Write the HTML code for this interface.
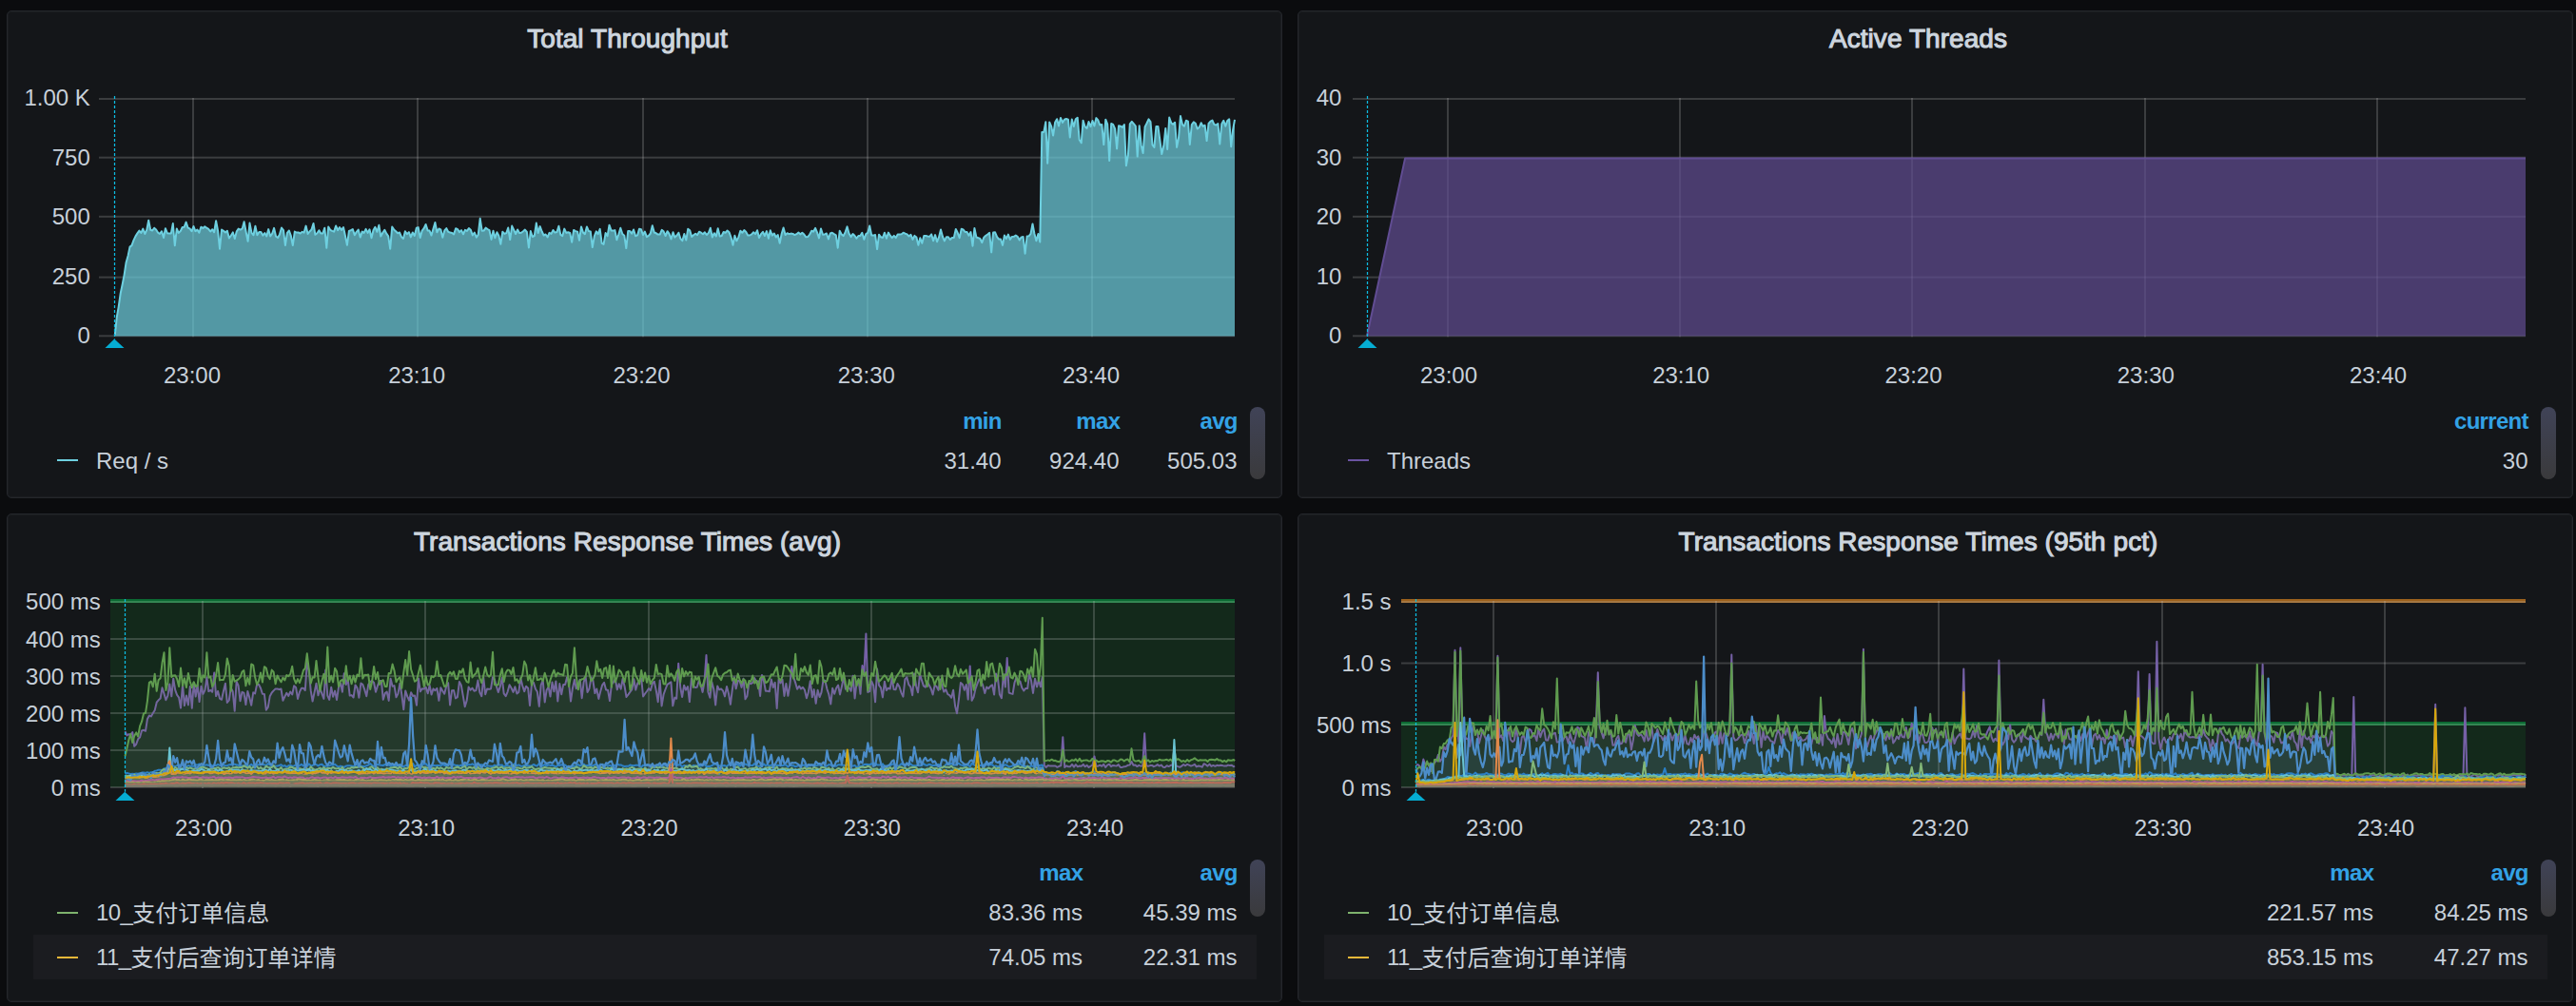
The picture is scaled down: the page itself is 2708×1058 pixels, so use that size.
<!DOCTYPE html>
<html lang="zh-CN"><head><meta charset="utf-8"><title>JMeter Dashboard</title>
<style>
html,body{margin:0;padding:0;background:#0b0c0e;}
body{width:2708px;height:1058px;position:relative;overflow:hidden;font-family:"Liberation Sans", "Noto Sans CJK SC", sans-serif;color:#c7d0d9;font-size:24px;}
.panel{position:absolute;box-sizing:border-box;background:#141619;border:1px solid #24262b;box-shadow:inset 0 0 0 1px rgba(36,38,43,0.45);border-radius:5px;}
.title{position:absolute;left:0;right:36px;text-align:center;font-size:28px;line-height:32px;color:#cdd5de;font-weight:500;-webkit-text-stroke:1.1px #cdd5de;letter-spacing:0.06px;white-space:nowrap;}
svg.charts{position:absolute;left:0;top:0;}
.t{position:absolute;white-space:nowrap;line-height:28px;height:28px;}
.r{text-align:right;}
.h{color:#33a2e5;font-weight:bold;letter-spacing:-0.7px;margin-right:-0.3px;}
.c{position:relative;top:0.7px;letter-spacing:0;}
.n{letter-spacing:-0.6px;}
.dash{position:absolute;height:2px;width:21.5px;}
.alt{position:absolute;background:#1b1c20;}
.thumb{position:absolute;width:16px;border-radius:8px;background:linear-gradient(#404357,#3a3a3c);}
</style></head><body>

<div class="panel" style="left:7px;top:11px;width:1341px;height:513px"><div class="title" style="top:13px">Total Throughput</div></div>
<div class="panel" style="left:1364px;top:11px;width:1341px;height:513px"><div class="title" style="top:13px">Active Threads</div></div>
<div class="panel" style="left:7px;top:540px;width:1341px;height:514px"><div class="title" style="top:13px">Transactions Response Times (avg)</div></div>
<div class="panel" style="left:1364px;top:540px;width:1341px;height:514px"><div class="title" style="top:13px">Transactions Response Times (95th pct)</div></div>
<div class="dash" style="left:60.4px;top:482.6px;background:#6ed0e0"></div>
<div class="t " style="left:101px;top:471px">Req / s</div>
<div class="t r h" style="right:1655.5px;top:429px">min</div>
<div class="t r h" style="right:1531px;top:429px">max</div>
<div class="t r h" style="right:1407.5px;top:429px">avg</div>
<div class="t r " style="right:1655.5px;top:471px">31.40</div>
<div class="t r " style="right:1531.5px;top:471px">924.40</div>
<div class="t r " style="right:1407.5px;top:471px">505.03</div>
<div class="thumb" style="left:1314px;top:428px;height:76px"></div>
<div class="dash" style="left:1417.4px;top:482.6px;background:#6a53a2"></div>
<div class="t " style="left:1458px;top:471px">Threads</div>
<div class="t r h" style="right:50.5px;top:429px">current</div>
<div class="t r " style="right:50.5px;top:471px">30</div>
<div class="thumb" style="left:2671px;top:428px;height:76px"></div>
<div class="alt" style="left:35px;top:983px;width:1286px;height:47px"></div>
<div class="dash" style="left:60.4px;top:958.6px;background:#7eb26d"></div>
<div class="t " style="left:101px;top:946px"><span class="n">10_</span><span class="c">支付订单信息</span></div>
<div class="dash" style="left:60.4px;top:1005.6px;background:#eab839"></div>
<div class="t " style="left:101px;top:993px"><span class="n">11_</span><span class="c">支付后查询订单详情</span></div>
<div class="t r h" style="right:1570px;top:904px">max</div>
<div class="t r h" style="right:1407.5px;top:904px">avg</div>
<div class="t r " style="right:1570px;top:946px">83.36 ms</div>
<div class="t r " style="right:1407.5px;top:946px">45.39 ms</div>
<div class="t r " style="right:1570px;top:993px">74.05 ms</div>
<div class="t r " style="right:1407.5px;top:993px">22.31 ms</div>
<div class="thumb" style="left:1314px;top:904px;height:60px"></div>
<div class="alt" style="left:1392px;top:983px;width:1286px;height:47px"></div>
<div class="dash" style="left:1417.4px;top:958.6px;background:#7eb26d"></div>
<div class="t " style="left:1458px;top:946px"><span class="n">10_</span><span class="c">支付订单信息</span></div>
<div class="dash" style="left:1417.4px;top:1005.6px;background:#eab839"></div>
<div class="t " style="left:1458px;top:993px"><span class="n">11_</span><span class="c">支付后查询订单详情</span></div>
<div class="t r h" style="right:213px;top:904px">max</div>
<div class="t r h" style="right:50.5px;top:904px">avg</div>
<div class="t r " style="right:213px;top:946px">221.57 ms</div>
<div class="t r " style="right:50.5px;top:946px">84.25 ms</div>
<div class="t r " style="right:213px;top:993px">853.15 ms</div>
<div class="t r " style="right:50.5px;top:993px">47.27 ms</div>
<div class="thumb" style="left:2671px;top:904px;height:60px"></div>
<svg class="charts" width="2708" height="1058" viewBox="0 0 2708 1058">
<g>
<rect x="104" y="352.3" width="1194" height="2" fill="rgba(200,200,200,0.22)"/>
<rect x="104" y="290.6" width="1194" height="2" fill="rgba(200,200,200,0.22)"/>
<rect x="104" y="226.8" width="1194" height="2" fill="rgba(200,200,200,0.22)"/>
<rect x="104" y="164.7" width="1194" height="2" fill="rgba(200,200,200,0.22)"/>
<rect x="104" y="103" width="1194" height="2" fill="rgba(200,200,200,0.22)"/>
<rect x="202" y="103" width="2" height="251.3" fill="rgba(200,200,200,0.22)"/>
<rect x="438" y="103" width="2" height="251.3" fill="rgba(200,200,200,0.22)"/>
<rect x="675" y="103" width="2" height="251.3" fill="rgba(200,200,200,0.22)"/>
<rect x="911" y="103" width="2" height="251.3" fill="rgba(200,200,200,0.22)"/>
<rect x="1147" y="103" width="2" height="251.3" fill="rgba(200,200,200,0.22)"/>
<g transform="scale(0.1)" stroke-linejoin="round"><path d="M1208 3523l20-189 19-108 20-141 20-95 19-99 20-132 20-70 19-93 20-15 20-55 19-40 20-32 20-28 19 24 20-44 20 54 20-44 19-99 20 101 20 7 19-28 20 17 20 33 19 13 20-28 20 68 19-98 20 51 20 3 19 0 20-105 20 231 20-177 19 44 20-18 20-41 19-2 20-52 20 60 19 8 20 29 20-53 19 51 20-15 20 31 19-60 20 12 20-17 20 15 19 11 20 27 20-23 19 30 20-120 20 107 19 188 20-202 20 14 19 15 20-17 20 78 19-28 20-33 20 66 20-77 19-27 20 10 20-12 19-71 20 105 20 100 19-192 20 103 20 24 19-95 20 94 20-33 19 1 20 36 20-25 20 34 19-74 20 73 20-29 19-56 20 88 20 12 19-35 20-69 20 25 19 160 20-131 20-24 19 53 20 103 20-145 20 10 19-1 20 10 20-17 19 8 20-70 20 84 19-25 20-21 20-64 19 118 20-16 20-30 19 32 20 1 20-58 20 210 19-222 20 33 20 11 19 7 20-61 20 47 19-31 20 28 20-29 19 87 20 101 20-149 19-7 20-11 20 62 20-35 19-22 20 80 20-60 19 13 20-40 20 40 19-36 20 89 20-82 19-32 20 50 20-70 19 118 20-39 20-29 20 39 19 27 20 133 20-231 19 28 20 18 20 20 19-7 20 47 20 17 19-76 20 28 20-20 19 53 20-49 20 34 20-81 19-7 20 110 20-75 19-24 20-42 20 64 19 2 20 49 20-71 19-64 20 103 20-38 19 8 20 85 20-74 20-23 19 37 20 8 20 4 19 14 20-62 20 9 19 30 20-20 20 42 19-44 20 10 20-28 19 16 20 58 20-30 20 51 19-27 20-171 20 129 19-1 20-30 20 14 19 11 20 98 20-92 19 76 20-61 20 37 19 89 20-130 20 21 20-8 19-56 20 126 20-145 19 41 20 43 20-45 19 34 20-1 20-16 19-16 20 24 20 164 19-173 20 59 20-10 20-134 19 104 20-69 20 54 19 40 20-10 20 30 19-46 20 10 20-39 19 26 20-6 20-63 19 92 20 12 20-75 20 43 19-7 20 8 20 97 19-128 20 12 20 5 19 92 20-144 20 62 19 15 20-77 20 47 19 3 20 167 20-118 20-49 19 27 20-52 20 150 19 10 20-118 20 31 19-115 20 57 20 2 19-5 20 101 20-59 19-65 20 62 20 17 20 134 19-180 20 0 20 26 19-42 20 67 20-8 19-67 20 6 20 57 19-34 20 55 20-13 19-23 20-83 20 73 20 8 19 13 20 0 20-48 19 15 20 47 20-48 19 27 20 55 20-72 19 54 20-18 20-31 19 62 20 23 20-72 20 65 19-117 20 15 20 67 19-18 20-15 20 14 19-34 20 10 20 16 19-20 20 27 20-21 19-51 20 97 20-43 20 32 19-82 20 84 20-6 19-40 20 8 20-23 19 17 20 53 20 82 19-99 20 55 20-39 19-66 20 20 20-28 20 19 19 35 20 1 20-12 19-21 20 19 20-39 19 79 20-39 20-24 19 42 20-49 20 77 19-85 20 53 20-21 20 40 19-25 20 87 20-100 19-62 20 76 20-19 19 9 20-5 20 3 19 12 20-9 20-17 19 19 20-16 20 18 20 27 19-2 20-26 20-38 19 9 20-37 20 47 19 58 20-99 20 63 19-4 20-9 20 59 19-59 20-8 20 14 20 13 19 133 20-179 20 37 19 16 20-39 20-58 19 71 20 36 20-31 19 18 20 29 20-26 19 0 20-33 20 70 20-56 19-13 20-74 20 100 19 1 20-6 20 151 19-154 20 26 20 7 19-53 20 61 20-62 19 31 20 24 20-22 20 22 19-35 20-2 20-2 19-15 20 10 20 7 19 21 20-16 20 50 19-40 20 17 20 82 19-75 20 54 20-76 20-1 19 5 20 3 20-24 19 68 20-61 20 71 19-48 20-79 20 75 19 44 20-42 20 1 19 27 20-20 20 0 20-91 19 39 20 53 20-94 19 7 20 26 20 1 19 37 20-37 20 146 19-187 20 95 20 7 19 8 20 41 20-54 20-19 19-13 20-16 20 204 19-208 20-2 20 49 19 23 20 0 20 64 19-105 20 36 20-44 19 53 20-30 20-1 20-13 19 13 20 36 20-30 19-3 20 176 20-182 19-2 20-24 20-105 19 104 20 75 20-73 19 85 20-1156 20 0 20-106 19 435 20-434 20 44 19 98 20-138 20-36 19 73 20-86 20 50 19-31 20-8 20 7 19 187 20-190 20 76 20-77 19-16 20 233 20 33 19-236 20 65 20 17 19-69 20 51 20-61 19 55 20-84 20 24 19 50 20-6 20 212 20-264 19 49 20 383 20-389 19 8 20 46 20 209 19-240 20 4 20 12 19-29 20 432 20-112 19-326 20-26 20 24 20 24 19 320 20-323 20 206 19 82 20-277 20-39 19-42 20 28 20 242 19 26 20-218 20-1 19 138 20 152 20-84 20-187 19 220 20-333 20 56 19 16 20-21 20 262 19-98 20-230 20 88 19 18 20-60 20 9 19 244 20-209 20-28 20 15 19 57 20-17 20-46 19 37 20-12 20 164 19-181 20-23 20-11 19 43 20 6 20-15 19 214 20-212 20-34 20 59 19-57 20-16 20 288 19-176 19-108 0 2277 -11772 0z" fill="#6ed0e0" fill-opacity="0.7"/><path d="M1208 3523l20-189 19-108 20-141 20-95 19-99 20-132 20-70 19-93 20-15 20-55 19-40 20-32 20-28 19 24 20-44 20 54 20-44 19-99 20 101 20 7 19-28 20 17 20 33 19 13 20-28 20 68 19-98 20 51 20 3 19 0 20-105 20 231 20-177 19 44 20-18 20-41 19-2 20-52 20 60 19 8 20 29 20-53 19 51 20-15 20 31 19-60 20 12 20-17 20 15 19 11 20 27 20-23 19 30 20-120 20 107 19 188 20-202 20 14 19 15 20-17 20 78 19-28 20-33 20 66 20-77 19-27 20 10 20-12 19-71 20 105 20 100 19-192 20 103 20 24 19-95 20 94 20-33 19 1 20 36 20-25 20 34 19-74 20 73 20-29 19-56 20 88 20 12 19-35 20-69 20 25 19 160 20-131 20-24 19 53 20 103 20-145 20 10 19-1 20 10 20-17 19 8 20-70 20 84 19-25 20-21 20-64 19 118 20-16 20-30 19 32 20 1 20-58 20 210 19-222 20 33 20 11 19 7 20-61 20 47 19-31 20 28 20-29 19 87 20 101 20-149 19-7 20-11 20 62 20-35 19-22 20 80 20-60 19 13 20-40 20 40 19-36 20 89 20-82 19-32 20 50 20-70 19 118 20-39 20-29 20 39 19 27 20 133 20-231 19 28 20 18 20 20 19-7 20 47 20 17 19-76 20 28 20-20 19 53 20-49 20 34 20-81 19-7 20 110 20-75 19-24 20-42 20 64 19 2 20 49 20-71 19-64 20 103 20-38 19 8 20 85 20-74 20-23 19 37 20 8 20 4 19 14 20-62 20 9 19 30 20-20 20 42 19-44 20 10 20-28 19 16 20 58 20-30 20 51 19-27 20-171 20 129 19-1 20-30 20 14 19 11 20 98 20-92 19 76 20-61 20 37 19 89 20-130 20 21 20-8 19-56 20 126 20-145 19 41 20 43 20-45 19 34 20-1 20-16 19-16 20 24 20 164 19-173 20 59 20-10 20-134 19 104 20-69 20 54 19 40 20-10 20 30 19-46 20 10 20-39 19 26 20-6 20-63 19 92 20 12 20-75 20 43 19-7 20 8 20 97 19-128 20 12 20 5 19 92 20-144 20 62 19 15 20-77 20 47 19 3 20 167 20-118 20-49 19 27 20-52 20 150 19 10 20-118 20 31 19-115 20 57 20 2 19-5 20 101 20-59 19-65 20 62 20 17 20 134 19-180 20 0 20 26 19-42 20 67 20-8 19-67 20 6 20 57 19-34 20 55 20-13 19-23 20-83 20 73 20 8 19 13 20 0 20-48 19 15 20 47 20-48 19 27 20 55 20-72 19 54 20-18 20-31 19 62 20 23 20-72 20 65 19-117 20 15 20 67 19-18 20-15 20 14 19-34 20 10 20 16 19-20 20 27 20-21 19-51 20 97 20-43 20 32 19-82 20 84 20-6 19-40 20 8 20-23 19 17 20 53 20 82 19-99 20 55 20-39 19-66 20 20 20-28 20 19 19 35 20 1 20-12 19-21 20 19 20-39 19 79 20-39 20-24 19 42 20-49 20 77 19-85 20 53 20-21 20 40 19-25 20 87 20-100 19-62 20 76 20-19 19 9 20-5 20 3 19 12 20-9 20-17 19 19 20-16 20 18 20 27 19-2 20-26 20-38 19 9 20-37 20 47 19 58 20-99 20 63 19-4 20-9 20 59 19-59 20-8 20 14 20 13 19 133 20-179 20 37 19 16 20-39 20-58 19 71 20 36 20-31 19 18 20 29 20-26 19 0 20-33 20 70 20-56 19-13 20-74 20 100 19 1 20-6 20 151 19-154 20 26 20 7 19-53 20 61 20-62 19 31 20 24 20-22 20 22 19-35 20-2 20-2 19-15 20 10 20 7 19 21 20-16 20 50 19-40 20 17 20 82 19-75 20 54 20-76 20-1 19 5 20 3 20-24 19 68 20-61 20 71 19-48 20-79 20 75 19 44 20-42 20 1 19 27 20-20 20 0 20-91 19 39 20 53 20-94 19 7 20 26 20 1 19 37 20-37 20 146 19-187 20 95 20 7 19 8 20 41 20-54 20-19 19-13 20-16 20 204 19-208 20-2 20 49 19 23 20 0 20 64 19-105 20 36 20-44 19 53 20-30 20-1 20-13 19 13 20 36 20-30 19-3 20 176 20-182 19-2 20-24 20-105 19 104 20 75 20-73 19 85 20-1156 20 0 20-106 19 435 20-434 20 44 19 98 20-138 20-36 19 73 20-86 20 50 19-31 20-8 20 7 19 187 20-190 20 76 20-77 19-16 20 233 20 33 19-236 20 65 20 17 19-69 20 51 20-61 19 55 20-84 20 24 19 50 20-6 20 212 20-264 19 49 20 383 20-389 19 8 20 46 20 209 19-240 20 4 20 12 19-29 20 432 20-112 19-326 20-26 20 24 20 24 19 320 20-323 20 206 19 82 20-277 20-39 19-42 20 28 20 242 19 26 20-218 20-1 19 138 20 152 20-84 20-187 19 220 20-333 20 56 19 16 20-21 20 262 19-98 20-230 20 88 19 18 20-60 20 9 19 244 20-209 20-28 20 15 19 57 20-17 20-46 19 37 20-12 20 164 19-181 20-23 20-11 19 43 20 6 20-15 19 214 20-212 20-34 20 59 19-57 20-16 20 288 19-176 19-108" fill="none" stroke="#6ed0e0" stroke-width="20"/></g>
<line x1="120.5" y1="101" x2="120.5" y2="356.6" stroke="#0cbce2" stroke-width="1.25" stroke-dasharray="3.1 1.9"/><path d="M110.5,366L130.5,366L120.2,356.6Z" fill="#05add3"/>
</g>
<g>
<rect x="1422" y="352.3" width="1233" height="2" fill="rgba(200,200,200,0.22)"/>
<rect x="1422" y="290.6" width="1233" height="2" fill="rgba(200,200,200,0.22)"/>
<rect x="1422" y="226.8" width="1233" height="2" fill="rgba(200,200,200,0.22)"/>
<rect x="1422" y="164.7" width="1233" height="2" fill="rgba(200,200,200,0.22)"/>
<rect x="1422" y="103" width="1233" height="2" fill="rgba(200,200,200,0.22)"/>
<rect x="1521" y="103" width="2" height="251.3" fill="rgba(200,200,200,0.22)"/>
<rect x="1765" y="103" width="2" height="251.3" fill="rgba(200,200,200,0.22)"/>
<rect x="2009" y="103" width="2" height="251.3" fill="rgba(200,200,200,0.22)"/>
<rect x="2254" y="103" width="2" height="251.3" fill="rgba(200,200,200,0.22)"/>
<rect x="2498" y="103" width="2" height="251.3" fill="rgba(200,200,200,0.22)"/>
<g transform="scale(0.1)" stroke-linejoin="round"><path d="M14370 3535l401-1871 11779 0 0 1871 -12180 0z" fill="#614d93" fill-opacity="0.7"/><path d="M14370 3535l401-1871 11779 0" fill="none" stroke="#614d93" stroke-width="20"/></g>
<line x1="1437.5" y1="101" x2="1437.5" y2="356.6" stroke="#0cbce2" stroke-width="1.25" stroke-dasharray="3.1 1.9"/><path d="M1427.5,366L1447.5,366L1437.2,356.6Z" fill="#05add3"/>
</g>
<g>
<rect x="116" y="632" width="1182" height="196" fill="rgb(11,237,50)" fill-opacity="0.09"/>
<rect x="116" y="630" width="1182" height="4" fill="rgb(6,163,69)" fill-opacity="0.6"/>
<rect x="116" y="827" width="1182" height="2" fill="rgba(200,200,200,0.22)"/>
<rect x="116" y="788" width="1182" height="2" fill="rgba(200,200,200,0.22)"/>
<rect x="116" y="749" width="1182" height="2" fill="rgba(200,200,200,0.22)"/>
<rect x="116" y="710" width="1182" height="2" fill="rgba(200,200,200,0.22)"/>
<rect x="116" y="671" width="1182" height="2" fill="rgba(200,200,200,0.22)"/>
<rect x="116" y="632" width="1182" height="2" fill="rgba(200,200,200,0.22)"/>
<rect x="212" y="632" width="2" height="197" fill="rgba(200,200,200,0.22)"/>
<rect x="446" y="632" width="2" height="197" fill="rgba(200,200,200,0.22)"/>
<rect x="681" y="632" width="2" height="197" fill="rgba(200,200,200,0.22)"/>
<rect x="915" y="632" width="2" height="197" fill="rgba(200,200,200,0.22)"/>
<rect x="1149" y="632" width="2" height="197" fill="rgba(200,200,200,0.22)"/>
<g transform="scale(0.1)" stroke-linejoin="round"><path d="M1315 7691l19 43 20-12 19 6 20-28 19 148 20-21 19-54 20-21 19-67 20-7 20 10 19-125 20-38 19 9 20-34 19-30 20-83 19-24 20-17 19-113 20 63 19 66 20-46 19-121 20 128 19-186 20 119 19 53 20 27 19 110 20-249 19 224 20-105 20 98 19-195 20 228 19-267 20 146 19-127 20 182 19-163 20 81 19-41 20-133 19 146 20-13 19 19 20-202 19 246 20-52 19 77 20 12 19-89 20-81 19 202 20-25 19-133 20 40 20 205 19-309 20 42 19 162 20-94 19 9 20 123 19-141 20 69 19 79 20-134 19 11 20-95 19-2 20 40 19 60 20 2 19 168 20-30 19-114 20-38 19-21 20-20 20 2 19 4 20-5 19 122 20-42 19-38 20 32 19-44 20 30 19-93 20 18 19 119 20-73 19-38 20-1 19 23 20-292 19 83 20 211 19 113 20-96 19-91 20 125 19-71 20 55 20 52 19-303 20 270 19 43 20-132 19 101 20-62 19 95 20-134 19-42 20 92 19-194 20 116 19-55 20 172 19-5 20 24 19-131 20 32 19 101 20-151 19 13 20 55 20 68 19-121 20-31 19-12 20 22 19 98 20-67 19-51 20 1 19 197 20-67 19-16 20 94 19-231 20 79 19-6 20 122 19-37 20-109 19 116 20 159 19-198 20 60 19 43 20-84 20 36 19-3 20 101 19-283 20 139 19-30 20 3 19-18 20 64 19-85 20 98 19-61 20 18 19-23 20 129 19-136 20 35 19 30 20-81 19-34 20 233 19-153 20-2 20 84 19-12 20-161 19 34 20 113 19 114 20-66 19-140 20 30 19-20 20 31 19-6 20-105 19 125 20 41 19-202 20 182 19-57 20 2 19-3 20-121 19 22 20 73 19 62 20-61 20-90 19 165 20 27 19-45 20-74 19 33 20 44 19-56 20 72 19-16 20-149 19 80 20 61 19-54 20 20 19 182 20-234 19-6 20 65 19 32 20 152 19-225 20-49 20 231 19-127 20-34 19 101 20-151 19 99 20-108 19 209 20-183 19 111 20-103 19 0 20-77 19 59 20 195 19-136 20-92 19 94 20-44 19-51 20 195 19-167 20-62 19 167 20-38 20-116 19 32 20 132 19-45 20 104 19-77 20-69 19-24 20 76 19 2 20 114 19-172 20-26 19-33 20 112 19-59 20 53 19-106 20 80 19 110 20-27 19-27 20-28 20-105 19 113 20-72 19-12 20-37 19 190 20-30 19-25 20-29 19 20 20-74 19-20 20 97 19 118 20-226 19 268 20-120 19-54 20-51 19-13 20-14 19 251 20-87 19 12 20-371 20 250 19 103 20-123 19 49 20-35 19 160 20-245 19 76 20 18 19-3 20-64 19 34 20 82 19-107 20-282 19 386 20 61 19-165 20 76 19 166 20-199 19 39 20-10 20 23 19 57 20-105 19 73 20 116 19-154 20-131 19 120 20-83 19 1 20 68 19-91 20 215 19-33 20-143 19 16 20-14 19-48 20 44 19-12 20 156 19-218 20 64 19 102 20 0 20 5 19-128 20 86 19-51 20 270 19-305 20 40 19-38 20 173 19-129 20 128 19-112 20-198 19 113 20 60 19 66 20-32 19 29 20-15 19 26 20 87 19-62 20-118 20 170 19-81 20 147 19-140 20 73 19-50 20-130 19 9 20 86 19 57 20 102 19-168 20 60 19-59 20-33 19 99 20-88 19-97 20 128 19-15 20 4 19 30 20-158 19 236 20-172 20-21 19 147 20-298 19 72 20-408 19 615 20-8 19-106 20 43 19 175 20-348 19 171 20 28 19 100 20-167 19 93 20-24 19 9 20-115 19 121 20 1 19-62 20 33 20 63 19 41 20-183 19-21 20 76 19 25 20 88 19-228 20 133 19 65 20-191 19 60 20 63 19 12 20-61 19 41 20 36 19 63 20-99 19 13 20 40 19-114 20 69 19 62 20-26 20 52 19 9 20 27 19-81 20 169 19 76 20-152 19-169 20 16 19 60 20-57 19 156 20-352 19 364 20-38 19-86 20-55 19-46 20 22 19 44 20 81 19-65 20 17 20-26 19-13 20 103 19-221 20 53 19 166 20 38 19-251 20 133 19-304 20 365 19 9 20 5 19-119 20-55 19 30 20 11 19 67 20 32 19-26 20 1 19-159 20 82 19 126 20-152 20 87 19-74 20 73 19-104 20 932 19 18 20-19 19 4 20 1 19 1 20-1 19 13 20-10 19-5 20-301 19 317 20-16 19 10 20-1 19-23 20 27 19-25 20 23 20-9 19 2 20-18 19 24 20-14 19 21 20-14 19-9 20-92 19 102 20 0 19-11 20 12 19-21 20 33 19-24 20-9 19 25 20-13 19 4 20 2 19-14 20 29 19-1 20-6 20-4 19-11 20-2 19-36 20 38 19-3 20 16 19-13 20 9 19-4 20-340 19 339 20 6 19-7 20-2 19 13 20-9 19-12 20 15 19-11 20 22 19 2 20-17 20 9 19-11 20-4 19-196 20 203 19 8 20 7 19-12 20-16 19 13 20-15 19 9 20 9 19-7 20-11 19 26 20-9 19 3 20 9 19-35 20 10 19 14 20-20 19 23 20-10 20 9 19-10 20 4 19-4 20 3 19 5 20 0 19-10 20 5 19-4 20 16 11-8 0 220 -11665 0z" fill="#7560a6" fill-opacity="0.1"/><path d="M1315 7691l19 43 20-12 19 6 20-28 19 148 20-21 19-54 20-21 19-67 20-7 20 10 19-125 20-38 19 9 20-34 19-30 20-83 19-24 20-17 19-113 20 63 19 66 20-46 19-121 20 128 19-186 20 119 19 53 20 27 19 110 20-249 19 224 20-105 20 98 19-195 20 228 19-267 20 146 19-127 20 182 19-163 20 81 19-41 20-133 19 146 20-13 19 19 20-202 19 246 20-52 19 77 20 12 19-89 20-81 19 202 20-25 19-133 20 40 20 205 19-309 20 42 19 162 20-94 19 9 20 123 19-141 20 69 19 79 20-134 19 11 20-95 19-2 20 40 19 60 20 2 19 168 20-30 19-114 20-38 19-21 20-20 20 2 19 4 20-5 19 122 20-42 19-38 20 32 19-44 20 30 19-93 20 18 19 119 20-73 19-38 20-1 19 23 20-292 19 83 20 211 19 113 20-96 19-91 20 125 19-71 20 55 20 52 19-303 20 270 19 43 20-132 19 101 20-62 19 95 20-134 19-42 20 92 19-194 20 116 19-55 20 172 19-5 20 24 19-131 20 32 19 101 20-151 19 13 20 55 20 68 19-121 20-31 19-12 20 22 19 98 20-67 19-51 20 1 19 197 20-67 19-16 20 94 19-231 20 79 19-6 20 122 19-37 20-109 19 116 20 159 19-198 20 60 19 43 20-84 20 36 19-3 20 101 19-283 20 139 19-30 20 3 19-18 20 64 19-85 20 98 19-61 20 18 19-23 20 129 19-136 20 35 19 30 20-81 19-34 20 233 19-153 20-2 20 84 19-12 20-161 19 34 20 113 19 114 20-66 19-140 20 30 19-20 20 31 19-6 20-105 19 125 20 41 19-202 20 182 19-57 20 2 19-3 20-121 19 22 20 73 19 62 20-61 20-90 19 165 20 27 19-45 20-74 19 33 20 44 19-56 20 72 19-16 20-149 19 80 20 61 19-54 20 20 19 182 20-234 19-6 20 65 19 32 20 152 19-225 20-49 20 231 19-127 20-34 19 101 20-151 19 99 20-108 19 209 20-183 19 111 20-103 19 0 20-77 19 59 20 195 19-136 20-92 19 94 20-44 19-51 20 195 19-167 20-62 19 167 20-38 20-116 19 32 20 132 19-45 20 104 19-77 20-69 19-24 20 76 19 2 20 114 19-172 20-26 19-33 20 112 19-59 20 53 19-106 20 80 19 110 20-27 19-27 20-28 20-105 19 113 20-72 19-12 20-37 19 190 20-30 19-25 20-29 19 20 20-74 19-20 20 97 19 118 20-226 19 268 20-120 19-54 20-51 19-13 20-14 19 251 20-87 19 12 20-371 20 250 19 103 20-123 19 49 20-35 19 160 20-245 19 76 20 18 19-3 20-64 19 34 20 82 19-107 20-282 19 386 20 61 19-165 20 76 19 166 20-199 19 39 20-10 20 23 19 57 20-105 19 73 20 116 19-154 20-131 19 120 20-83 19 1 20 68 19-91 20 215 19-33 20-143 19 16 20-14 19-48 20 44 19-12 20 156 19-218 20 64 19 102 20 0 20 5 19-128 20 86 19-51 20 270 19-305 20 40 19-38 20 173 19-129 20 128 19-112 20-198 19 113 20 60 19 66 20-32 19 29 20-15 19 26 20 87 19-62 20-118 20 170 19-81 20 147 19-140 20 73 19-50 20-130 19 9 20 86 19 57 20 102 19-168 20 60 19-59 20-33 19 99 20-88 19-97 20 128 19-15 20 4 19 30 20-158 19 236 20-172 20-21 19 147 20-298 19 72 20-408 19 615 20-8 19-106 20 43 19 175 20-348 19 171 20 28 19 100 20-167 19 93 20-24 19 9 20-115 19 121 20 1 19-62 20 33 20 63 19 41 20-183 19-21 20 76 19 25 20 88 19-228 20 133 19 65 20-191 19 60 20 63 19 12 20-61 19 41 20 36 19 63 20-99 19 13 20 40 19-114 20 69 19 62 20-26 20 52 19 9 20 27 19-81 20 169 19 76 20-152 19-169 20 16 19 60 20-57 19 156 20-352 19 364 20-38 19-86 20-55 19-46 20 22 19 44 20 81 19-65 20 17 20-26 19-13 20 103 19-221 20 53 19 166 20 38 19-251 20 133 19-304 20 365 19 9 20 5 19-119 20-55 19 30 20 11 19 67 20 32 19-26 20 1 19-159 20 82 19 126 20-152 20 87 19-74 20 73 19-104 20 932 19 18 20-19 19 4 20 1 19 1 20-1 19 13 20-10 19-5 20-301 19 317 20-16 19 10 20-1 19-23 20 27 19-25 20 23 20-9 19 2 20-18 19 24 20-14 19 21 20-14 19-9 20-92 19 102 20 0 19-11 20 12 19-21 20 33 19-24 20-9 19 25 20-13 19 4 20 2 19-14 20 29 19-1 20-6 20-4 19-11 20-2 19-36 20 38 19-3 20 16 19-13 20 9 19-4 20-340 19 339 20 6 19-7 20-2 19 13 20-9 19-12 20 15 19-11 20 22 19 2 20-17 20 9 19-11 20-4 19-196 20 203 19 8 20 7 19-12 20-16 19 13 20-15 19 9 20 9 19-7 20-11 19 26 20-9 19 3 20 9 19-35 20 10 19 14 20-20 19 23 20-10 20 9 19-10 20 4 19-4 20 3 19 5 20 0 19-10 20 5 19-4 20 16 11-8" fill="none" stroke="#7560a6" stroke-width="20"/></g>
<g transform="scale(0.1)" stroke-linejoin="round"><path d="M1315 7952l19-79 20-93 19-61 20 92 19-72 20-35 19 41 20-109 19-47 20-84 20-7 19-125 20-194 19-13 20 57 19-136 20 181 19-116 20-20 19-159 20-110 19 397 20-82 19-366 20 307 19-15 20-1 19 37 20 81 19-195 20 186 19-79 20 97 20-151 19 89 20 63 19-59 20 48 19-7 20-184 19 141 20-67 19 23 20-263 19 264 20-12 19 106 20-41 19-79 20-131 19 184 20-5 19 1 20-57 19-169 20 82 19 262 20-167 20 66 19-10 20-13 19-20 20-59 19-15 20 163 19-86 20 71 19-213 20 11 19 124 20 80 19-40 20-86 19 102 20-164 19 13 20 84 19 32 20-95 19 21 20 125 20-87 19 37 20 31 19-46 20 27 19-54 20 12 19-23 20-81 19 130 20 47 19-44 20 39 19-56 20-74 19-22 20-155 19 162 20 151 19-63 20 2 19-176 20 178 19 139 20-105 20-73 19 98 20-380 19 365 20-64 19 67 20-146 19 31 20 160 19-57 20-13 19 41 20-187 19 159 20-54 19 84 20-88 19 71 20-80 19 18 20-191 19 214 20-38 20 2 19-5 20 154 19-82 20-158 19 133 20-73 19 130 20-34 19-13 20 67 19 0 20-139 19 3 20-97 19 66 20 120 19-31 20-19 19 116 20-164 19-133 20 159 19-250 20 190 20 62 19 66 20-14 19-77 20-81 19 106 20 117 19-106 20 91 19-13 20-80 19 11 20-18 19-150 20 156 19-9 20 62 19 57 20-7 19-117 20-29 19 29 20-32 20 76 19-1 20-83 19 18 20-41 19 97 20 41 19 6 20-212 19 159 20-26 19-16 20-55 19 102 20 52 19-75 20-90 19 77 20 24 19-21 20-238 19 341 20 8 19-7 20-99 20-68 19 138 20-96 19-31 20 5 19 41 20-70 19 138 20-16 19 40 20-44 19-40 20-142 19 38 20 161 19-54 20 107 19-82 20-104 19 128 20-3 19-15 20 31 20-85 19 60 20 86 19-73 20-60 19-44 20 69 19-40 20 13 19 3 20 11 19-115 20 5 19 227 20-106 19-35 20-267 19 298 20 142 19-96 20-13 19-4 20-28 19-100 20 78 20 72 19-21 20-42 19-145 20 109 19-24 20 92 19-99 20-10 19 109 20-133 19 230 20-222 19 168 20-58 19-70 20 19 19 46 20 64 19-105 20-7 19 194 20-62 20-175 19 85 20 37 19 54 20-146 19 114 20-89 19 103 20-68 19 83 20-41 19-21 20-141 19 101 20-6 19 8 20 101 19 3 20-196 19 117 20-34 19 25 20 51 19-91 20-29 20 138 19-147 20 84 19-53 20 37 19-32 20 6 19 157 20-113 19 32 20-29 19 99 20-2 19-68 20-45 19-119 20 279 19-135 20-54 19-52 20 85 19 14 20 30 20-56 19-17 20-8 19-17 20-7 19 111 20-27 19 49 20-93 19 60 20 41 19-43 20 15 19 77 20-76 19 7 20-62 19 81 20-28 19 84 20-107 19-17 20-2 19 64 20-10 20-34 19-43 20 5 19-43 20-40 19 116 20 27 19-45 20-116 19 2 20 24 19 33 20 26 19 56 20-260 19 267 20 7 19-122 20 33 19-52 20 63 19 26 20-105 20 196 19-81 20-9 19 87 20-240 19 63 20 149 19 15 20-16 19-70 20-15 19 23 20-70 19 124 20-12 19-109 20 128 19-82 20 109 19 86 20-120 19 67 20-96 19-18 20 109 20-73 19 72 20-169 19 65 20-37 19 193 20-77 19-108 20 27 19-149 20 115 19 95 20-18 19-26 20-20 19 19 20 42 19-39 20-47 19 103 20-52 19-30 20-29 20-34 19 80 20-36 19 4 20 0 19 0 20-11 19 134 20-172 19 42 20 23 19-122 20 0 19 166 20 76 19-146 20 36 19 22 20 71 19-53 20-31 19 130 20-143 19 106 20 11 20-193 19 84 20 17 19-23 20-105 19 83 20 28 19-76 20 49 19-19 20-24 19 140 20-26 19-44 20 143 19-81 20-123 19-13 20 173 19-118 20 52 19-188 20 158 20-131 19-11 20 95 19 95 20-42 19-146 20 43 19 129 20-57 19 8 20-85 19 108 20 11 19-58 20 49 19 77 20-144 19 5 20 36 19 66 20-130 19 52 20-73 19 104 20-291 20 54 19 281 20-174 19-491 20 1508 19-4 20-7 19 6 20-13 19 12 20-1 19 10 20 4 19-16 20-111 19 128 20-20 19 15 20-4 19-12 20 7 19-16 20 25 20-29 19 29 20-11 19-1 20-2 19 11 20-3 19-25 20 23 19-4 20 16 19-4 20-6 19 2 20 11 19-16 20 4 19 13 20-21 19 0 20 12 19-2 20-19 19 1 20 17 20-14 19-5 20 28 19-140 20 118 19 14 20-3 19-5 20 23 19-25 20-44 19 57 20-15 19 23 20-17 19 9 20-8 19 3 20-15 19 6 20 2 19-3 20-5 20 10 19-13 20 25 19-125 20 110 19-13 20 11 19 16 20-9 19 12 20-22 19 18 20-16 19-6 20-14 19 17 20 12 19-9 20 2 19 2 20-4 19 18 20-21 19-1 20 2 20 4 19-13 20 15 19-1 20 16 19-13 20 14 19-20 20 5 19 0 20-7 11 12 0 273 -11665 0z" fill="#5f9b4f" fill-opacity="0.1"/><path d="M1315 7952l19-79 20-93 19-61 20 92 19-72 20-35 19 41 20-109 19-47 20-84 20-7 19-125 20-194 19-13 20 57 19-136 20 181 19-116 20-20 19-159 20-110 19 397 20-82 19-366 20 307 19-15 20-1 19 37 20 81 19-195 20 186 19-79 20 97 20-151 19 89 20 63 19-59 20 48 19-7 20-184 19 141 20-67 19 23 20-263 19 264 20-12 19 106 20-41 19-79 20-131 19 184 20-5 19 1 20-57 19-169 20 82 19 262 20-167 20 66 19-10 20-13 19-20 20-59 19-15 20 163 19-86 20 71 19-213 20 11 19 124 20 80 19-40 20-86 19 102 20-164 19 13 20 84 19 32 20-95 19 21 20 125 20-87 19 37 20 31 19-46 20 27 19-54 20 12 19-23 20-81 19 130 20 47 19-44 20 39 19-56 20-74 19-22 20-155 19 162 20 151 19-63 20 2 19-176 20 178 19 139 20-105 20-73 19 98 20-380 19 365 20-64 19 67 20-146 19 31 20 160 19-57 20-13 19 41 20-187 19 159 20-54 19 84 20-88 19 71 20-80 19 18 20-191 19 214 20-38 20 2 19-5 20 154 19-82 20-158 19 133 20-73 19 130 20-34 19-13 20 67 19 0 20-139 19 3 20-97 19 66 20 120 19-31 20-19 19 116 20-164 19-133 20 159 19-250 20 190 20 62 19 66 20-14 19-77 20-81 19 106 20 117 19-106 20 91 19-13 20-80 19 11 20-18 19-150 20 156 19-9 20 62 19 57 20-7 19-117 20-29 19 29 20-32 20 76 19-1 20-83 19 18 20-41 19 97 20 41 19 6 20-212 19 159 20-26 19-16 20-55 19 102 20 52 19-75 20-90 19 77 20 24 19-21 20-238 19 341 20 8 19-7 20-99 20-68 19 138 20-96 19-31 20 5 19 41 20-70 19 138 20-16 19 40 20-44 19-40 20-142 19 38 20 161 19-54 20 107 19-82 20-104 19 128 20-3 19-15 20 31 20-85 19 60 20 86 19-73 20-60 19-44 20 69 19-40 20 13 19 3 20 11 19-115 20 5 19 227 20-106 19-35 20-267 19 298 20 142 19-96 20-13 19-4 20-28 19-100 20 78 20 72 19-21 20-42 19-145 20 109 19-24 20 92 19-99 20-10 19 109 20-133 19 230 20-222 19 168 20-58 19-70 20 19 19 46 20 64 19-105 20-7 19 194 20-62 20-175 19 85 20 37 19 54 20-146 19 114 20-89 19 103 20-68 19 83 20-41 19-21 20-141 19 101 20-6 19 8 20 101 19 3 20-196 19 117 20-34 19 25 20 51 19-91 20-29 20 138 19-147 20 84 19-53 20 37 19-32 20 6 19 157 20-113 19 32 20-29 19 99 20-2 19-68 20-45 19-119 20 279 19-135 20-54 19-52 20 85 19 14 20 30 20-56 19-17 20-8 19-17 20-7 19 111 20-27 19 49 20-93 19 60 20 41 19-43 20 15 19 77 20-76 19 7 20-62 19 81 20-28 19 84 20-107 19-17 20-2 19 64 20-10 20-34 19-43 20 5 19-43 20-40 19 116 20 27 19-45 20-116 19 2 20 24 19 33 20 26 19 56 20-260 19 267 20 7 19-122 20 33 19-52 20 63 19 26 20-105 20 196 19-81 20-9 19 87 20-240 19 63 20 149 19 15 20-16 19-70 20-15 19 23 20-70 19 124 20-12 19-109 20 128 19-82 20 109 19 86 20-120 19 67 20-96 19-18 20 109 20-73 19 72 20-169 19 65 20-37 19 193 20-77 19-108 20 27 19-149 20 115 19 95 20-18 19-26 20-20 19 19 20 42 19-39 20-47 19 103 20-52 19-30 20-29 20-34 19 80 20-36 19 4 20 0 19 0 20-11 19 134 20-172 19 42 20 23 19-122 20 0 19 166 20 76 19-146 20 36 19 22 20 71 19-53 20-31 19 130 20-143 19 106 20 11 20-193 19 84 20 17 19-23 20-105 19 83 20 28 19-76 20 49 19-19 20-24 19 140 20-26 19-44 20 143 19-81 20-123 19-13 20 173 19-118 20 52 19-188 20 158 20-131 19-11 20 95 19 95 20-42 19-146 20 43 19 129 20-57 19 8 20-85 19 108 20 11 19-58 20 49 19 77 20-144 19 5 20 36 19 66 20-130 19 52 20-73 19 104 20-291 20 54 19 281 20-174 19-491 20 1508 19-4 20-7 19 6 20-13 19 12 20-1 19 10 20 4 19-16 20-111 19 128 20-20 19 15 20-4 19-12 20 7 19-16 20 25 20-29 19 29 20-11 19-1 20-2 19 11 20-3 19-25 20 23 19-4 20 16 19-4 20-6 19 2 20 11 19-16 20 4 19 13 20-21 19 0 20 12 19-2 20-19 19 1 20 17 20-14 19-5 20 28 19-140 20 118 19 14 20-3 19-5 20 23 19-25 20-44 19 57 20-15 19 23 20-17 19 9 20-8 19 3 20-15 19 6 20 2 19-3 20-5 20 10 19-13 20 25 19-125 20 110 19-13 20 11 19 16 20-9 19 12 20-22 19 18 20-16 19-6 20-14 19 17 20 12 19-9 20 2 19 2 20-4 19 18 20-21 19-1 20 2 20 4 19-13 20 15 19-1 20 16 19-13 20 14 19-20 20 5 19 0 20-7 11 12" fill="none" stroke="#5f9b4f" stroke-width="20"/></g>
<g transform="scale(0.1)" stroke-linejoin="round"><path d="M1315 8141l19-12 20 6 19 4 20-2 19 2 20-5 19 4 20-7 19-5 20-2 20 6 19-8 20 7 19-6 20 0 19-15 20-3 19-8 20 0 19 4 20-18 19 0 20-13 19-13 20-2 19 0 20 4 19-8 20-3 19-3 20 1 19 9 20 13 20-18 19 7 20-1 19 2 20-15 19 3 20-11 19 31 20-22 19 3 20-4 19 7 20-9 19 16 20-10 19 4 20-12 19 10 20-4 19-4 20 12 19-1 20-9 19-2 20 2 20-7 19 9 20 0 19 23 20-15 19 4 20-12 19 12 20-3 19-15 20 16 19-7 20-2 19-4 20-2 19-1 20 4 19 6 20-19 19 14 20 10 19-2 20 5 20-1 19-6 20-7 19 14 20-6 19 15 20-14 19-6 20 13 19-5 20-9 19 17 20-11 19-13 20 16 19-5 20 11 19-27 20 19 19-2 20-17 19 9 20 12 19-12 20-5 20 21 19-1 20-3 19-1 20-10 19 4 20-9 19 16 20 12 19-10 20 6 19 7 20-14 19-2 20-1 19 2 20 9 19-25 20 7 19 14 20-5 19 6 20 1 20-8 19-7 20-16 19 19 20 10 19-16 20-2 19 4 20 2 19 3 20-10 19 5 20 2 19 10 20-13 19 13 20-10 19 2 20-3 19 10 20 8 19-13 20-14 19 17 20-4 20-20 19 34 20-15 19 2 20-9 19 7 20-19 19 2 20 23 19-1 20-5 19-2 20 6 19-2 20-1 19 5 20-16 19 11 20-1 19 1 20-16 19 15 20-8 20 8 19 0 20 7 19-10 20 20 19-18 20 4 19-12 20 3 19-10 20 15 19-4 20-3 19 2 20 0 19 4 20 14 19-9 20 4 19 2 20 2 19-13 20 11 19-19 20 8 20-2 19 21 20-16 19 1 20 7 19-1 20-15 19-10 20 20 19-8 20 13 19 1 20-8 19 3 20 0 19 3 20-5 19-11 20 10 19 5 20-26 19 35 20-13 20-10 19 15 20-12 19 5 20-2 19 7 20 10 19-17 20 3 19-8 20 4 19-2 20 18 19 3 20-7 19-4 20 3 19-2 20-15 19 14 20-8 19-11 20 18 19-2 20-1 20 5 19-3 20-11 19 1 20 18 19-24 20 5 19 4 20-2 19 14 20-9 19 11 20-15 19 13 20-22 19 10 20-1 19 11 20 5 19-3 20 1 19-13 20 6 20 1 19-5 20 0 19 10 20 10 19-20 20 9 19-5 20 0 19-6 20 7 19 6 20-5 19-7 20 12 19-3 20-14 19 6 20 7 19-5 20-3 19 10 20-28 19 18 20-4 20 4 19 16 20-12 19 6 20-1 19-7 20 15 19-12 20 1 19 2 20-1 19 2 20-9 19-8 20 22 19-3 20 2 19-8 20-13 19-6 20 16 19 5 20 3 20-4 19-1 20 10 19-19 20 0 19 2 20 9 19-15 20 4 19 14 20-13 19 0 20-9 19 12 20-1 19 3 20 2 19-20 20 26 19 1 20-2 19 3 20-24 19 18 20-10 20 14 19-10 20-6 19 4 20 6 19-2 20 1 19 4 20-7 19-1 20 22 19-23 20 9 19-1 20 11 19-7 20-6 19 6 20-9 19-2 20 24 19-17 20 1 20-9 19 1 20 8 19-4 20-5 19 12 20 12 19-5 20-10 19-12 20 4 19 13 20-5 19 4 20-15 19 0 20 6 19 0 20 1 19-7 20 4 19 4 20 6 19-7 20 21 20-11 19-2 20-2 19-14 20-3 19 1 20 5 19-13 20 12 19-17 20 18 19 1 20-3 19-9 20 32 19-11 20 1 19-5 20-11 19-7 20 22 19 2 20-2 20-23 19 12 20-3 19-7 20 13 19-13 20 17 19 3 20 0 19-7 20 7 19-6 20-16 19 15 20 3 19-11 20 7 19 4 20-2 19 4 20-13 19 11 20 23 19-9 20-22 20-17 19 17 20-12 19 12 20 7 19-14 20-6 19 16 20 5 19 9 20-14 19 4 20 15 19-36 20 15 19 10 20 3 19 2 20-10 19 10 20-24 19 8 20 8 20-8 19 2 20 18 19-8 20 11 19-7 20-14 19 10 20-11 19 8 20 15 19-5 20-7 19-12 20-1 19-2 20-1 19 13 20 7 19 4 20-6 19 9 20-11 19 6 20-8 20-4 19 3 20-2 19-3 20 86 19 11 20 9 19-22 20 12 19-1 20 5 19-37 20 10 19 34 20-28 19 21 20-16 19 0 20 17 19-16 20-11 19-10 20 17 20 14 19 15 20-17 19-10 20 8 19 1 20-9 19-12 20-2 19 27 20-10 19 8 20 0 19-8 20 11 19-5 20-1 19 7 20-21 19-3 20 22 19-1 20 5 19 4 20-16 20-1 19 3 20 10 19-10 20-2 19 13 20-4 19-3 20 5 19 4 20 2 19-3 20-21 19 12 20-2 19 10 20-15 19 9 20-9 19-5 20 18 19-12 20 16 20-9 19-11 20 2 19 24 20-8 19-16 20-1 19-3 20-4 19 9 20 6 19-13 20-1 19 11 20-13 19 24 20-25 19 9 20 12 19-2 20-23 19 9 20 12 19 5 20-7 20 1 19 2 20 2 19 7 20 10 19-25 20 3 19 22 20-9 19-5 20-6 11 8 0 130 -11665 0z" fill="#2a7fc6" fill-opacity="0.1"/><path d="M1315 8141l19-12 20 6 19 4 20-2 19 2 20-5 19 4 20-7 19-5 20-2 20 6 19-8 20 7 19-6 20 0 19-15 20-3 19-8 20 0 19 4 20-18 19 0 20-13 19-13 20-2 19 0 20 4 19-8 20-3 19-3 20 1 19 9 20 13 20-18 19 7 20-1 19 2 20-15 19 3 20-11 19 31 20-22 19 3 20-4 19 7 20-9 19 16 20-10 19 4 20-12 19 10 20-4 19-4 20 12 19-1 20-9 19-2 20 2 20-7 19 9 20 0 19 23 20-15 19 4 20-12 19 12 20-3 19-15 20 16 19-7 20-2 19-4 20-2 19-1 20 4 19 6 20-19 19 14 20 10 19-2 20 5 20-1 19-6 20-7 19 14 20-6 19 15 20-14 19-6 20 13 19-5 20-9 19 17 20-11 19-13 20 16 19-5 20 11 19-27 20 19 19-2 20-17 19 9 20 12 19-12 20-5 20 21 19-1 20-3 19-1 20-10 19 4 20-9 19 16 20 12 19-10 20 6 19 7 20-14 19-2 20-1 19 2 20 9 19-25 20 7 19 14 20-5 19 6 20 1 20-8 19-7 20-16 19 19 20 10 19-16 20-2 19 4 20 2 19 3 20-10 19 5 20 2 19 10 20-13 19 13 20-10 19 2 20-3 19 10 20 8 19-13 20-14 19 17 20-4 20-20 19 34 20-15 19 2 20-9 19 7 20-19 19 2 20 23 19-1 20-5 19-2 20 6 19-2 20-1 19 5 20-16 19 11 20-1 19 1 20-16 19 15 20-8 20 8 19 0 20 7 19-10 20 20 19-18 20 4 19-12 20 3 19-10 20 15 19-4 20-3 19 2 20 0 19 4 20 14 19-9 20 4 19 2 20 2 19-13 20 11 19-19 20 8 20-2 19 21 20-16 19 1 20 7 19-1 20-15 19-10 20 20 19-8 20 13 19 1 20-8 19 3 20 0 19 3 20-5 19-11 20 10 19 5 20-26 19 35 20-13 20-10 19 15 20-12 19 5 20-2 19 7 20 10 19-17 20 3 19-8 20 4 19-2 20 18 19 3 20-7 19-4 20 3 19-2 20-15 19 14 20-8 19-11 20 18 19-2 20-1 20 5 19-3 20-11 19 1 20 18 19-24 20 5 19 4 20-2 19 14 20-9 19 11 20-15 19 13 20-22 19 10 20-1 19 11 20 5 19-3 20 1 19-13 20 6 20 1 19-5 20 0 19 10 20 10 19-20 20 9 19-5 20 0 19-6 20 7 19 6 20-5 19-7 20 12 19-3 20-14 19 6 20 7 19-5 20-3 19 10 20-28 19 18 20-4 20 4 19 16 20-12 19 6 20-1 19-7 20 15 19-12 20 1 19 2 20-1 19 2 20-9 19-8 20 22 19-3 20 2 19-8 20-13 19-6 20 16 19 5 20 3 20-4 19-1 20 10 19-19 20 0 19 2 20 9 19-15 20 4 19 14 20-13 19 0 20-9 19 12 20-1 19 3 20 2 19-20 20 26 19 1 20-2 19 3 20-24 19 18 20-10 20 14 19-10 20-6 19 4 20 6 19-2 20 1 19 4 20-7 19-1 20 22 19-23 20 9 19-1 20 11 19-7 20-6 19 6 20-9 19-2 20 24 19-17 20 1 20-9 19 1 20 8 19-4 20-5 19 12 20 12 19-5 20-10 19-12 20 4 19 13 20-5 19 4 20-15 19 0 20 6 19 0 20 1 19-7 20 4 19 4 20 6 19-7 20 21 20-11 19-2 20-2 19-14 20-3 19 1 20 5 19-13 20 12 19-17 20 18 19 1 20-3 19-9 20 32 19-11 20 1 19-5 20-11 19-7 20 22 19 2 20-2 20-23 19 12 20-3 19-7 20 13 19-13 20 17 19 3 20 0 19-7 20 7 19-6 20-16 19 15 20 3 19-11 20 7 19 4 20-2 19 4 20-13 19 11 20 23 19-9 20-22 20-17 19 17 20-12 19 12 20 7 19-14 20-6 19 16 20 5 19 9 20-14 19 4 20 15 19-36 20 15 19 10 20 3 19 2 20-10 19 10 20-24 19 8 20 8 20-8 19 2 20 18 19-8 20 11 19-7 20-14 19 10 20-11 19 8 20 15 19-5 20-7 19-12 20-1 19-2 20-1 19 13 20 7 19 4 20-6 19 9 20-11 19 6 20-8 20-4 19 3 20-2 19-3 20 86 19 11 20 9 19-22 20 12 19-1 20 5 19-37 20 10 19 34 20-28 19 21 20-16 19 0 20 17 19-16 20-11 19-10 20 17 20 14 19 15 20-17 19-10 20 8 19 1 20-9 19-12 20-2 19 27 20-10 19 8 20 0 19-8 20 11 19-5 20-1 19 7 20-21 19-3 20 22 19-1 20 5 19 4 20-16 20-1 19 3 20 10 19-10 20-2 19 13 20-4 19-3 20 5 19 4 20 2 19-3 20-21 19 12 20-2 19 10 20-15 19 9 20-9 19-5 20 18 19-12 20 16 20-9 19-11 20 2 19 24 20-8 19-16 20-1 19-3 20-4 19 9 20 6 19-13 20-1 19 11 20-13 19 24 20-25 19 9 20 12 19-2 20-23 19 9 20 12 19 5 20-7 20 1 19 2 20 2 19 7 20 10 19-25 20 3 19 22 20-9 19-5 20-6 11 8" fill="none" stroke="#2a7fc6" stroke-width="20"/></g>
<g transform="scale(0.1)" stroke-linejoin="round"><path d="M1315 8162l19-3 20 4 19-7 20 6 19-17 20 16 19-6 20-6 19-10 20 4 20 12 19-2 20-11 19 12 20-2 19-21 20 0 19 2 20-8 19-25 20-9 19 5 20-15 19 11 20-3 19 4 20-23 19 16 20-9 19 6 20 3 19 2 20-18 20 13 19-9 20 8 19 7 20-8 19 8 20-9 19-11 20-3 19 9 20 8 19 6 20-1 19-1 20-7 19-3 20-6 19 11 20 5 19-15 20 5 19 3 20-7 19 16 20-16 20 0 19-6 20 7 19-4 20-1 19-16 20 11 19 13 20-17 19 23 20-15 19-11 20 3 19 25 20-14 19 16 20-4 19-26 20 13 19 3 20-4 19-18 20 28 20 12 19 0 20-21 19 31 20-13 19-1 20-6 19-15 20 3 19 12 20-4 19 10 20-6 19 7 20 3 19-17 20 11 19 14 20-36 19 19 20 13 19-3 20-5 19-11 20 14 20-21 19 21 20-12 19 2 20 2 19-13 20 11 19 4 20-5 19 13 20-24 19 31 20-8 19-10 20 3 19-14 20 4 19-4 20 1 19-8 20 1 19 11 20 16 20-9 19 8 20-21 19-6 20 24 19-7 20-7 19 23 20-9 19 10 20-1 19-15 20 5 19-11 20-3 19-1 20 0 19 15 20-26 19 27 20-3 19-4 20 2 19-21 20 17 20 13 19 2 20-14 19-3 20-7 19-6 20 9 19-1 20 6 19-5 20 15 19-10 20 13 19-21 20 14 19-9 20 10 19 14 20-30 19 9 20-3 19 8 20-2 20-7 19-8 20 11 19 5 20-17 19-10 20 41 19-25 20 0 19 8 20-9 19 29 20-32 19 23 20-6 19 7 20 2 19-15 20 7 19-2 20-4 19-5 20-11 19 17 20-7 20-7 19 25 20-16 19 2 20-5 19 21 20-41 19 21 20 2 19 2 20 6 19 2 20-20 19 14 20-4 19-3 20-10 19 21 20 11 19-7 20-4 19 3 20-7 20-8 19 5 20 3 19-1 20 5 19-4 20 7 19-2 20 12 19-19 20 10 19 0 20-14 19-2 20 9 19-1 20 2 19-15 20 9 19 10 20-1 19-32 20 13 19 13 20-5 20-3 19 16 20-22 19 12 20 5 19-9 20 2 19 8 20-2 19-3 20 7 19-8 20 9 19 5 20 0 19-2 20 15 19-21 20 8 19-4 20 5 19-13 20-9 20 10 19 13 20-4 19-2 20-2 19 11 20-18 19 15 20 13 19-11 20-28 19 3 20-1 19 10 20-9 19-1 20 3 19 8 20-3 19 20 20-22 19 9 20-4 19-2 20 15 20-1 19-9 20 10 19-33 20 11 19-24 20 22 19-1 20-5 19-4 20 33 19-9 20 12 19 7 20-21 19 7 20-4 19-1 20 6 19-7 20 8 19-6 20-17 20 23 19 12 20-26 19 36 20-25 19 5 20 0 19-20 20-5 19 24 20-1 19-4 20-5 19 21 20-14 19-3 20-2 19-1 20-15 19 28 20-16 19 23 20-15 19-11 20 1 20-5 19 5 20-12 19 21 20-18 19 32 20-8 19-11 20 6 19-3 20 7 19 8 20-20 19 27 20-14 19 12 20-13 19-9 20 7 19-14 20 19 19-13 20-1 20 16 19-29 20 13 19 7 20 11 19-27 20 2 19 5 20 13 19-13 20 22 19-18 20 23 19-7 20-17 19 6 20 17 19-32 20 29 19-12 20-1 19 0 20 9 19-6 20-10 20 3 19-13 20-3 19 3 20 0 19-11 20 6 19 20 20 4 19 0 20-5 19 22 20-9 19-5 20 5 19-24 20 16 19-18 20 20 19-18 20 2 19 10 20-20 20 3 19 11 20-4 19 17 20-6 19-13 20-3 19-2 20 6 19 19 20-3 19-3 20 8 19 1 20-11 19 1 20-18 19 10 20 5 19-4 20 17 19-19 20-3 19-12 20 7 20-1 19 2 20-13 19 20 20 2 19 8 20 4 19-13 20 2 19-4 20-4 19 13 20 2 19-3 20 6 19-10 20-10 19 7 20 19 19-19 20 9 19 4 20-14 20 11 19 4 20-22 19 18 20-9 19-1 20 7 19 6 20-11 19 6 20 0 19 9 20-7 19-16 20-8 19-5 20 16 19-7 20 7 19 8 20-21 19 14 20 14 19 8 20-28 20 8 19 11 20-6 19-2 20 73 19-2 20-12 19 9 20 0 19 0 20 17 19-21 20 1 19 12 20-19 19 12 20 7 19-21 20 1 19 7 20-13 19 15 20-8 20 13 19-17 20 13 19-5 20 7 19-4 20 0 19 10 20-4 19-8 20 13 19-12 20 10 19-1 20 3 19 4 20-10 19-10 20 13 19-3 20-16 19 12 20 4 19-1 20-7 20 2 19 22 20-18 19-7 20 11 19 2 20-2 19-1 20 3 19 4 20 9 19-16 20-15 19 3 20 16 19-3 20 5 19-10 20 2 19-7 20 10 19 9 20-9 20-10 19-5 20 22 19-17 20 12 19-16 20 4 19 15 20-7 19-7 20 2 19 4 20-8 19 4 20-7 19-2 20 5 19-10 20 15 19-7 20 11 19-5 20 1 19-5 20 15 20 5 19-11 20-11 19 7 20 5 19-8 20-3 19 10 20-1 19 7 20-17 11 9 0 128 -11665 0z" fill="#82b777" fill-opacity="0.1"/><path d="M1315 8162l19-3 20 4 19-7 20 6 19-17 20 16 19-6 20-6 19-10 20 4 20 12 19-2 20-11 19 12 20-2 19-21 20 0 19 2 20-8 19-25 20-9 19 5 20-15 19 11 20-3 19 4 20-23 19 16 20-9 19 6 20 3 19 2 20-18 20 13 19-9 20 8 19 7 20-8 19 8 20-9 19-11 20-3 19 9 20 8 19 6 20-1 19-1 20-7 19-3 20-6 19 11 20 5 19-15 20 5 19 3 20-7 19 16 20-16 20 0 19-6 20 7 19-4 20-1 19-16 20 11 19 13 20-17 19 23 20-15 19-11 20 3 19 25 20-14 19 16 20-4 19-26 20 13 19 3 20-4 19-18 20 28 20 12 19 0 20-21 19 31 20-13 19-1 20-6 19-15 20 3 19 12 20-4 19 10 20-6 19 7 20 3 19-17 20 11 19 14 20-36 19 19 20 13 19-3 20-5 19-11 20 14 20-21 19 21 20-12 19 2 20 2 19-13 20 11 19 4 20-5 19 13 20-24 19 31 20-8 19-10 20 3 19-14 20 4 19-4 20 1 19-8 20 1 19 11 20 16 20-9 19 8 20-21 19-6 20 24 19-7 20-7 19 23 20-9 19 10 20-1 19-15 20 5 19-11 20-3 19-1 20 0 19 15 20-26 19 27 20-3 19-4 20 2 19-21 20 17 20 13 19 2 20-14 19-3 20-7 19-6 20 9 19-1 20 6 19-5 20 15 19-10 20 13 19-21 20 14 19-9 20 10 19 14 20-30 19 9 20-3 19 8 20-2 20-7 19-8 20 11 19 5 20-17 19-10 20 41 19-25 20 0 19 8 20-9 19 29 20-32 19 23 20-6 19 7 20 2 19-15 20 7 19-2 20-4 19-5 20-11 19 17 20-7 20-7 19 25 20-16 19 2 20-5 19 21 20-41 19 21 20 2 19 2 20 6 19 2 20-20 19 14 20-4 19-3 20-10 19 21 20 11 19-7 20-4 19 3 20-7 20-8 19 5 20 3 19-1 20 5 19-4 20 7 19-2 20 12 19-19 20 10 19 0 20-14 19-2 20 9 19-1 20 2 19-15 20 9 19 10 20-1 19-32 20 13 19 13 20-5 20-3 19 16 20-22 19 12 20 5 19-9 20 2 19 8 20-2 19-3 20 7 19-8 20 9 19 5 20 0 19-2 20 15 19-21 20 8 19-4 20 5 19-13 20-9 20 10 19 13 20-4 19-2 20-2 19 11 20-18 19 15 20 13 19-11 20-28 19 3 20-1 19 10 20-9 19-1 20 3 19 8 20-3 19 20 20-22 19 9 20-4 19-2 20 15 20-1 19-9 20 10 19-33 20 11 19-24 20 22 19-1 20-5 19-4 20 33 19-9 20 12 19 7 20-21 19 7 20-4 19-1 20 6 19-7 20 8 19-6 20-17 20 23 19 12 20-26 19 36 20-25 19 5 20 0 19-20 20-5 19 24 20-1 19-4 20-5 19 21 20-14 19-3 20-2 19-1 20-15 19 28 20-16 19 23 20-15 19-11 20 1 20-5 19 5 20-12 19 21 20-18 19 32 20-8 19-11 20 6 19-3 20 7 19 8 20-20 19 27 20-14 19 12 20-13 19-9 20 7 19-14 20 19 19-13 20-1 20 16 19-29 20 13 19 7 20 11 19-27 20 2 19 5 20 13 19-13 20 22 19-18 20 23 19-7 20-17 19 6 20 17 19-32 20 29 19-12 20-1 19 0 20 9 19-6 20-10 20 3 19-13 20-3 19 3 20 0 19-11 20 6 19 20 20 4 19 0 20-5 19 22 20-9 19-5 20 5 19-24 20 16 19-18 20 20 19-18 20 2 19 10 20-20 20 3 19 11 20-4 19 17 20-6 19-13 20-3 19-2 20 6 19 19 20-3 19-3 20 8 19 1 20-11 19 1 20-18 19 10 20 5 19-4 20 17 19-19 20-3 19-12 20 7 20-1 19 2 20-13 19 20 20 2 19 8 20 4 19-13 20 2 19-4 20-4 19 13 20 2 19-3 20 6 19-10 20-10 19 7 20 19 19-19 20 9 19 4 20-14 20 11 19 4 20-22 19 18 20-9 19-1 20 7 19 6 20-11 19 6 20 0 19 9 20-7 19-16 20-8 19-5 20 16 19-7 20 7 19 8 20-21 19 14 20 14 19 8 20-28 20 8 19 11 20-6 19-2 20 73 19-2 20-12 19 9 20 0 19 0 20 17 19-21 20 1 19 12 20-19 19 12 20 7 19-21 20 1 19 7 20-13 19 15 20-8 20 13 19-17 20 13 19-5 20 7 19-4 20 0 19 10 20-4 19-8 20 13 19-12 20 10 19-1 20 3 19 4 20-10 19-10 20 13 19-3 20-16 19 12 20 4 19-1 20-7 20 2 19 22 20-18 19-7 20 11 19 2 20-2 19-1 20 3 19 4 20 9 19-16 20-15 19 3 20 16 19-3 20 5 19-10 20 2 19-7 20 10 19 9 20-9 20-10 19-5 20 22 19-17 20 12 19-16 20 4 19 15 20-7 19-7 20 2 19 4 20-8 19 4 20-7 19-2 20 5 19-10 20 15 19-7 20 11 19-5 20 1 19-5 20 15 20 5 19-11 20-11 19 7 20 5 19-8 20-3 19 10 20-1 19 7 20-17 11 9" fill="none" stroke="#82b777" stroke-width="20"/></g>
<g transform="scale(0.1)" stroke-linejoin="round"><path d="M1315 8173l19-1 20-7 19-7 20-1 19 10 20-9 19 17 20-7 19-11 20 11 20-14 19 19 20-15 19 7 20-16 19 21 20-20 19-10 20-2 19-2 20-9 19 18 20-20 19-259 20 256 19-25 20 2 19-2 20 11 19-16 20-7 19 10 20 0 20 12 19 11 20-10 19-4 20 4 19-5 20 1 19-17 20 7 19 14 20 7 19-23 20 18 19 4 20-6 19-15 20 15 19-12 20 4 19 16 20 2 19-5 20-13 19-1 20-2 20 0 19-1 20 1 19 11 20-16 19 10 20 1 19 6 20-1 19-9 20 5 19 1 20 1 19 1 20 3 19-4 20-11 19 4 20 13 19-27 20 26 19-1 20-3 20-15 19 20 20 7 19-11 20 4 19-8 20-2 19-6 20 7 19 7 20-16 19 11 20-5 19-2 20-3 19 2 20 6 19-16 20 21 19-8 20 15 19-13 20 13 19-12 20-6 20-2 19 5 20-2 19 17 20-12 19 19 20-4 19-9 20-1 19-15 20 9 19-3 20 3 19 13 20-8 19-5 20 10 19 1 20-3 19-10 20 24 19-24 20 2 20-20 19 11 20-4 19 14 20 12 19-28 20 18 19 8 20-6 19-13 20 4 19 14 20-4 19-13 20 3 19 4 20 4 19 2 20-3 19 9 20-18 19 20 20 1 19-11 20-12 20 24 19-5 20 1 19-9 20-2 19 10 20-23 19-2 20 22 19-10 20-4 19 11 20-3 19 6 20 3 19-6 20 12 19-8 20 6 19-11 20 7 19-4 20-5 20-2 19 7 20-1 19 3 20-13 19 0 20 9 19 2 20 3 19-6 20 4 19 11 20-16 19 10 20-10 19 6 20-5 19-8 20 11 19-2 20-9 19 8 20 1 19-15 20 6 20 8 19 8 20-21 19 12 20-7 19 3 20 2 19 1 20-9 19 14 20 0 19 1 20-10 19-2 20 4 19 9 20-13 19 14 20 4 19-1 20-4 19-19 20 12 20 2 19-2 20 2 19 0 20-9 19 12 20 3 19-25 20 18 19-6 20 8 19-3 20-9 19 3 20 15 19 6 20-18 19 12 20-8 19-12 20 11 19-3 20-5 19 3 20 5 20-9 19 10 20-1 19-5 20 1 19-8 20 14 19 6 20-6 19-5 20 8 19-23 20 13 19-7 20 16 19-20 20 1 19 11 20 7 19-5 20 4 19-11 20 11 20-17 19 10 20 9 19-9 20 3 19 9 20-19 19 18 20-16 19 18 20 6 19-22 20 7 19-6 20 20 19-15 20-7 19 11 20 3 19-11 20 3 19 7 20 0 19-4 20 4 20-19 19-4 20 11 19 6 20-3 19-1 20 10 19-8 20 16 19-12 20-2 19 4 20-3 19-2 20-19 19 32 20-12 19 3 20 7 19-11 20 1 19 2 20 3 20 16 19-30 20 12 19 18 20-8 19-18 20-2 19 3 20 17 19-14 20 1 19 5 20 0 19-2 20 10 19-12 20-12 19 13 20-14 19 2 20 17 19-17 20 1 19-8 20 21 20-23 19 21 20-8 19 5 20 12 19-14 20 3 19-8 20 0 19 14 20-8 19 0 20 4 19-7 20 4 19-3 20 2 19 5 20 4 19 0 20-1 19-2 20 0 20 9 19-13 20 0 19-4 20 8 19-4 20 1 19-5 20-3 19 1 20 18 19-9 20 12 19-1 20-8 19-2 20-17 19 17 20-4 19-16 20 0 19 12 20 6 19-7 20 5 20-14 19 13 20 4 19 0 20-6 19 4 20-6 19 10 20-4 19 7 20-7 19 3 20-22 19 22 20-11 19 11 20-7 19 18 20-8 19 0 20-5 19 7 20-2 20-11 19 8 20 6 19-11 20 3 19 3 20-3 19-3 20-3 19 8 20-1 19-18 20 7 19 9 20-3 19-4 20 0 19 15 20-13 19 11 20-2 19-13 20 17 19 10 20-20 20 9 19-1 20-4 19 3 20-8 19 11 20-16 19 15 20-7 19 10 20-21 19 4 20-7 19-2 20 9 19 19 20-17 19 10 20-6 19 4 20-6 19-5 20 19 20 0 19-8 20 5 19-14 20 7 19-4 20 4 19-5 20-8 19 2 20 8 19 11 20 0 19-8 20 0 19-3 20 1 19 5 20-4 19 10 20-4 19 1 20-7 19-1 20 2 20-2 19-2 20 2 19-6 20 68 19-4 20-6 19 12 20-8 19 6 20-18 19 25 20-14 19 12 20-2 19-12 20 7 19 3 20-8 19 6 20 1 19-5 20-1 20-6 19-7 20 28 19-11 20-4 19 0 20 3 19 0 20 3 19-10 20-4 19 3 20 12 19-7 20-14 19 17 20-3 19 2 20-7 19 6 20 3 19-4 20-4 19 5 20-8 20-1 19 16 20-11 19 10 20-5 19-9 20 16 19 3 20-15 19 0 20 6 19-1 20-2 19-21 20 33 19-5 20-2 19 4 20-1 19 4 20-21 19 20 20-5 20 5 19-8 20 1 19-382 20 387 19-1 20-9 19 18 20-11 19 7 20-18 19 6 20-3 19 11 20-7 19 5 20 5 19-8 20-9 19-5 20 10 19-1 20-9 19 9 20 2 20-9 19 14 20-5 19 11 20-5 19-13 20 6 19 12 20-22 19 9 20-11 11 10 0 119 -11665 0z" fill="#69c4d2" fill-opacity="0.1"/><path d="M1315 8173l19-1 20-7 19-7 20-1 19 10 20-9 19 17 20-7 19-11 20 11 20-14 19 19 20-15 19 7 20-16 19 21 20-20 19-10 20-2 19-2 20-9 19 18 20-20 19-259 20 256 19-25 20 2 19-2 20 11 19-16 20-7 19 10 20 0 20 12 19 11 20-10 19-4 20 4 19-5 20 1 19-17 20 7 19 14 20 7 19-23 20 18 19 4 20-6 19-15 20 15 19-12 20 4 19 16 20 2 19-5 20-13 19-1 20-2 20 0 19-1 20 1 19 11 20-16 19 10 20 1 19 6 20-1 19-9 20 5 19 1 20 1 19 1 20 3 19-4 20-11 19 4 20 13 19-27 20 26 19-1 20-3 20-15 19 20 20 7 19-11 20 4 19-8 20-2 19-6 20 7 19 7 20-16 19 11 20-5 19-2 20-3 19 2 20 6 19-16 20 21 19-8 20 15 19-13 20 13 19-12 20-6 20-2 19 5 20-2 19 17 20-12 19 19 20-4 19-9 20-1 19-15 20 9 19-3 20 3 19 13 20-8 19-5 20 10 19 1 20-3 19-10 20 24 19-24 20 2 20-20 19 11 20-4 19 14 20 12 19-28 20 18 19 8 20-6 19-13 20 4 19 14 20-4 19-13 20 3 19 4 20 4 19 2 20-3 19 9 20-18 19 20 20 1 19-11 20-12 20 24 19-5 20 1 19-9 20-2 19 10 20-23 19-2 20 22 19-10 20-4 19 11 20-3 19 6 20 3 19-6 20 12 19-8 20 6 19-11 20 7 19-4 20-5 20-2 19 7 20-1 19 3 20-13 19 0 20 9 19 2 20 3 19-6 20 4 19 11 20-16 19 10 20-10 19 6 20-5 19-8 20 11 19-2 20-9 19 8 20 1 19-15 20 6 20 8 19 8 20-21 19 12 20-7 19 3 20 2 19 1 20-9 19 14 20 0 19 1 20-10 19-2 20 4 19 9 20-13 19 14 20 4 19-1 20-4 19-19 20 12 20 2 19-2 20 2 19 0 20-9 19 12 20 3 19-25 20 18 19-6 20 8 19-3 20-9 19 3 20 15 19 6 20-18 19 12 20-8 19-12 20 11 19-3 20-5 19 3 20 5 20-9 19 10 20-1 19-5 20 1 19-8 20 14 19 6 20-6 19-5 20 8 19-23 20 13 19-7 20 16 19-20 20 1 19 11 20 7 19-5 20 4 19-11 20 11 20-17 19 10 20 9 19-9 20 3 19 9 20-19 19 18 20-16 19 18 20 6 19-22 20 7 19-6 20 20 19-15 20-7 19 11 20 3 19-11 20 3 19 7 20 0 19-4 20 4 20-19 19-4 20 11 19 6 20-3 19-1 20 10 19-8 20 16 19-12 20-2 19 4 20-3 19-2 20-19 19 32 20-12 19 3 20 7 19-11 20 1 19 2 20 3 20 16 19-30 20 12 19 18 20-8 19-18 20-2 19 3 20 17 19-14 20 1 19 5 20 0 19-2 20 10 19-12 20-12 19 13 20-14 19 2 20 17 19-17 20 1 19-8 20 21 20-23 19 21 20-8 19 5 20 12 19-14 20 3 19-8 20 0 19 14 20-8 19 0 20 4 19-7 20 4 19-3 20 2 19 5 20 4 19 0 20-1 19-2 20 0 20 9 19-13 20 0 19-4 20 8 19-4 20 1 19-5 20-3 19 1 20 18 19-9 20 12 19-1 20-8 19-2 20-17 19 17 20-4 19-16 20 0 19 12 20 6 19-7 20 5 20-14 19 13 20 4 19 0 20-6 19 4 20-6 19 10 20-4 19 7 20-7 19 3 20-22 19 22 20-11 19 11 20-7 19 18 20-8 19 0 20-5 19 7 20-2 20-11 19 8 20 6 19-11 20 3 19 3 20-3 19-3 20-3 19 8 20-1 19-18 20 7 19 9 20-3 19-4 20 0 19 15 20-13 19 11 20-2 19-13 20 17 19 10 20-20 20 9 19-1 20-4 19 3 20-8 19 11 20-16 19 15 20-7 19 10 20-21 19 4 20-7 19-2 20 9 19 19 20-17 19 10 20-6 19 4 20-6 19-5 20 19 20 0 19-8 20 5 19-14 20 7 19-4 20 4 19-5 20-8 19 2 20 8 19 11 20 0 19-8 20 0 19-3 20 1 19 5 20-4 19 10 20-4 19 1 20-7 19-1 20 2 20-2 19-2 20 2 19-6 20 68 19-4 20-6 19 12 20-8 19 6 20-18 19 25 20-14 19 12 20-2 19-12 20 7 19 3 20-8 19 6 20 1 19-5 20-1 20-6 19-7 20 28 19-11 20-4 19 0 20 3 19 0 20 3 19-10 20-4 19 3 20 12 19-7 20-14 19 17 20-3 19 2 20-7 19 6 20 3 19-4 20-4 19 5 20-8 20-1 19 16 20-11 19 10 20-5 19-9 20 16 19 3 20-15 19 0 20 6 19-1 20-2 19-21 20 33 19-5 20-2 19 4 20-1 19 4 20-21 19 20 20-5 20 5 19-8 20 1 19-382 20 387 19-1 20-9 19 18 20-11 19 7 20-18 19 6 20-3 19 11 20-7 19 5 20 5 19-8 20-9 19-5 20 10 19-1 20-9 19 9 20 2 20-9 19 14 20-5 19 11 20-5 19-13 20 6 19 12 20-22 19 9 20-11 11 10" fill="none" stroke="#69c4d2" stroke-width="20"/></g>
<g transform="scale(0.1)" stroke-linejoin="round"><path d="M1315 8191l19-11 20 6 19-6 20 8 19-8 20-1 19 1 20 2 19 0 20 0 20-4 19 2 20 2 19-2 20-10 19 6 20 0 19-6 20-5 19-8 20-2 19 4 20-118 19-39 20 137 19-1 20 6 19-18 20 2 19 13 20 4 19 1 20-12 20-6 19 10 20-15 19-1 20-1 19 9 20 2 19-6 20 8 19-11 20-2 19 2 20 13 19-5 20-7 19 2 20 11 19-6 20-2 19 15 20-9 19 1 20 0 19 7 20-25 20 10 19-1 20-7 19 11 20-9 19-2 20 14 19-1 20-6 19 14 20-21 19-2 20-1 19 6 20 3 19 0 20 27 19-27 20-2 19 8 20-7 19 15 20 1 20-26 19 9 20 2 19-1 20-11 19 14 20 2 19 6 20-6 19 2 20 0 19 5 20 4 19-5 20 16 19-12 20 1 19-15 20 15 19-4 20 1 19-10 20-4 19-11 20 14 20-2 19 12 20 5 19-24 20 15 19-9 20-1 19-2 20 9 19-8 20 2 19 5 20-12 19 16 20-8 19-3 20-2 19 0 20 2 19 22 20-9 19-3 20 3 20 9 19-12 20-5 19-5 20 15 19-18 20 13 19-3 20 2 19 3 20 1 19 0 20-3 19 8 20-25 19 22 20-3 19 6 20-8 19 2 20-4 19 12 20 5 19-21 20 21 20-11 19-1 20-5 19-16 20 21 19-17 20 10 19 1 20 1 19-6 20 0 19-13 20 20 19-11 20 2 19 2 20-7 19 22 20-10 19 12 20 0 19-8 20-10 20 3 19-3 20 13 19-2 20-8 19 5 20-1 19-16 20 26 19 1 20-8 19-5 20-1 19 10 20-24 19 13 20 1 19-12 20 13 19 11 20-14 19 6 20-7 19 5 20 5 20-11 19 18 20-3 19-18 20 35 19-18 20-7 19-1 20 13 19-18 20-7 19 3 20 14 19-15 20 11 19 12 20-9 19 0 20 5 19-9 20 22 19-18 20-9 20 18 19-17 20 15 19-2 20-11 19 8 20-5 19 20 20-17 19-9 20 12 19-5 20 7 19-6 20 6 19 0 20 2 19-11 20-4 19 5 20-5 19 10 20-4 19-5 20-4 20 3 19-7 20 5 19 2 20 2 19 11 20-11 19 4 20-3 19-8 20 17 19-13 20 7 19-3 20-3 19 9 20-16 19 11 20 0 19-3 20-10 19 9 20 7 20-1 19 2 20-3 19 5 20 5 19 6 20-8 19-7 20-7 19 8 20-8 19 4 20-11 19 2 20 11 19 1 20-11 19 18 20-12 19-6 20-356 19 378 20-13 19-5 20 2 20 12 19-14 20 8 19-7 20-1 19-2 20 9 19-8 20 1 19-8 20 21 19-14 20 0 19 23 20-25 19 7 20 1 19-2 20-1 19 2 20 14 19-18 20-7 20 4 19 12 20 6 19-6 20-13 19 12 20-3 19 2 20 0 19 2 20 2 19 10 20-12 19-7 20 12 19-4 20 1 19-3 20-11 19 8 20 1 19 10 20-8 19-3 20 8 20-2 19-4 20 8 19-10 20 16 19-18 20 5 19 6 20-10 19 12 20-5 19-15 20 19 19-19 20-6 19 14 20 2 19-8 20 25 19-22 20 8 19-1 20-1 20 3 19 1 20 3 19-12 20 0 19-9 20 9 19 5 20-10 19-1 20 4 19 0 20 16 19-1 20-9 19-2 20 10 19 1 20-15 19 7 20-10 19 2 20-2 19-2 20 14 20-11 19 12 20-5 19 16 20-1 19-14 20 12 19-6 20-17 19 22 20-12 19 7 20-3 19-1 20-9 19 14 20-15 19 16 20-13 19-2 20 1 19 13 20-2 20-3 19 4 20 9 19-12 20-8 19 5 20 5 19-5 20 6 19-3 20 5 19-9 20-11 19 7 20 0 19-6 20 8 19 0 20 0 19 5 20 4 19 5 20 1 19 8 20-13 20 13 19-14 20-13 19 7 20 3 19-4 20-8 19 3 20-3 19 10 20-9 19 4 20 9 19 3 20-10 19 0 20 4 19-2 20 3 19-5 20 12 19-6 20-6 20 16 19-10 20 0 19-10 20 13 19-13 20 11 19-8 20 17 19-31 20 11 19 8 20 8 19-11 20 7 19-19 20-4 19 1 20 11 19 7 20-5 19-3 20 1 19-14 20 18 20 12 19-9 20 13 19-12 20 19 19-7 20 3 19-1 20 9 19-7 20-1 19 11 20-30 19 19 20 3 19-9 20 7 19 0 20 5 19-9 20-16 19 19 20 4 20-6 19-6 20 3 19-3 20 12 19-1 20 14 19-12 20-19 19 8 20 11 19-17 20 9 19 4 20-11 19 10 20-2 19-2 20 5 19 13 20-7 19-9 20-3 19 2 20 7 20-3 19 6 20-14 19 0 20 19 19-14 20-10 19 8 20 0 19 4 20 4 19 2 20-4 19 8 20-9 19-3 20-10 19 14 20-10 19 14 20-3 19 2 20-1 20-13 19 7 20-16 19 12 20 1 19-10 20 25 19-6 20 0 19-2 20 5 19-13 20-10 19 10 20 10 19-20 20 9 19 17 20-9 19 6 20 13 19-12 20-6 19-8 20 8 20-3 19-7 20 15 19-11 20 6 19 5 20-10 19 1 20 4 19-7 20 10 11-5 0 127 -11665 0z" fill="#e0894a" fill-opacity="0.1"/><path d="M1315 8191l19-11 20 6 19-6 20 8 19-8 20-1 19 1 20 2 19 0 20 0 20-4 19 2 20 2 19-2 20-10 19 6 20 0 19-6 20-5 19-8 20-2 19 4 20-118 19-39 20 137 19-1 20 6 19-18 20 2 19 13 20 4 19 1 20-12 20-6 19 10 20-15 19-1 20-1 19 9 20 2 19-6 20 8 19-11 20-2 19 2 20 13 19-5 20-7 19 2 20 11 19-6 20-2 19 15 20-9 19 1 20 0 19 7 20-25 20 10 19-1 20-7 19 11 20-9 19-2 20 14 19-1 20-6 19 14 20-21 19-2 20-1 19 6 20 3 19 0 20 27 19-27 20-2 19 8 20-7 19 15 20 1 20-26 19 9 20 2 19-1 20-11 19 14 20 2 19 6 20-6 19 2 20 0 19 5 20 4 19-5 20 16 19-12 20 1 19-15 20 15 19-4 20 1 19-10 20-4 19-11 20 14 20-2 19 12 20 5 19-24 20 15 19-9 20-1 19-2 20 9 19-8 20 2 19 5 20-12 19 16 20-8 19-3 20-2 19 0 20 2 19 22 20-9 19-3 20 3 20 9 19-12 20-5 19-5 20 15 19-18 20 13 19-3 20 2 19 3 20 1 19 0 20-3 19 8 20-25 19 22 20-3 19 6 20-8 19 2 20-4 19 12 20 5 19-21 20 21 20-11 19-1 20-5 19-16 20 21 19-17 20 10 19 1 20 1 19-6 20 0 19-13 20 20 19-11 20 2 19 2 20-7 19 22 20-10 19 12 20 0 19-8 20-10 20 3 19-3 20 13 19-2 20-8 19 5 20-1 19-16 20 26 19 1 20-8 19-5 20-1 19 10 20-24 19 13 20 1 19-12 20 13 19 11 20-14 19 6 20-7 19 5 20 5 20-11 19 18 20-3 19-18 20 35 19-18 20-7 19-1 20 13 19-18 20-7 19 3 20 14 19-15 20 11 19 12 20-9 19 0 20 5 19-9 20 22 19-18 20-9 20 18 19-17 20 15 19-2 20-11 19 8 20-5 19 20 20-17 19-9 20 12 19-5 20 7 19-6 20 6 19 0 20 2 19-11 20-4 19 5 20-5 19 10 20-4 19-5 20-4 20 3 19-7 20 5 19 2 20 2 19 11 20-11 19 4 20-3 19-8 20 17 19-13 20 7 19-3 20-3 19 9 20-16 19 11 20 0 19-3 20-10 19 9 20 7 20-1 19 2 20-3 19 5 20 5 19 6 20-8 19-7 20-7 19 8 20-8 19 4 20-11 19 2 20 11 19 1 20-11 19 18 20-12 19-6 20-356 19 378 20-13 19-5 20 2 20 12 19-14 20 8 19-7 20-1 19-2 20 9 19-8 20 1 19-8 20 21 19-14 20 0 19 23 20-25 19 7 20 1 19-2 20-1 19 2 20 14 19-18 20-7 20 4 19 12 20 6 19-6 20-13 19 12 20-3 19 2 20 0 19 2 20 2 19 10 20-12 19-7 20 12 19-4 20 1 19-3 20-11 19 8 20 1 19 10 20-8 19-3 20 8 20-2 19-4 20 8 19-10 20 16 19-18 20 5 19 6 20-10 19 12 20-5 19-15 20 19 19-19 20-6 19 14 20 2 19-8 20 25 19-22 20 8 19-1 20-1 20 3 19 1 20 3 19-12 20 0 19-9 20 9 19 5 20-10 19-1 20 4 19 0 20 16 19-1 20-9 19-2 20 10 19 1 20-15 19 7 20-10 19 2 20-2 19-2 20 14 20-11 19 12 20-5 19 16 20-1 19-14 20 12 19-6 20-17 19 22 20-12 19 7 20-3 19-1 20-9 19 14 20-15 19 16 20-13 19-2 20 1 19 13 20-2 20-3 19 4 20 9 19-12 20-8 19 5 20 5 19-5 20 6 19-3 20 5 19-9 20-11 19 7 20 0 19-6 20 8 19 0 20 0 19 5 20 4 19 5 20 1 19 8 20-13 20 13 19-14 20-13 19 7 20 3 19-4 20-8 19 3 20-3 19 10 20-9 19 4 20 9 19 3 20-10 19 0 20 4 19-2 20 3 19-5 20 12 19-6 20-6 20 16 19-10 20 0 19-10 20 13 19-13 20 11 19-8 20 17 19-31 20 11 19 8 20 8 19-11 20 7 19-19 20-4 19 1 20 11 19 7 20-5 19-3 20 1 19-14 20 18 20 12 19-9 20 13 19-12 20 19 19-7 20 3 19-1 20 9 19-7 20-1 19 11 20-30 19 19 20 3 19-9 20 7 19 0 20 5 19-9 20-16 19 19 20 4 20-6 19-6 20 3 19-3 20 12 19-1 20 14 19-12 20-19 19 8 20 11 19-17 20 9 19 4 20-11 19 10 20-2 19-2 20 5 19 13 20-7 19-9 20-3 19 2 20 7 20-3 19 6 20-14 19 0 20 19 19-14 20-10 19 8 20 0 19 4 20 4 19 2 20-4 19 8 20-9 19-3 20-10 19 14 20-10 19 14 20-3 19 2 20-1 20-13 19 7 20-16 19 12 20 1 19-10 20 25 19-6 20 0 19-2 20 5 19-13 20-10 19 10 20 10 19-20 20 9 19 17 20-9 19 6 20 13 19-12 20-6 19-8 20 8 20-3 19-7 20 15 19-11 20 6 19 5 20-10 19 1 20 4 19-7 20 10 11-5" fill="none" stroke="#e0894a" stroke-width="20"/></g>
<g transform="scale(0.1)" stroke-linejoin="round"><path d="M1315 8197l19 2 20-1 19 2 20-6 19-2 20 3 19 1 20 6 19-10 20 1 20 9 19-2 20-9 19 0 20 2 19-4 20-1 19-2 20-4 19-8 20 1 19-9 20 0 19-7 20 7 19-6 20-2 19 3 20-11 19-2 20 5 19 4 20-5 20-1 19 5 20-1 19-3 20 8 19 4 20-7 19-4 20 5 19 3 20-5 19 8 20-10 19-1 20 2 19-2 20 7 19-2 20-9 19 10 20 6 19-16 20 8 19-5 20 3 20 5 19-4 20 5 19-2 20-9 19-5 20 8 19 2 20 2 19 3 20-5 19 4 20-3 19 1 20 1 19-1 20-2 19 0 20-8 19 14 20-4 19-2 20-5 20 0 19-5 20 4 19 5 20 4 19-6 20 1 19-1 20 4 19-6 20-1 19 4 20 2 19-4 20 3 19 3 20-1 19-6 20 1 19 10 20-10 19 7 20-6 19 4 20-2 20-4 19-3 20 15 19-5 20-7 19-2 20 9 19 4 20-3 19-2 20 4 19-10 20 9 19-3 20 4 19-3 20 3 19-3 20 3 19-2 20 0 19-1 20-5 20 0 19 2 20-3 19 10 20-5 19-7 20 1 19 3 20-1 19 7 20-2 19-9 20 5 19 0 20 5 19-10 20 3 19-2 20 6 19-3 20-3 19 7 20-3 19-5 20 10 20-4 19-7 20 5 19 3 20 0 19-1 20-5 19 0 20 7 19-1 20-4 19-4 20 8 19 2 20 5 19-11 20 5 19 1 20-9 19 8 20-2 19 3 20-8 20 5 19 6 20-10 19 1 20 5 19-1 20-3 19 0 20 2 19-3 20-1 19 7 20-5 19 2 20-1 19-3 20 2 19 2 20 6 19 1 20-10 19 2 20-5 19 5 20-4 20 13 19-13 20 0 19 3 20 1 19 4 20 0 19-2 20 1 19-3 20-2 19 8 20-11 19 6 20-5 19-3 20 3 19 4 20 5 19-2 20 0 19-4 20 9 20-16 19 4 20 3 19-9 20 9 19 3 20 0 19-2 20 0 19 0 20 3 19-1 20-4 19 1 20-4 19 0 20 10 19-1 20-1 19-2 20 0 19 1 20 6 19-6 20-4 20 3 19-7 20 7 19-6 20 7 19-3 20 1 19 3 20-2 19 5 20-1 19-4 20 8 19-7 20-5 19 0 20-5 19 14 20-5 19 0 20-2 19 3 20-4 20 9 19-7 20 1 19 3 20 0 19-6 20 9 19-5 20 1 19-4 20 7 19 0 20-8 19 9 20-6 19 2 20 0 19-2 20 5 19 1 20-4 19-2 20 1 19 1 20-4 20 1 19 5 20 0 19 3 20-9 19 8 20-5 19 1 20 1 19-4 20 1 19 5 20 1 19 1 20-8 19-4 20 0 19 1 20-2 19 7 20 0 19-1 20 1 20-10 19 15 20 3 19-7 20-7 19 5 20-3 19 2 20 0 19-5 20 2 19 1 20 1 19 6 20-6 19-1 20 4 19-3 20 1 19 0 20 5 19-2 20-6 19 4 20-11 20 6 19 5 20 0 19-5 20-2 19 6 20 0 19 3 20-2 19 7 20-6 19-5 20-3 19 5 20-1 19-2 20 6 19 1 20-2 19-2 20 3 19 2 20-3 20 1 19-5 20 8 19-2 20-5 19 6 20 6 19-8 20 0 19-2 20-3 19 4 20-2 19-3 20 3 19 8 20-7 19 4 20-1 19-5 20 7 19-4 20-3 19-5 20 13 20-4 19-2 20 1 19 4 20-7 19 6 20 4 19-6 20-5 19 2 20 2 19-1 20-7 19 12 20 1 19-3 20 0 19-6 20 3 19 5 20-2 19 1 20 6 20-9 19 0 20-4 19 3 20 3 19-1 20-6 19 4 20 2 19 0 20 0 19 5 20-9 19 8 20-10 19 3 20 4 19 0 20-1 19 3 20 4 19-13 20 1 19-12 20 12 20 5 19 3 20-3 19-10 20 3 19 4 20 7 19-1 20-4 19 6 20-6 19 8 20-5 19-1 20-5 19-4 20 3 19 11 20 2 19-8 20-1 19 3 20-2 20-1 19 5 20-7 19 1 20-1 19-2 20-1 19 5 20 3 19 2 20-4 19 1 20 0 19-7 20 3 19 5 20-5 19 3 20 8 19-3 20-4 19-6 20 7 19-1 20 2 20-6 19-7 20 3 19 4 20 22 19-7 20-3 19 2 20-5 19 2 20-7 19 8 20 3 19-2 20 4 19-1 20-2 19-2 20 3 19-5 20-3 19 2 20 10 20-9 19 4 20-4 19-2 20 3 19 4 20-3 19 1 20-2 19 7 20-10 19 6 20-9 19 12 20-3 19 5 20-2 19 2 20-1 19-6 20 0 19 4 20-11 19 18 20-14 20 4 19 0 20 10 19-14 20 2 19 3 20-1 19 2 20 0 19-4 20 8 19-13 20 9 19 7 20-9 19 4 20 2 19-7 20 1 19 2 20 6 19-7 20-6 20 7 19 0 20-7 19 5 20 1 19-2 20 2 19 5 20-6 19-3 20-2 19 7 20-2 19-3 20 4 19 2 20 0 19-5 20 1 19 1 20 2 19 4 20-2 19-4 20 3 20-3 19-2 20-2 19 1 20 2 19 3 20-6 19 7 20 9 19-14 20 3 11-5 0 114 -11665 0z" fill="#4f6e58" fill-opacity="0.1"/><path d="M1315 8197l19 2 20-1 19 2 20-6 19-2 20 3 19 1 20 6 19-10 20 1 20 9 19-2 20-9 19 0 20 2 19-4 20-1 19-2 20-4 19-8 20 1 19-9 20 0 19-7 20 7 19-6 20-2 19 3 20-11 19-2 20 5 19 4 20-5 20-1 19 5 20-1 19-3 20 8 19 4 20-7 19-4 20 5 19 3 20-5 19 8 20-10 19-1 20 2 19-2 20 7 19-2 20-9 19 10 20 6 19-16 20 8 19-5 20 3 20 5 19-4 20 5 19-2 20-9 19-5 20 8 19 2 20 2 19 3 20-5 19 4 20-3 19 1 20 1 19-1 20-2 19 0 20-8 19 14 20-4 19-2 20-5 20 0 19-5 20 4 19 5 20 4 19-6 20 1 19-1 20 4 19-6 20-1 19 4 20 2 19-4 20 3 19 3 20-1 19-6 20 1 19 10 20-10 19 7 20-6 19 4 20-2 20-4 19-3 20 15 19-5 20-7 19-2 20 9 19 4 20-3 19-2 20 4 19-10 20 9 19-3 20 4 19-3 20 3 19-3 20 3 19-2 20 0 19-1 20-5 20 0 19 2 20-3 19 10 20-5 19-7 20 1 19 3 20-1 19 7 20-2 19-9 20 5 19 0 20 5 19-10 20 3 19-2 20 6 19-3 20-3 19 7 20-3 19-5 20 10 20-4 19-7 20 5 19 3 20 0 19-1 20-5 19 0 20 7 19-1 20-4 19-4 20 8 19 2 20 5 19-11 20 5 19 1 20-9 19 8 20-2 19 3 20-8 20 5 19 6 20-10 19 1 20 5 19-1 20-3 19 0 20 2 19-3 20-1 19 7 20-5 19 2 20-1 19-3 20 2 19 2 20 6 19 1 20-10 19 2 20-5 19 5 20-4 20 13 19-13 20 0 19 3 20 1 19 4 20 0 19-2 20 1 19-3 20-2 19 8 20-11 19 6 20-5 19-3 20 3 19 4 20 5 19-2 20 0 19-4 20 9 20-16 19 4 20 3 19-9 20 9 19 3 20 0 19-2 20 0 19 0 20 3 19-1 20-4 19 1 20-4 19 0 20 10 19-1 20-1 19-2 20 0 19 1 20 6 19-6 20-4 20 3 19-7 20 7 19-6 20 7 19-3 20 1 19 3 20-2 19 5 20-1 19-4 20 8 19-7 20-5 19 0 20-5 19 14 20-5 19 0 20-2 19 3 20-4 20 9 19-7 20 1 19 3 20 0 19-6 20 9 19-5 20 1 19-4 20 7 19 0 20-8 19 9 20-6 19 2 20 0 19-2 20 5 19 1 20-4 19-2 20 1 19 1 20-4 20 1 19 5 20 0 19 3 20-9 19 8 20-5 19 1 20 1 19-4 20 1 19 5 20 1 19 1 20-8 19-4 20 0 19 1 20-2 19 7 20 0 19-1 20 1 20-10 19 15 20 3 19-7 20-7 19 5 20-3 19 2 20 0 19-5 20 2 19 1 20 1 19 6 20-6 19-1 20 4 19-3 20 1 19 0 20 5 19-2 20-6 19 4 20-11 20 6 19 5 20 0 19-5 20-2 19 6 20 0 19 3 20-2 19 7 20-6 19-5 20-3 19 5 20-1 19-2 20 6 19 1 20-2 19-2 20 3 19 2 20-3 20 1 19-5 20 8 19-2 20-5 19 6 20 6 19-8 20 0 19-2 20-3 19 4 20-2 19-3 20 3 19 8 20-7 19 4 20-1 19-5 20 7 19-4 20-3 19-5 20 13 20-4 19-2 20 1 19 4 20-7 19 6 20 4 19-6 20-5 19 2 20 2 19-1 20-7 19 12 20 1 19-3 20 0 19-6 20 3 19 5 20-2 19 1 20 6 20-9 19 0 20-4 19 3 20 3 19-1 20-6 19 4 20 2 19 0 20 0 19 5 20-9 19 8 20-10 19 3 20 4 19 0 20-1 19 3 20 4 19-13 20 1 19-12 20 12 20 5 19 3 20-3 19-10 20 3 19 4 20 7 19-1 20-4 19 6 20-6 19 8 20-5 19-1 20-5 19-4 20 3 19 11 20 2 19-8 20-1 19 3 20-2 20-1 19 5 20-7 19 1 20-1 19-2 20-1 19 5 20 3 19 2 20-4 19 1 20 0 19-7 20 3 19 5 20-5 19 3 20 8 19-3 20-4 19-6 20 7 19-1 20 2 20-6 19-7 20 3 19 4 20 22 19-7 20-3 19 2 20-5 19 2 20-7 19 8 20 3 19-2 20 4 19-1 20-2 19-2 20 3 19-5 20-3 19 2 20 10 20-9 19 4 20-4 19-2 20 3 19 4 20-3 19 1 20-2 19 7 20-10 19 6 20-9 19 12 20-3 19 5 20-2 19 2 20-1 19-6 20 0 19 4 20-11 19 18 20-14 20 4 19 0 20 10 19-14 20 2 19 3 20-1 19 2 20 0 19-4 20 8 19-13 20 9 19 7 20-9 19 4 20 2 19-7 20 1 19 2 20 6 19-7 20-6 20 7 19 0 20-7 19 5 20 1 19-2 20 2 19 5 20-6 19-3 20-2 19 7 20-2 19-3 20 4 19 2 20 0 19-5 20 1 19 1 20 2 19 4 20-2 19-4 20 3 20-3 19-2 20-2 19 1 20 2 19 3 20-6 19 7 20 9 19-14 20 3 11-5" fill="none" stroke="#4f6e58" stroke-width="20"/></g>
<g transform="scale(0.1)" stroke-linejoin="round"><path d="M1315 8211l19 2 20-1 19 4 20-3 19 0 20 3 19-1 20-3 19-5 20 8 20-4 19-3 20-6 19 2 20-3 19 5 20-6 19-3 20-1 19 0 20 0 19-3 20-2 19-2 20-5 19-8 20 4 19-5 20 1 19-1 20-4 19 5 20-1 20 5 19 1 20-7 19 1 20-2 19 0 20 8 19-3 20-5 19 5 20-2 19 3 20-4 19-2 20-6 19 17 20-8 19 1 20-3 19 10 20-6 19-1 20-2 19 3 20 4 20-8 19-2 20 3 19 1 20-5 19 5 20 7 19-3 20-2 19-4 20-5 19 3 20 4 19-1 20 5 19 0 20-2 19-3 20 7 19-1 20-6 19-7 20 15 20-11 19 0 20 4 19-1 20-10 19 11 20 4 19-6 20 6 19-7 20 2 19 5 20-4 19-2 20 4 19 12 20-7 19 3 20-10 19-3 20 9 19-5 20-1 19 9 20-5 20-6 19 0 20 11 19-6 20-5 19 11 20-15 19 9 20 1 19-2 20-5 19 2 20 2 19 1 20-5 19 1 20 5 19-9 20 11 19 9 20-12 19 1 20-2 20 7 19-7 20-6 19 8 20 2 19 0 20-4 19-3 20 1 19-5 20 7 19-2 20-2 19 3 20-6 19 0 20 9 19-7 20 5 19-2 20 5 19-9 20 9 19-6 20 3 20 9 19-18 20 4 19 4 20-1 19 8 20-8 19 8 20-5 19-3 20 6 19-2 20 2 19-12 20 13 19-5 20-3 19 5 20 4 19-5 20 1 19 1 20-11 20 10 19-7 20 2 19-6 20 10 19 4 20-3 19 0 20 1 19 4 20-7 19 5 20-2 19-5 20 2 19 7 20 0 19 0 20-10 19-3 20 12 19 0 20 1 19-11 20 12 20-3 19-7 20-3 19 1 20 9 19-3 20-2 19-4 20 0 19-1 20 3 19-2 20 4 19-1 20-2 19-2 20 1 19-2 20 11 19-2 20-6 19 2 20-1 20 4 19-9 20 6 19 10 20-4 19-8 20 2 19 4 20 4 19-11 20 2 19 5 20 0 19 5 20-7 19 1 20-3 19-1 20 7 19-3 20-1 19-4 20 8 19-7 20 4 20 4 19-11 20-1 19 6 20 1 19 4 20-2 19 0 20 6 19-10 20 2 19 1 20-3 19-2 20 6 19-1 20-3 19-2 20 1 19 4 20-4 19 5 20 6 20-3 19-3 20-8 19 9 20 1 19-9 20 2 19 9 20-9 19 0 20 2 19 4 20-5 19 2 20-2 19 6 20-2 19-1 20 0 19-3 20-88 19 89 20-6 19 9 20-3 20 1 19 3 20 6 19-7 20 5 19-6 20-3 19-1 20-1 19 5 20-7 19 1 20 1 19 1 20-5 19 8 20-1 19-6 20 12 19-9 20 1 19 1 20 0 20-6 19 2 20 7 19-6 20 10 19-7 20 2 19 8 20-9 19 6 20-4 19 0 20-6 19 4 20-3 19 5 20-7 19-5 20 8 19-2 20-1 19 11 20-10 19 10 20-6 20-1 19 0 20-2 19 9 20-8 19 3 20-2 19 3 20 1 19 1 20-5 19 9 20-5 19-6 20-2 19-2 20 9 19 4 20-15 19 12 20 5 19-11 20 7 20 8 19-11 20 12 19-21 20 4 19 5 20 2 19 1 20-6 19-1 20 7 19 3 20-4 19-2 20 9 19-9 20-2 19-4 20 2 19 4 20 1 19-1 20-6 19 8 20 2 20-10 19 3 20 5 19-1 20-1 19-3 20-6 19 13 20-5 19 0 20 0 19 1 20 3 19-15 20 6 19 7 20-12 19 15 20-6 19-7 20 1 19 14 20-11 20 7 19-6 20-2 19 6 20 9 19-15 20 1 19 8 20-4 19 2 20 2 19 2 20 3 19-1 20-9 19-10 20 8 19 3 20 0 19 0 20 5 19-4 20 0 19 3 20 4 20-5 19 8 20-10 19-6 20 8 19-2 20 1 19-2 20 7 19-1 20-5 19-5 20 8 19 0 20 4 19-5 20-3 19 5 20-7 19 1 20-1 19 11 20-13 20 4 19 2 20 1 19-3 20 1 19 4 20 2 19-9 20 0 19 2 20-2 19 6 20-11 19-1 20 5 19 5 20-5 19 6 20 6 19-10 20 7 19 0 20-8 19 2 20 4 20-4 19-4 20 1 19 3 20 8 19 3 20 8 19-7 20-4 19 3 20-6 19 7 20-1 19-5 20-25 19 26 20 4 19 0 20-5 19 1 20 5 19-2 20 2 20-3 19-3 20 7 19-5 20 2 19-7 20 5 19-4 20-3 19 9 20-3 19 2 20-12 19 6 20 5 19 1 20 0 19 2 20 1 19-4 20 6 19 0 20-8 19 0 20 11 20-7 19-3 20-1 19-1 20-3 19-6 20 11 19-1 20 1 19-4 20 2 19-3 20 7 19 1 20 3 19 1 20-12 19 10 20-4 19-2 20 0 19 0 20 1 20-1 19 2 20 2 19-4 20 4 19-6 20 8 19-5 20 2 19 0 20-5 19 6 20 1 19 7 20-15 19 5 20-2 19-3 20 3 19 3 20 1 19 5 20-6 19-4 20 2 20 0 19-1 20-2 19 7 20-1 19-6 20 0 19 11 20-6 19-2 20 6 11 3 0 82 -11665 0z" fill="#b254a8" fill-opacity="0.1"/><path d="M1315 8211l19 2 20-1 19 4 20-3 19 0 20 3 19-1 20-3 19-5 20 8 20-4 19-3 20-6 19 2 20-3 19 5 20-6 19-3 20-1 19 0 20 0 19-3 20-2 19-2 20-5 19-8 20 4 19-5 20 1 19-1 20-4 19 5 20-1 20 5 19 1 20-7 19 1 20-2 19 0 20 8 19-3 20-5 19 5 20-2 19 3 20-4 19-2 20-6 19 17 20-8 19 1 20-3 19 10 20-6 19-1 20-2 19 3 20 4 20-8 19-2 20 3 19 1 20-5 19 5 20 7 19-3 20-2 19-4 20-5 19 3 20 4 19-1 20 5 19 0 20-2 19-3 20 7 19-1 20-6 19-7 20 15 20-11 19 0 20 4 19-1 20-10 19 11 20 4 19-6 20 6 19-7 20 2 19 5 20-4 19-2 20 4 19 12 20-7 19 3 20-10 19-3 20 9 19-5 20-1 19 9 20-5 20-6 19 0 20 11 19-6 20-5 19 11 20-15 19 9 20 1 19-2 20-5 19 2 20 2 19 1 20-5 19 1 20 5 19-9 20 11 19 9 20-12 19 1 20-2 20 7 19-7 20-6 19 8 20 2 19 0 20-4 19-3 20 1 19-5 20 7 19-2 20-2 19 3 20-6 19 0 20 9 19-7 20 5 19-2 20 5 19-9 20 9 19-6 20 3 20 9 19-18 20 4 19 4 20-1 19 8 20-8 19 8 20-5 19-3 20 6 19-2 20 2 19-12 20 13 19-5 20-3 19 5 20 4 19-5 20 1 19 1 20-11 20 10 19-7 20 2 19-6 20 10 19 4 20-3 19 0 20 1 19 4 20-7 19 5 20-2 19-5 20 2 19 7 20 0 19 0 20-10 19-3 20 12 19 0 20 1 19-11 20 12 20-3 19-7 20-3 19 1 20 9 19-3 20-2 19-4 20 0 19-1 20 3 19-2 20 4 19-1 20-2 19-2 20 1 19-2 20 11 19-2 20-6 19 2 20-1 20 4 19-9 20 6 19 10 20-4 19-8 20 2 19 4 20 4 19-11 20 2 19 5 20 0 19 5 20-7 19 1 20-3 19-1 20 7 19-3 20-1 19-4 20 8 19-7 20 4 20 4 19-11 20-1 19 6 20 1 19 4 20-2 19 0 20 6 19-10 20 2 19 1 20-3 19-2 20 6 19-1 20-3 19-2 20 1 19 4 20-4 19 5 20 6 20-3 19-3 20-8 19 9 20 1 19-9 20 2 19 9 20-9 19 0 20 2 19 4 20-5 19 2 20-2 19 6 20-2 19-1 20 0 19-3 20-88 19 89 20-6 19 9 20-3 20 1 19 3 20 6 19-7 20 5 19-6 20-3 19-1 20-1 19 5 20-7 19 1 20 1 19 1 20-5 19 8 20-1 19-6 20 12 19-9 20 1 19 1 20 0 20-6 19 2 20 7 19-6 20 10 19-7 20 2 19 8 20-9 19 6 20-4 19 0 20-6 19 4 20-3 19 5 20-7 19-5 20 8 19-2 20-1 19 11 20-10 19 10 20-6 20-1 19 0 20-2 19 9 20-8 19 3 20-2 19 3 20 1 19 1 20-5 19 9 20-5 19-6 20-2 19-2 20 9 19 4 20-15 19 12 20 5 19-11 20 7 20 8 19-11 20 12 19-21 20 4 19 5 20 2 19 1 20-6 19-1 20 7 19 3 20-4 19-2 20 9 19-9 20-2 19-4 20 2 19 4 20 1 19-1 20-6 19 8 20 2 20-10 19 3 20 5 19-1 20-1 19-3 20-6 19 13 20-5 19 0 20 0 19 1 20 3 19-15 20 6 19 7 20-12 19 15 20-6 19-7 20 1 19 14 20-11 20 7 19-6 20-2 19 6 20 9 19-15 20 1 19 8 20-4 19 2 20 2 19 2 20 3 19-1 20-9 19-10 20 8 19 3 20 0 19 0 20 5 19-4 20 0 19 3 20 4 20-5 19 8 20-10 19-6 20 8 19-2 20 1 19-2 20 7 19-1 20-5 19-5 20 8 19 0 20 4 19-5 20-3 19 5 20-7 19 1 20-1 19 11 20-13 20 4 19 2 20 1 19-3 20 1 19 4 20 2 19-9 20 0 19 2 20-2 19 6 20-11 19-1 20 5 19 5 20-5 19 6 20 6 19-10 20 7 19 0 20-8 19 2 20 4 20-4 19-4 20 1 19 3 20 8 19 3 20 8 19-7 20-4 19 3 20-6 19 7 20-1 19-5 20-25 19 26 20 4 19 0 20-5 19 1 20 5 19-2 20 2 20-3 19-3 20 7 19-5 20 2 19-7 20 5 19-4 20-3 19 9 20-3 19 2 20-12 19 6 20 5 19 1 20 0 19 2 20 1 19-4 20 6 19 0 20-8 19 0 20 11 20-7 19-3 20-1 19-1 20-3 19-6 20 11 19-1 20 1 19-4 20 2 19-3 20 7 19 1 20 3 19 1 20-12 19 10 20-4 19-2 20 0 19 0 20 1 20-1 19 2 20 2 19-4 20 4 19-6 20 8 19-5 20 2 19 0 20-5 19 6 20 1 19 7 20-15 19 5 20-2 19-3 20 3 19 3 20 1 19 5 20-6 19-4 20 2 20 0 19-1 20-2 19 7 20-1 19-6 20 0 19 11 20-6 19-2 20 6 11 3" fill="none" stroke="#b254a8" stroke-width="20"/></g>
<g transform="scale(0.1)" stroke-linejoin="round"><path d="M1315 8231l19-5 20 3 19 1 20-4 19 4 20 2 19-5 20 2 19 1 20-4 20-2 19 2 20 0 19 4 20-3 19-3 20-2 19-6 20 3 19-6 20 3 19-4 20 0 19-3 20-4 19-5 20-4 19 6 20-1 19 11 20-17 19 9 20 2 20-8 19-1 20 5 19 1 20 1 19 3 20-9 19-2 20 11 19-1 20-4 19 1 20 0 19-3 20 6 19-4 20 3 19-7 20 0 19 4 20 1 19-2 20 0 19 3 20-1 20 0 19 3 20-4 19-2 20 6 19-7 20 5 19 4 20-5 19-5 20-2 19 6 20 2 19-4 20 13 19-7 20 6 19-14 20 3 19 3 20-4 19 6 20 1 20 0 19-8 20 0 19-3 20 10 19-5 20 6 19 0 20-3 19-2 20 3 19-10 20-1 19 3 20 2 19 2 20 6 19-1 20 3 19-6 20-2 19 1 20 6 19 0 20 3 20-7 19 0 20-5 19 6 20-1 19 3 20-3 19-1 20 0 19-2 20 2 19-2 20 3 19 4 20-5 19 1 20 6 19-9 20-2 19 3 20 2 19-3 20 7 20 6 19-7 20 3 19-11 20 7 19-1 20 2 19-4 20-1 19 4 20 0 19 3 20-6 19 6 20-8 19 0 20-5 19 7 20-5 19 4 20 5 19-8 20 6 19 0 20-5 20 0 19 11 20-5 19-9 20 8 19 0 20 0 19-3 20 4 19 0 20-1 19-5 20 3 19-1 20-5 19 10 20-14 19 14 20 0 19-5 20-3 19 10 20-2 20-9 19 10 20-1 19-7 20 1 19-1 20 7 19-8 20 9 19-2 20-10 19 4 20 9 19-1 20-9 19-2 20 8 19 0 20 4 19-4 20-1 19 3 20-1 19-3 20 3 20-11 19 1 20 5 19 6 20 1 19-10 20 4 19-7 20 11 19-1 20-5 19 5 20 3 19-5 20 3 19-5 20-2 19 6 20-1 19-2 20 5 19 1 20-6 20 12 19-4 20-4 19 5 20-2 19-3 20-3 19-3 20-2 19-2 20 0 19 6 20 4 19-3 20-1 19 0 20 1 19 12 20-15 19-2 20 3 19 0 20 7 19-5 20-2 20 2 19-5 20 2 19 6 20 3 19-5 20-1 19 2 20-7 19 6 20-2 19 2 20-5 19 8 20 0 19-5 20-1 19-3 20 0 19 3 20 8 19-6 20 6 20 0 19-6 20-3 19-1 20 12 19-5 20-3 19-3 20 6 19-1 20-1 19-4 20 2 19-1 20-7 19-1 20 4 19 0 20 8 19-3 20-4 19 0 20 8 19 0 20 0 20 3 19-9 20-7 19 12 20 0 19 3 20-9 19 5 20-3 19-3 20-1 19 5 20 0 19 5 20-4 19 3 20-5 19 4 20 0 19-5 20 0 19 5 20 1 20-5 19 1 20 5 19 0 20 0 19-2 20-2 19 1 20-3 19 1 20 0 19-3 20 4 19 2 20 0 19 3 20-9 19 2 20 9 19-6 20-6 19-2 20 6 19 8 20-9 20-2 19 1 20-5 19 0 20 5 19-3 20-5 19 8 20 8 19-6 20 1 19-3 20-3 19 13 20-11 19 5 20-1 19 2 20 0 19 6 20-10 19 1 20 4 20-1 19-4 20 2 19-1 20 0 19-8 20 4 19 5 20 0 19 6 20-3 19 1 20 3 19-6 20 5 19-11 20 4 19 3 20-5 19 3 20 0 19 4 20-4 19-1 20 3 20-5 19-2 20 5 19-4 20-4 19 11 20-1 19-7 20-4 19 6 20-1 19 7 20 0 19 0 20-4 19 2 20-3 19-3 20 2 19 3 20 3 19-10 20 2 20 6 19-2 20-3 19 7 20 0 19-6 20 1 19 6 20 1 19-9 20 0 19 5 20-4 19 2 20 4 19-7 20 11 19-2 20-1 19-4 20 5 19-2 20-6 19-1 20 10 20-5 19-1 20-1 19-3 20 3 19 4 20-6 19 8 20-2 19 6 20-2 19-7 20 0 19 4 20 8 19-12 20 3 19 2 20-6 19 6 20 1 19-7 20 0 20-3 19 1 20 0 19-5 20 3 19 3 20 0 19-3 20 6 19-8 20 3 19 6 20 5 19-8 20 2 19-2 20-4 19 12 20-1 19-14 20 8 19 2 20-6 19 4 20-7 20 9 19-8 20 0 19-2 20 11 19-4 20 2 19 3 20-1 19 3 20-9 19 5 20 2 19 0 20 3 19-5 20 1 19-3 20 4 19-1 20-5 19-1 20 8 20 3 19-4 20-2 19 2 20-5 19 4 20-3 19-1 20-3 19 4 20 3 19-5 20 5 19-8 20 6 19-1 20-4 19 4 20 7 19-7 20-2 19 5 20 6 19-9 20 3 20 0 19 3 20-1 19-4 20-1 19-4 20 2 19 6 20 3 19-1 20-6 19-1 20 1 19-2 20 2 19 4 20-7 19 3 20 4 19 1 20-7 19 0 20 0 20 7 19-1 20-7 19 12 20-7 19 0 20 5 19-2 20-9 19 11 20-2 19 0 20 3 19-1 20 0 19-4 20 4 19-7 20-1 19 4 20 0 19-1 20 1 19-2 20-1 20 2 19-1 20-4 19 3 20 2 19 2 20 1 19-4 20 6 19-5 20 2 11-3 0 71 -11665 0z" fill="#b3a35f" fill-opacity="0.1"/><path d="M1315 8231l19-5 20 3 19 1 20-4 19 4 20 2 19-5 20 2 19 1 20-4 20-2 19 2 20 0 19 4 20-3 19-3 20-2 19-6 20 3 19-6 20 3 19-4 20 0 19-3 20-4 19-5 20-4 19 6 20-1 19 11 20-17 19 9 20 2 20-8 19-1 20 5 19 1 20 1 19 3 20-9 19-2 20 11 19-1 20-4 19 1 20 0 19-3 20 6 19-4 20 3 19-7 20 0 19 4 20 1 19-2 20 0 19 3 20-1 20 0 19 3 20-4 19-2 20 6 19-7 20 5 19 4 20-5 19-5 20-2 19 6 20 2 19-4 20 13 19-7 20 6 19-14 20 3 19 3 20-4 19 6 20 1 20 0 19-8 20 0 19-3 20 10 19-5 20 6 19 0 20-3 19-2 20 3 19-10 20-1 19 3 20 2 19 2 20 6 19-1 20 3 19-6 20-2 19 1 20 6 19 0 20 3 20-7 19 0 20-5 19 6 20-1 19 3 20-3 19-1 20 0 19-2 20 2 19-2 20 3 19 4 20-5 19 1 20 6 19-9 20-2 19 3 20 2 19-3 20 7 20 6 19-7 20 3 19-11 20 7 19-1 20 2 19-4 20-1 19 4 20 0 19 3 20-6 19 6 20-8 19 0 20-5 19 7 20-5 19 4 20 5 19-8 20 6 19 0 20-5 20 0 19 11 20-5 19-9 20 8 19 0 20 0 19-3 20 4 19 0 20-1 19-5 20 3 19-1 20-5 19 10 20-14 19 14 20 0 19-5 20-3 19 10 20-2 20-9 19 10 20-1 19-7 20 1 19-1 20 7 19-8 20 9 19-2 20-10 19 4 20 9 19-1 20-9 19-2 20 8 19 0 20 4 19-4 20-1 19 3 20-1 19-3 20 3 20-11 19 1 20 5 19 6 20 1 19-10 20 4 19-7 20 11 19-1 20-5 19 5 20 3 19-5 20 3 19-5 20-2 19 6 20-1 19-2 20 5 19 1 20-6 20 12 19-4 20-4 19 5 20-2 19-3 20-3 19-3 20-2 19-2 20 0 19 6 20 4 19-3 20-1 19 0 20 1 19 12 20-15 19-2 20 3 19 0 20 7 19-5 20-2 20 2 19-5 20 2 19 6 20 3 19-5 20-1 19 2 20-7 19 6 20-2 19 2 20-5 19 8 20 0 19-5 20-1 19-3 20 0 19 3 20 8 19-6 20 6 20 0 19-6 20-3 19-1 20 12 19-5 20-3 19-3 20 6 19-1 20-1 19-4 20 2 19-1 20-7 19-1 20 4 19 0 20 8 19-3 20-4 19 0 20 8 19 0 20 0 20 3 19-9 20-7 19 12 20 0 19 3 20-9 19 5 20-3 19-3 20-1 19 5 20 0 19 5 20-4 19 3 20-5 19 4 20 0 19-5 20 0 19 5 20 1 20-5 19 1 20 5 19 0 20 0 19-2 20-2 19 1 20-3 19 1 20 0 19-3 20 4 19 2 20 0 19 3 20-9 19 2 20 9 19-6 20-6 19-2 20 6 19 8 20-9 20-2 19 1 20-5 19 0 20 5 19-3 20-5 19 8 20 8 19-6 20 1 19-3 20-3 19 13 20-11 19 5 20-1 19 2 20 0 19 6 20-10 19 1 20 4 20-1 19-4 20 2 19-1 20 0 19-8 20 4 19 5 20 0 19 6 20-3 19 1 20 3 19-6 20 5 19-11 20 4 19 3 20-5 19 3 20 0 19 4 20-4 19-1 20 3 20-5 19-2 20 5 19-4 20-4 19 11 20-1 19-7 20-4 19 6 20-1 19 7 20 0 19 0 20-4 19 2 20-3 19-3 20 2 19 3 20 3 19-10 20 2 20 6 19-2 20-3 19 7 20 0 19-6 20 1 19 6 20 1 19-9 20 0 19 5 20-4 19 2 20 4 19-7 20 11 19-2 20-1 19-4 20 5 19-2 20-6 19-1 20 10 20-5 19-1 20-1 19-3 20 3 19 4 20-6 19 8 20-2 19 6 20-2 19-7 20 0 19 4 20 8 19-12 20 3 19 2 20-6 19 6 20 1 19-7 20 0 20-3 19 1 20 0 19-5 20 3 19 3 20 0 19-3 20 6 19-8 20 3 19 6 20 5 19-8 20 2 19-2 20-4 19 12 20-1 19-14 20 8 19 2 20-6 19 4 20-7 20 9 19-8 20 0 19-2 20 11 19-4 20 2 19 3 20-1 19 3 20-9 19 5 20 2 19 0 20 3 19-5 20 1 19-3 20 4 19-1 20-5 19-1 20 8 20 3 19-4 20-2 19 2 20-5 19 4 20-3 19-1 20-3 19 4 20 3 19-5 20 5 19-8 20 6 19-1 20-4 19 4 20 7 19-7 20-2 19 5 20 6 19-9 20 3 20 0 19 3 20-1 19-4 20-1 19-4 20 2 19 6 20 3 19-1 20-6 19-1 20 1 19-2 20 2 19 4 20-7 19 3 20 4 19 1 20-7 19 0 20 0 20 7 19-1 20-7 19 12 20-7 19 0 20 5 19-2 20-9 19 11 20-2 19 0 20 3 19-1 20 0 19-4 20 4 19-7 20-1 19 4 20 0 19-1 20 1 19-2 20-1 20 2 19-1 20-4 19 3 20 2 19 2 20 1 19-4 20 6 19-5 20 2 11-3" fill="none" stroke="#b3a35f" stroke-width="20"/></g>
<g transform="scale(0.1)" stroke-linejoin="round"><path d="M1315 8242l19-4 20 3 19-1 20-1 19 2 20-1 19 2 20-2 19-4 20 5 20-3 19 2 20 1 19-4 20-1 19 2 20-5 19 3 20-2 19-4 20 3 19-6 20-2 19 1 20-4 19 0 20-3 19 2 20 1 19-4 20 2 19-1 20 1 20 3 19-1 20 0 19-2 20 2 19 1 20 0 19-2 20-4 19 3 20 1 19-2 20 2 19 0 20 0 19 2 20-4 19 1 20-2 19 2 20-5 19 4 20 0 19 3 20 0 20-1 19 4 20-6 19 2 20-1 19-4 20 6 19-4 20 1 19 0 20-1 19-3 20 5 19 5 20-8 19 8 20 0 19-9 20 1 19 2 20-2 19 3 20 1 20-3 19 1 20-1 19 1 20-4 19 6 20 1 19-4 20 2 19-1 20-3 19 7 20-1 19-1 20-2 19 4 20 0 19-3 20 1 19 0 20-5 19 7 20-4 19 2 20-7 20 4 19-2 20 2 19 1 20-5 19 0 20 2 19 3 20 3 19-1 20 3 19-3 20-1 19 3 20-1 19-4 20 3 19 3 20-7 19-1 20 3 19 1 20 1 20 2 19-2 20 0 19 1 20 1 19-1 20 2 19 1 20-4 19 1 20 0 19 3 20-3 19 0 20-8 19 4 20 2 19 0 20 1 19 1 20 0 19-4 20 5 19-4 20-1 20 1 19 2 20 1 19-1 20 6 19-5 20 4 19-5 20 2 19-1 20 2 19-2 20-2 19-2 20 1 19-1 20 1 19 1 20 8 19 0 20 1 19-8 20 3 20 2 19-1 20 1 19-7 20 0 19-3 20-1 19 5 20 1 19-2 20 4 19-4 20 3 19-3 20 2 19 2 20-2 19-3 20 2 19-1 20-2 19 4 20-4 19 6 20-1 20-4 19 5 20-2 19 3 20-4 19 4 20-5 19 1 20-2 19 1 20-5 19 8 20 1 19 0 20-5 19 3 20 0 19 1 20-5 19 4 20-1 19 0 20 4 20-5 19 0 20 0 19-1 20 5 19-3 20 5 19-2 20-1 19-4 20 2 19 7 20-5 19-1 20-5 19 9 20-2 19 1 20-3 19 2 20-3 19 2 20-6 19 7 20-6 20 9 19-1 20-4 19 3 20-2 19-8 20 4 19 2 20 0 19 1 20 0 19-1 20-2 19 5 20-1 19 0 20-3 19 3 20-2 19 2 20 3 19-3 20 4 20 0 19-4 20 4 19-4 20 3 19-6 20 0 19 4 20-4 19 6 20-7 19 0 20-3 19 4 20-2 19 2 20 4 19-6 20-3 19 6 20-2 19 3 20-3 19 3 20-3 20-1 19 3 20 2 19 3 20-1 19-6 20 2 19 6 20-3 19 0 20 1 19-6 20 0 19 6 20-6 19 6 20-10 19 4 20-2 19 0 20 5 19 3 20-3 20-4 19 2 20 4 19-4 20-1 19 3 20 3 19-3 20 1 19-1 20 0 19 2 20 3 19-4 20 2 19 0 20-1 19-1 20-3 19 1 20-2 19-1 20 3 19 1 20-2 20 4 19 1 20 0 19 2 20-3 19 1 20 1 19-5 20-2 19-2 20 6 19 5 20-2 19-4 20 1 19 0 20-6 19 5 20 4 19-2 20-4 19 6 20-6 20 2 19-2 20 0 19 6 20-2 19-7 20 1 19 1 20 3 19-5 20 5 19-3 20 5 19-4 20 3 19-1 20 1 19-4 20 4 19-1 20-2 19 1 20-2 19 4 20-5 20 0 19 4 20-1 19-2 20 6 19-3 20 0 19-1 20 2 19-1 20 2 19-5 20 5 19-1 20 0 19 1 20 0 19-5 20 1 19-1 20 3 19 1 20-2 20 1 19 1 20-2 19 1 20 0 19 0 20-2 19 1 20 4 19-7 20 6 19-2 20-4 19 5 20-2 19 3 20-1 19 0 20-2 19-5 20 4 19 2 20 2 19-6 20 3 20 5 19-4 20-3 19 5 20-6 19 5 20-3 19 0 20 5 19-7 20 4 19 1 20-7 19 6 20 1 19-2 20 0 19 0 20 0 19 2 20 0 19-4 20 5 20-4 19-1 20 2 19 1 20-2 19 3 20 0 19-4 20 1 19 1 20 0 19-2 20 7 19-7 20-3 19 8 20-6 19 2 20-3 19 1 20 3 19 3 20-6 19 7 20-5 20 0 19 1 20 2 19-6 20 5 19-1 20-4 19 4 20 2 19 5 20-2 19-7 20 1 19 8 20-3 19-4 20-2 19 1 20 0 19-3 20 0 19 4 20 4 20-4 19 2 20-3 19 1 20-5 19 6 20 2 19-9 20 11 19-8 20 4 19 2 20-10 19 6 20-1 19 4 20-1 19 1 20-4 19-4 20 10 19-2 20-2 19 3 20-2 20 3 19-1 20-1 19 0 20 2 19 3 20-8 19 0 20 1 19 0 20 2 19 0 20 0 19-1 20 3 19-2 20 1 19 1 20-1 19-4 20-1 19 4 20-2 20-1 19-3 20 2 19 1 20 2 19 1 20-9 19 5 20 5 19 0 20-3 19 3 20-1 19 3 20-2 19 3 20-3 19-2 20-4 19 8 20-4 19-3 20 3 19 0 20 3 20 0 19-6 20 2 19-4 20 1 19 3 20-1 19 2 20-4 19 4 20-3 11 4 0 53 -11665 0z" fill="#6d7a5e" fill-opacity="0.1"/><path d="M1315 8242l19-4 20 3 19-1 20-1 19 2 20-1 19 2 20-2 19-4 20 5 20-3 19 2 20 1 19-4 20-1 19 2 20-5 19 3 20-2 19-4 20 3 19-6 20-2 19 1 20-4 19 0 20-3 19 2 20 1 19-4 20 2 19-1 20 1 20 3 19-1 20 0 19-2 20 2 19 1 20 0 19-2 20-4 19 3 20 1 19-2 20 2 19 0 20 0 19 2 20-4 19 1 20-2 19 2 20-5 19 4 20 0 19 3 20 0 20-1 19 4 20-6 19 2 20-1 19-4 20 6 19-4 20 1 19 0 20-1 19-3 20 5 19 5 20-8 19 8 20 0 19-9 20 1 19 2 20-2 19 3 20 1 20-3 19 1 20-1 19 1 20-4 19 6 20 1 19-4 20 2 19-1 20-3 19 7 20-1 19-1 20-2 19 4 20 0 19-3 20 1 19 0 20-5 19 7 20-4 19 2 20-7 20 4 19-2 20 2 19 1 20-5 19 0 20 2 19 3 20 3 19-1 20 3 19-3 20-1 19 3 20-1 19-4 20 3 19 3 20-7 19-1 20 3 19 1 20 1 20 2 19-2 20 0 19 1 20 1 19-1 20 2 19 1 20-4 19 1 20 0 19 3 20-3 19 0 20-8 19 4 20 2 19 0 20 1 19 1 20 0 19-4 20 5 19-4 20-1 20 1 19 2 20 1 19-1 20 6 19-5 20 4 19-5 20 2 19-1 20 2 19-2 20-2 19-2 20 1 19-1 20 1 19 1 20 8 19 0 20 1 19-8 20 3 20 2 19-1 20 1 19-7 20 0 19-3 20-1 19 5 20 1 19-2 20 4 19-4 20 3 19-3 20 2 19 2 20-2 19-3 20 2 19-1 20-2 19 4 20-4 19 6 20-1 20-4 19 5 20-2 19 3 20-4 19 4 20-5 19 1 20-2 19 1 20-5 19 8 20 1 19 0 20-5 19 3 20 0 19 1 20-5 19 4 20-1 19 0 20 4 20-5 19 0 20 0 19-1 20 5 19-3 20 5 19-2 20-1 19-4 20 2 19 7 20-5 19-1 20-5 19 9 20-2 19 1 20-3 19 2 20-3 19 2 20-6 19 7 20-6 20 9 19-1 20-4 19 3 20-2 19-8 20 4 19 2 20 0 19 1 20 0 19-1 20-2 19 5 20-1 19 0 20-3 19 3 20-2 19 2 20 3 19-3 20 4 20 0 19-4 20 4 19-4 20 3 19-6 20 0 19 4 20-4 19 6 20-7 19 0 20-3 19 4 20-2 19 2 20 4 19-6 20-3 19 6 20-2 19 3 20-3 19 3 20-3 20-1 19 3 20 2 19 3 20-1 19-6 20 2 19 6 20-3 19 0 20 1 19-6 20 0 19 6 20-6 19 6 20-10 19 4 20-2 19 0 20 5 19 3 20-3 20-4 19 2 20 4 19-4 20-1 19 3 20 3 19-3 20 1 19-1 20 0 19 2 20 3 19-4 20 2 19 0 20-1 19-1 20-3 19 1 20-2 19-1 20 3 19 1 20-2 20 4 19 1 20 0 19 2 20-3 19 1 20 1 19-5 20-2 19-2 20 6 19 5 20-2 19-4 20 1 19 0 20-6 19 5 20 4 19-2 20-4 19 6 20-6 20 2 19-2 20 0 19 6 20-2 19-7 20 1 19 1 20 3 19-5 20 5 19-3 20 5 19-4 20 3 19-1 20 1 19-4 20 4 19-1 20-2 19 1 20-2 19 4 20-5 20 0 19 4 20-1 19-2 20 6 19-3 20 0 19-1 20 2 19-1 20 2 19-5 20 5 19-1 20 0 19 1 20 0 19-5 20 1 19-1 20 3 19 1 20-2 20 1 19 1 20-2 19 1 20 0 19 0 20-2 19 1 20 4 19-7 20 6 19-2 20-4 19 5 20-2 19 3 20-1 19 0 20-2 19-5 20 4 19 2 20 2 19-6 20 3 20 5 19-4 20-3 19 5 20-6 19 5 20-3 19 0 20 5 19-7 20 4 19 1 20-7 19 6 20 1 19-2 20 0 19 0 20 0 19 2 20 0 19-4 20 5 20-4 19-1 20 2 19 1 20-2 19 3 20 0 19-4 20 1 19 1 20 0 19-2 20 7 19-7 20-3 19 8 20-6 19 2 20-3 19 1 20 3 19 3 20-6 19 7 20-5 20 0 19 1 20 2 19-6 20 5 19-1 20-4 19 4 20 2 19 5 20-2 19-7 20 1 19 8 20-3 19-4 20-2 19 1 20 0 19-3 20 0 19 4 20 4 20-4 19 2 20-3 19 1 20-5 19 6 20 2 19-9 20 11 19-8 20 4 19 2 20-10 19 6 20-1 19 4 20-1 19 1 20-4 19-4 20 10 19-2 20-2 19 3 20-2 20 3 19-1 20-1 19 0 20 2 19 3 20-8 19 0 20 1 19 0 20 2 19 0 20 0 19-1 20 3 19-2 20 1 19 1 20-1 19-4 20-1 19 4 20-2 20-1 19-3 20 2 19 1 20 2 19 1 20-9 19 5 20 5 19 0 20-3 19 3 20-1 19 3 20-2 19 3 20-3 19-2 20-4 19 8 20-4 19-3 20 3 19 0 20 3 20 0 19-6 20 2 19-4 20 1 19 3 20-1 19 2 20-4 19 4 20-3 11 4" fill="none" stroke="#6d7a5e" stroke-width="20"/></g>
<g transform="scale(0.1)" stroke-linejoin="round"><path d="M1315 8252l19 0 20 1 19 2 20-1 19-6 20 6 19-2 20 0 19 0 20-6 20 4 19 3 20-1 19-6 20 5 19-3 20 2 19 0 20-4 19-4 20 2 19-7 20 7 19 0 20-5 19 0 20-1 19-5 20 6 19 3 20-5 19 2 20 0 20-5 19 2 20 3 19 0 20 4 19-2 20 4 19-4 20 6 19-8 20 6 19-8 20 6 19-3 20-4 19 5 20-5 19 3 20-7 19 5 20-5 19 1 20 1 19-1 20 2 20 6 19 1 20-6 19 7 20-4 19-6 20 9 19-3 20-4 19 2 20-3 19 6 20-4 19 2 20-7 19 5 20 3 19 1 20 1 19-1 20 1 19 0 20-2 20 4 19-7 20 0 19 1 20 0 19-1 20-1 19 9 20 4 19-4 20-3 19 2 20-6 19-1 20 0 19 6 20-3 19 0 20-4 19 5 20 1 19-4 20 1 19-6 20 7 20 4 19-7 20-1 19 6 20-1 19-4 20-2 19 2 20 1 19 3 20 0 19 1 20-2 19 3 20-5 19-2 20-1 19 7 20 2 19-4 20-3 19 1 20-1 20 1 19 1 20-1 19 3 20-6 19 2 20 1 19 3 20-2 19 0 20 3 19-2 20 3 19-6 20 0 19 1 20-1 19 4 20-5 19 10 20-7 19 3 20 2 19 4 20-6 20-11 19 6 20 0 19 0 20-7 19 3 20 2 19 0 20 1 19 4 20 3 19-2 20-7 19 3 20 0 19 3 20 1 19-1 20 6 19-2 20 0 19-5 20 7 20-2 19-1 20-2 19-2 20 3 19-2 20-4 19 5 20-1 19 2 20-13 19 9 20 2 19 0 20 3 19 0 20-6 19 3 20-5 19 2 20 2 19-6 20 1 19 2 20 3 20-3 19 6 20-1 19-4 20 6 19-4 20-4 19 3 20-4 19 7 20-3 19 2 20 0 19-3 20-3 19 6 20 1 19 0 20-1 19 0 20-1 19-1 20 9 20-9 19 2 20-4 19 3 20-1 19-1 20 7 19-11 20 10 19-5 20 5 19-6 20 6 19-8 20-3 19 5 20-5 19 10 20-1 19-4 20 7 19-5 20 7 19-7 20 6 20-5 19 0 20 1 19 0 20-7 19 3 20 1 19-1 20 2 19-4 20 4 19-2 20 3 19 3 20-9 19 4 20 2 19-3 20 0 19 3 20-5 19-2 20 5 20 0 19 1 20 0 19-3 20 2 19 2 20-2 19-2 20-2 19 9 20-3 19-4 20 3 19 1 20 2 19-3 20-3 19 3 20 7 19-8 20-118 19 123 20 2 19-3 20-1 20 0 19-1 20-5 19 5 20-3 19 3 20-1 19-3 20 1 19 0 20 1 19-1 20 2 19-3 20-1 19 4 20 2 19-5 20 4 19-1 20 1 19-1 20 1 20 2 19-5 20 0 19 4 20 2 19-8 20 4 19 2 20-6 19 4 20 1 19-1 20 2 19 0 20 0 19 0 20-1 19-9 20 8 19-4 20 4 19-1 20 4 19-2 20 2 20-1 19-5 20 4 19-1 20-3 19 2 20-2 19 7 20-2 19-9 20 6 19-2 20 0 19 1 20 3 19-1 20-1 19-1 20-5 19 3 20 3 19 1 20 1 20 3 19-3 20-2 19-1 20 4 19-5 20 5 19-6 20 5 19 2 20-2 19-3 20 5 19 1 20 5 19-8 20-1 19-4 20 3 19-79 20 77 19 1 20 2 19 3 20-2 20 3 19-4 20-2 19 4 20-1 19-2 20-5 19 3 20-1 19-6 20 12 19 0 20-6 19 7 20-4 19 4 20-4 19 1 20 7 19-5 20-4 19-2 20 10 20-8 19-1 20 5 19-3 20-2 19 5 20 2 19-1 20 1 19 0 20-8 19 4 20 1 19-1 20-4 19-5 20 4 19 3 20 2 19 1 20-1 19-2 20 2 19 6 20-6 20 1 19 2 20-6 19 4 20 1 19-7 20 5 19-1 20 5 19-1 20-2 19-2 20 2 19 2 20-7 19 1 20-2 19 3 20 1 19 4 20-3 19 2 20 3 20-1 19-7 20 3 19 0 20 3 19-4 20 4 19-6 20 6 19 0 20-3 19-2 20 1 19-1 20 3 19-2 20 0 19-4 20 4 19 0 20-2 19 3 20 2 19-3 20 3 20-8 19 12 20-5 19 0 20-9 19 5 20-3 19-1 20-5 19 4 20-3 19 1 20-1 19 6 20-4 19 1 20-4 19 11 20-2 19 2 20-6 19 3 20 2 20-3 19 6 20-4 19-1 20-9 19 3 20 2 19 0 20 5 19-2 20 2 19-3 20 1 19 2 20 7 19-7 20-3 19 2 20-3 19 4 20-4 19 1 20-2 19 1 20 3 20-6 19 6 20-5 19-2 20 9 19 0 20-4 19 3 20-1 19-4 20 0 19 2 20 3 19 1 20-6 19 9 20-6 19-3 20 1 19 2 20 1 19 0 20-3 20-3 19 4 20-2 19-1 20-1 19 4 20 3 19-1 20-3 19 6 20-1 19-4 20-1 19 3 20 0 19 0 20 1 19-1 20-5 19 4 20-2 19 1 20-4 19 7 20-4 20 5 19 0 20-4 19 3 20-1 19-5 20 3 19-3 20 5 19-11 20 0 11 5 0 47 -11665 0z" fill="#c4605a" fill-opacity="0.1"/><path d="M1315 8252l19 0 20 1 19 2 20-1 19-6 20 6 19-2 20 0 19 0 20-6 20 4 19 3 20-1 19-6 20 5 19-3 20 2 19 0 20-4 19-4 20 2 19-7 20 7 19 0 20-5 19 0 20-1 19-5 20 6 19 3 20-5 19 2 20 0 20-5 19 2 20 3 19 0 20 4 19-2 20 4 19-4 20 6 19-8 20 6 19-8 20 6 19-3 20-4 19 5 20-5 19 3 20-7 19 5 20-5 19 1 20 1 19-1 20 2 20 6 19 1 20-6 19 7 20-4 19-6 20 9 19-3 20-4 19 2 20-3 19 6 20-4 19 2 20-7 19 5 20 3 19 1 20 1 19-1 20 1 19 0 20-2 20 4 19-7 20 0 19 1 20 0 19-1 20-1 19 9 20 4 19-4 20-3 19 2 20-6 19-1 20 0 19 6 20-3 19 0 20-4 19 5 20 1 19-4 20 1 19-6 20 7 20 4 19-7 20-1 19 6 20-1 19-4 20-2 19 2 20 1 19 3 20 0 19 1 20-2 19 3 20-5 19-2 20-1 19 7 20 2 19-4 20-3 19 1 20-1 20 1 19 1 20-1 19 3 20-6 19 2 20 1 19 3 20-2 19 0 20 3 19-2 20 3 19-6 20 0 19 1 20-1 19 4 20-5 19 10 20-7 19 3 20 2 19 4 20-6 20-11 19 6 20 0 19 0 20-7 19 3 20 2 19 0 20 1 19 4 20 3 19-2 20-7 19 3 20 0 19 3 20 1 19-1 20 6 19-2 20 0 19-5 20 7 20-2 19-1 20-2 19-2 20 3 19-2 20-4 19 5 20-1 19 2 20-13 19 9 20 2 19 0 20 3 19 0 20-6 19 3 20-5 19 2 20 2 19-6 20 1 19 2 20 3 20-3 19 6 20-1 19-4 20 6 19-4 20-4 19 3 20-4 19 7 20-3 19 2 20 0 19-3 20-3 19 6 20 1 19 0 20-1 19 0 20-1 19-1 20 9 20-9 19 2 20-4 19 3 20-1 19-1 20 7 19-11 20 10 19-5 20 5 19-6 20 6 19-8 20-3 19 5 20-5 19 10 20-1 19-4 20 7 19-5 20 7 19-7 20 6 20-5 19 0 20 1 19 0 20-7 19 3 20 1 19-1 20 2 19-4 20 4 19-2 20 3 19 3 20-9 19 4 20 2 19-3 20 0 19 3 20-5 19-2 20 5 20 0 19 1 20 0 19-3 20 2 19 2 20-2 19-2 20-2 19 9 20-3 19-4 20 3 19 1 20 2 19-3 20-3 19 3 20 7 19-8 20-118 19 123 20 2 19-3 20-1 20 0 19-1 20-5 19 5 20-3 19 3 20-1 19-3 20 1 19 0 20 1 19-1 20 2 19-3 20-1 19 4 20 2 19-5 20 4 19-1 20 1 19-1 20 1 20 2 19-5 20 0 19 4 20 2 19-8 20 4 19 2 20-6 19 4 20 1 19-1 20 2 19 0 20 0 19 0 20-1 19-9 20 8 19-4 20 4 19-1 20 4 19-2 20 2 20-1 19-5 20 4 19-1 20-3 19 2 20-2 19 7 20-2 19-9 20 6 19-2 20 0 19 1 20 3 19-1 20-1 19-1 20-5 19 3 20 3 19 1 20 1 20 3 19-3 20-2 19-1 20 4 19-5 20 5 19-6 20 5 19 2 20-2 19-3 20 5 19 1 20 5 19-8 20-1 19-4 20 3 19-79 20 77 19 1 20 2 19 3 20-2 20 3 19-4 20-2 19 4 20-1 19-2 20-5 19 3 20-1 19-6 20 12 19 0 20-6 19 7 20-4 19 4 20-4 19 1 20 7 19-5 20-4 19-2 20 10 20-8 19-1 20 5 19-3 20-2 19 5 20 2 19-1 20 1 19 0 20-8 19 4 20 1 19-1 20-4 19-5 20 4 19 3 20 2 19 1 20-1 19-2 20 2 19 6 20-6 20 1 19 2 20-6 19 4 20 1 19-7 20 5 19-1 20 5 19-1 20-2 19-2 20 2 19 2 20-7 19 1 20-2 19 3 20 1 19 4 20-3 19 2 20 3 20-1 19-7 20 3 19 0 20 3 19-4 20 4 19-6 20 6 19 0 20-3 19-2 20 1 19-1 20 3 19-2 20 0 19-4 20 4 19 0 20-2 19 3 20 2 19-3 20 3 20-8 19 12 20-5 19 0 20-9 19 5 20-3 19-1 20-5 19 4 20-3 19 1 20-1 19 6 20-4 19 1 20-4 19 11 20-2 19 2 20-6 19 3 20 2 20-3 19 6 20-4 19-1 20-9 19 3 20 2 19 0 20 5 19-2 20 2 19-3 20 1 19 2 20 7 19-7 20-3 19 2 20-3 19 4 20-4 19 1 20-2 19 1 20 3 20-6 19 6 20-5 19-2 20 9 19 0 20-4 19 3 20-1 19-4 20 0 19 2 20 3 19 1 20-6 19 9 20-6 19-3 20 1 19 2 20 1 19 0 20-3 20-3 19 4 20-2 19-1 20-1 19 4 20 3 19-1 20-3 19 6 20-1 19-4 20-1 19 3 20 0 19 0 20 1 19-1 20-5 19 4 20-2 19 1 20-4 19 7 20-4 20 5 19 0 20-4 19 3 20-1 19-5 20 3 19-3 20 5 19-11 20 0 11 5" fill="none" stroke="#c4605a" stroke-width="20"/></g>
<g transform="scale(0.1)" stroke-linejoin="round"><path d="M1315 8260l19 2 20 0 19 0 20 2 19-4 20 1 19 2 20 0 19-1 20 0 20-1 19 3 20-4 19 1 20 0 19-1 20-1 19-1 20 1 19-1 20 0 19-3 20 1 19-1 20 1 19 2 20-4 19 1 20 1 19-2 20-1 19 1 20 0 20-2 19 6 20-5 19-1 20-1 19 1 20 3 19-1 20-4 19 2 20 2 19-2 20 0 19 2 20-3 19 3 20-2 19 2 20 2 19-1 20 2 19 0 20-6 19 4 20-5 20 3 19-2 20 2 19 0 20 1 19 1 20 1 19-5 20 3 19-2 20 1 19 1 20-1 19 0 20 0 19 1 20-5 19 4 20 2 19-2 20 2 19 0 20 1 20 1 19-3 20-1 19 1 20-4 19 1 20 3 19-5 20 2 19 3 20 0 19 2 20-4 19 5 20-2 19 0 20-2 19-1 20-1 19 0 20 4 19-5 20 3 19-1 20-1 20-1 19 3 20-2 19 1 20 2 19-2 20 1 19-1 20 0 19 0 20 1 19 0 20 0 19 0 20 2 19-3 20 3 19-2 20-2 19 2 20-1 19-1 20 1 20 2 19 1 20-1 19 0 20-6 19 6 20-3 19-1 20 2 19 3 20 0 19-2 20-2 19 3 20-2 19 3 20-2 19-1 20 2 19 1 20-4 19 3 20 0 19-1 20 0 20 1 19-2 20 1 19 0 20-1 19 0 20 0 19 4 20-5 19 6 20-2 19 1 20 1 19-4 20 0 19 1 20 2 19-3 20 3 19-1 20-3 19 2 20-1 20 2 19 0 20 1 19-2 20-3 19 4 20-2 19-2 20 2 19 1 20-1 19 0 20 1 19-1 20 0 19 1 20-1 19 1 20 0 19 0 20 1 19 0 20 0 19 0 20-1 20-1 19-1 20 0 19-1 20 4 19-2 20 1 19-4 20 4 19 2 20-1 19-5 20 4 19 2 20-3 19 0 20-1 19 3 20-5 19 3 20-1 19 2 20 0 20 1 19-4 20 3 19-1 20 4 19-4 20 3 19-1 20 0 19 1 20-3 19 0 20-2 19 2 20 0 19 0 20 4 19-3 20-2 19 5 20-1 19-2 20 1 19 1 20-5 20 5 19 1 20-3 19 1 20-1 19-2 20 2 19 2 20-2 19 1 20-5 19 2 20 3 19-2 20 0 19 0 20 2 19-3 20 2 19 4 20-6 19 1 20 3 20-2 19-3 20 1 19 1 20-1 19-1 20 1 19 1 20 1 19 2 20-4 19 3 20 2 19-3 20 2 19 1 20-6 19 0 20 3 19-1 20 2 19-4 20-1 19 5 20 1 20-1 19-3 20 0 19 2 20 1 19-2 20 3 19-5 20 4 19-2 20 0 19 3 20 1 19-2 20-4 19 2 20-1 19 5 20-3 19 1 20-2 19-2 20 2 20 3 19-2 20-1 19 3 20-3 19 1 20-2 19 2 20 0 19 1 20-2 19 2 20 1 19-3 20-1 19 3 20-3 19 0 20 1 19-2 20 3 19-1 20-1 19-2 20 4 20 2 19-5 20 0 19 2 20 2 19-2 20-1 19 1 20-2 19 0 20-1 19 1 20 1 19 2 20-4 19 4 20 1 19-2 20-1 19 3 20 1 19-3 20 1 20 1 19-1 20 3 19 0 20-2 19-1 20 3 19-3 20-2 19 2 20-2 19 4 20-2 19 1 20 0 19-2 20 3 19 0 20 0 19-4 20 2 19 4 20-5 19 1 20 1 20 0 19 2 20-6 19 1 20 1 19-1 20-1 19 3 20-2 19 2 20-1 19 1 20 0 19-3 20 4 19-1 20-1 19 2 20 0 19 1 20 0 19-1 20-2 20 1 19-1 20 0 19 1 20-4 19 4 20 0 19 4 20-2 19 1 20-3 19 4 20-5 19 0 20 1 19-6 20 4 19 0 20 2 19-2 20-1 19 3 20 3 19 0 20-3 20 0 19 0 20 1 19 2 20-3 19-3 20 6 19-4 20 0 19 2 20 1 19 0 20-3 19 4 20 0 19-4 20 0 19 4 20-2 19-3 20 0 19 1 20 1 20-1 19 2 20-5 19 4 20 2 19 0 20-2 19 1 20 0 19-1 20 4 19-2 20 0 19-2 20 1 19-3 20 3 19-3 20 3 19-1 20-3 19 4 20-6 19 2 20 0 20-1 19 2 20-4 19 4 20-1 19-1 20 2 19-1 20 4 19-4 20 4 19-2 20 2 19-2 20 1 19 1 20 0 19-4 20 4 19-2 20 3 19-1 20-1 20 2 19-3 20 1 19 1 20-4 19 3 20 0 19-2 20 1 19 0 20-2 19-1 20 3 19 0 20 2 19-2 20 2 19-1 20 2 19-3 20 2 19-2 20 2 19-6 20 1 20 0 19 4 20 0 19 2 20-3 19 2 20-3 19 3 20-5 19 1 20 6 19-5 20 1 19 0 20 1 19-4 20 0 19 0 20 4 19-1 20 1 19-1 20 0 20-1 19 1 20 2 19-2 20 0 19 2 20-1 19 4 20-6 19 3 20-2 19-1 20 4 19 0 20-5 19 4 20-4 19 2 20 4 19-3 20-1 19-3 20 1 19 0 20 2 20-1 19 1 20 1 19 0 20-1 19 2 20 2 19-5 20 4 19-1 20-2 11 2 0 20 -11665 0z" fill="#7a756b" fill-opacity="0.1"/><path d="M1315 8260l19 2 20 0 19 0 20 2 19-4 20 1 19 2 20 0 19-1 20 0 20-1 19 3 20-4 19 1 20 0 19-1 20-1 19-1 20 1 19-1 20 0 19-3 20 1 19-1 20 1 19 2 20-4 19 1 20 1 19-2 20-1 19 1 20 0 20-2 19 6 20-5 19-1 20-1 19 1 20 3 19-1 20-4 19 2 20 2 19-2 20 0 19 2 20-3 19 3 20-2 19 2 20 2 19-1 20 2 19 0 20-6 19 4 20-5 20 3 19-2 20 2 19 0 20 1 19 1 20 1 19-5 20 3 19-2 20 1 19 1 20-1 19 0 20 0 19 1 20-5 19 4 20 2 19-2 20 2 19 0 20 1 20 1 19-3 20-1 19 1 20-4 19 1 20 3 19-5 20 2 19 3 20 0 19 2 20-4 19 5 20-2 19 0 20-2 19-1 20-1 19 0 20 4 19-5 20 3 19-1 20-1 20-1 19 3 20-2 19 1 20 2 19-2 20 1 19-1 20 0 19 0 20 1 19 0 20 0 19 0 20 2 19-3 20 3 19-2 20-2 19 2 20-1 19-1 20 1 20 2 19 1 20-1 19 0 20-6 19 6 20-3 19-1 20 2 19 3 20 0 19-2 20-2 19 3 20-2 19 3 20-2 19-1 20 2 19 1 20-4 19 3 20 0 19-1 20 0 20 1 19-2 20 1 19 0 20-1 19 0 20 0 19 4 20-5 19 6 20-2 19 1 20 1 19-4 20 0 19 1 20 2 19-3 20 3 19-1 20-3 19 2 20-1 20 2 19 0 20 1 19-2 20-3 19 4 20-2 19-2 20 2 19 1 20-1 19 0 20 1 19-1 20 0 19 1 20-1 19 1 20 0 19 0 20 1 19 0 20 0 19 0 20-1 20-1 19-1 20 0 19-1 20 4 19-2 20 1 19-4 20 4 19 2 20-1 19-5 20 4 19 2 20-3 19 0 20-1 19 3 20-5 19 3 20-1 19 2 20 0 20 1 19-4 20 3 19-1 20 4 19-4 20 3 19-1 20 0 19 1 20-3 19 0 20-2 19 2 20 0 19 0 20 4 19-3 20-2 19 5 20-1 19-2 20 1 19 1 20-5 20 5 19 1 20-3 19 1 20-1 19-2 20 2 19 2 20-2 19 1 20-5 19 2 20 3 19-2 20 0 19 0 20 2 19-3 20 2 19 4 20-6 19 1 20 3 20-2 19-3 20 1 19 1 20-1 19-1 20 1 19 1 20 1 19 2 20-4 19 3 20 2 19-3 20 2 19 1 20-6 19 0 20 3 19-1 20 2 19-4 20-1 19 5 20 1 20-1 19-3 20 0 19 2 20 1 19-2 20 3 19-5 20 4 19-2 20 0 19 3 20 1 19-2 20-4 19 2 20-1 19 5 20-3 19 1 20-2 19-2 20 2 20 3 19-2 20-1 19 3 20-3 19 1 20-2 19 2 20 0 19 1 20-2 19 2 20 1 19-3 20-1 19 3 20-3 19 0 20 1 19-2 20 3 19-1 20-1 19-2 20 4 20 2 19-5 20 0 19 2 20 2 19-2 20-1 19 1 20-2 19 0 20-1 19 1 20 1 19 2 20-4 19 4 20 1 19-2 20-1 19 3 20 1 19-3 20 1 20 1 19-1 20 3 19 0 20-2 19-1 20 3 19-3 20-2 19 2 20-2 19 4 20-2 19 1 20 0 19-2 20 3 19 0 20 0 19-4 20 2 19 4 20-5 19 1 20 1 20 0 19 2 20-6 19 1 20 1 19-1 20-1 19 3 20-2 19 2 20-1 19 1 20 0 19-3 20 4 19-1 20-1 19 2 20 0 19 1 20 0 19-1 20-2 20 1 19-1 20 0 19 1 20-4 19 4 20 0 19 4 20-2 19 1 20-3 19 4 20-5 19 0 20 1 19-6 20 4 19 0 20 2 19-2 20-1 19 3 20 3 19 0 20-3 20 0 19 0 20 1 19 2 20-3 19-3 20 6 19-4 20 0 19 2 20 1 19 0 20-3 19 4 20 0 19-4 20 0 19 4 20-2 19-3 20 0 19 1 20 1 20-1 19 2 20-5 19 4 20 2 19 0 20-2 19 1 20 0 19-1 20 4 19-2 20 0 19-2 20 1 19-3 20 3 19-3 20 3 19-1 20-3 19 4 20-6 19 2 20 0 20-1 19 2 20-4 19 4 20-1 19-1 20 2 19-1 20 4 19-4 20 4 19-2 20 2 19-2 20 1 19 1 20 0 19-4 20 4 19-2 20 3 19-1 20-1 20 2 19-3 20 1 19 1 20-4 19 3 20 0 19-2 20 1 19 0 20-2 19-1 20 3 19 0 20 2 19-2 20 2 19-1 20 2 19-3 20 2 19-2 20 2 19-6 20 1 20 0 19 4 20 0 19 2 20-3 19 2 20-3 19 3 20-5 19 1 20 6 19-5 20 1 19 0 20 1 19-4 20 0 19 0 20 4 19-1 20 1 19-1 20 0 20-1 19 1 20 2 19-2 20 0 19 2 20-1 19 4 20-6 19 3 20-2 19-1 20 4 19 0 20-5 19 4 20-4 19 2 20 4 19-3 20-1 19-3 20 1 19 0 20 2 20-1 19 1 20 1 19 0 20-1 19 2 20 2 19-5 20 4 19-1 20-2 11 2" fill="none" stroke="#7a756b" stroke-width="20"/></g>
<g transform="scale(0.1)" stroke-linejoin="round"><path d="M1315 8269l19-1 20 1 19 1 20-1 19 0 20 1 19-3 20 4 19-2 20-1 20 0 19 0 20 2 19-1 20 0 19 0 20 0 19-3 20 2 19-2 20-1 19 1 20-1 19-1 20 2 19-1 20 2 19 0 20-2 19 1 20 1 19-2 20 1 20-1 19 0 20-2 19 0 20 0 19 1 20-2 19 1 20 1 19 1 20 0 19-1 20 3 19 1 20-3 19 0 20-1 19 2 20-1 19 1 20-2 19 0 20 0 19 2 20-1 20 1 19-2 20 3 19-3 20 2 19 0 20 0 19-3 20 3 19-2 20-1 19 1 20-1 19 0 20 1 19 2 20 1 19-2 20 1 19 0 20 0 19-1 20 2 20-1 19-3 20 3 19 1 20 0 19-1 20-1 19 4 20-3 19 0 20-1 19 1 20 0 19-2 20 0 19 2 20-1 19 2 20-2 19 2 20-3 19 4 20 2 19-6 20 1 20-2 19 3 20 2 19-3 20 0 19 1 20-1 19-2 20 1 19 3 20-2 19 1 20 1 19-2 20-1 19 0 20 0 19 1 20-1 19 0 20 3 19-1 20-1 20-1 19-1 20 5 19-2 20-4 19 4 20-2 19 0 20 1 19 0 20-2 19 1 20 1 19-2 20 2 19 0 20 1 19 1 20-3 19 1 20-1 19 2 20 2 19-1 20-1 20 1 19-2 20 1 19-1 20 2 19-2 20 2 19-4 20 2 19-1 20 1 19-1 20 2 19 1 20-2 19 2 20-2 19 1 20 0 19-2 20 2 19 0 20-1 20 0 19 0 20 0 19 3 20-5 19 1 20-1 19 5 20 0 19-1 20 1 19-2 20 1 19-4 20 2 19-2 20 1 19 2 20-2 19 2 20-1 19 1 20-2 19 1 20-1 20 2 19-1 20-2 19 1 20 1 19 0 20-1 19-1 20 2 19-2 20 4 19-2 20 1 19-5 20 5 19-1 20 1 19-2 20 3 19-1 20-3 19 3 20-2 20 0 19 2 20-1 19-1 20 1 19-1 20 3 19-1 20-1 19-2 20 4 19-3 20-1 19 2 20-1 19 1 20 1 19 1 20 0 19 0 20-1 19-1 20-1 19 0 20 2 20 0 19-1 20 0 19-1 20 0 19 2 20 0 19 0 20-3 19 5 20-3 19 1 20 1 19-2 20 2 19-2 20-2 19 3 20 0 19 0 20-1 19 1 20 1 20-3 19 4 20-2 19 0 20-1 19-1 20 1 19-1 20 1 19-1 20 2 19-3 20 1 19 2 20-2 19 1 20-3 19 2 20-1 19 1 20 2 19 0 20 0 19-2 20 0 20 1 19 1 20 1 19-2 20 0 19 2 20 1 19-4 20-1 19 3 20-4 19 1 20 2 19 0 20-2 19 3 20-2 19 0 20 2 19 2 20-4 19 2 20-1 20 0 19 0 20 3 19-3 20 0 19-1 20 1 19 4 20-6 19 1 20 0 19 1 20 2 19-3 20 1 19-1 20 1 19 1 20 0 19-2 20 2 19 0 20 0 19 0 20-2 20 3 19-1 20-1 19 1 20 1 19-1 20-2 19 3 20 0 19-1 20 0 19 2 20-2 19 3 20-2 19 0 20-3 19-1 20 2 19-2 20 0 19 0 20 2 20-3 19 3 20 1 19-2 20 1 19 0 20 1 19 1 20-3 19 0 20 1 19 0 20 0 19 1 20 2 19-1 20 2 19-3 20-1 19-1 20-1 19 1 20-1 19 1 20 0 20-1 19 3 20 3 19-4 20 0 19 1 20-1 19-2 20 0 19 1 20 2 19 1 20-2 19 0 20 1 19 1 20-1 19 1 20 0 19-2 20 0 19 1 20 1 20-4 19 4 20-3 19 2 20 0 19-1 20 0 19 0 20 0 19-1 20 1 19 0 20 2 19-3 20-2 19 4 20-1 19 0 20 1 19-2 20 2 19-4 20 2 19 1 20 2 20-1 19 1 20-1 19-2 20 2 19 0 20 1 19-1 20-1 19-1 20 1 19 1 20-1 19-2 20 2 19 2 20-1 19-2 20 3 19 0 20-2 19 3 20-3 20 2 19 0 20-3 19 1 20 0 19 1 20 0 19-1 20-1 19 2 20 0 19-2 20 2 19-1 20-1 19 1 20 2 19-1 20 0 19-1 20 1 19-2 20 2 19-3 20 0 20 3 19 1 20-1 19 1 20-1 19-1 20 1 19-2 20 1 19 0 20 1 19 1 20-1 19-2 20 1 19 1 20-1 19 1 20-1 19-1 20 0 19 1 20-1 20 1 19 1 20-2 19 3 20-3 19 0 20 1 19 0 20-1 19 1 20-1 19 0 20 2 19-3 20 3 19 2 20-3 19 1 20-1 19 1 20 0 19-1 20 0 19 0 20 0 20-1 19 2 20 2 19-4 20 1 19-1 20 2 19 1 20-3 19 1 20-2 19 1 20 3 19 0 20-3 19 1 20 1 19 2 20 0 19-2 20 0 19-2 20 3 20-3 19 3 20-3 19 2 20 0 19-3 20 0 19 2 20 1 19 0 20-2 19-2 20 2 19 4 20-5 19 2 20 1 19-1 20 0 19 0 20 1 19-1 20 3 19-1 20 0 20 1 19-1 20 1 19 0 20-3 19 1 20 2 19-1 20 1 19-2 20 2 11-3 0 10 -11665 0z" fill="#77736b" fill-opacity="0.1"/><path d="M1315 8269l19-1 20 1 19 1 20-1 19 0 20 1 19-3 20 4 19-2 20-1 20 0 19 0 20 2 19-1 20 0 19 0 20 0 19-3 20 2 19-2 20-1 19 1 20-1 19-1 20 2 19-1 20 2 19 0 20-2 19 1 20 1 19-2 20 1 20-1 19 0 20-2 19 0 20 0 19 1 20-2 19 1 20 1 19 1 20 0 19-1 20 3 19 1 20-3 19 0 20-1 19 2 20-1 19 1 20-2 19 0 20 0 19 2 20-1 20 1 19-2 20 3 19-3 20 2 19 0 20 0 19-3 20 3 19-2 20-1 19 1 20-1 19 0 20 1 19 2 20 1 19-2 20 1 19 0 20 0 19-1 20 2 20-1 19-3 20 3 19 1 20 0 19-1 20-1 19 4 20-3 19 0 20-1 19 1 20 0 19-2 20 0 19 2 20-1 19 2 20-2 19 2 20-3 19 4 20 2 19-6 20 1 20-2 19 3 20 2 19-3 20 0 19 1 20-1 19-2 20 1 19 3 20-2 19 1 20 1 19-2 20-1 19 0 20 0 19 1 20-1 19 0 20 3 19-1 20-1 20-1 19-1 20 5 19-2 20-4 19 4 20-2 19 0 20 1 19 0 20-2 19 1 20 1 19-2 20 2 19 0 20 1 19 1 20-3 19 1 20-1 19 2 20 2 19-1 20-1 20 1 19-2 20 1 19-1 20 2 19-2 20 2 19-4 20 2 19-1 20 1 19-1 20 2 19 1 20-2 19 2 20-2 19 1 20 0 19-2 20 2 19 0 20-1 20 0 19 0 20 0 19 3 20-5 19 1 20-1 19 5 20 0 19-1 20 1 19-2 20 1 19-4 20 2 19-2 20 1 19 2 20-2 19 2 20-1 19 1 20-2 19 1 20-1 20 2 19-1 20-2 19 1 20 1 19 0 20-1 19-1 20 2 19-2 20 4 19-2 20 1 19-5 20 5 19-1 20 1 19-2 20 3 19-1 20-3 19 3 20-2 20 0 19 2 20-1 19-1 20 1 19-1 20 3 19-1 20-1 19-2 20 4 19-3 20-1 19 2 20-1 19 1 20 1 19 1 20 0 19 0 20-1 19-1 20-1 19 0 20 2 20 0 19-1 20 0 19-1 20 0 19 2 20 0 19 0 20-3 19 5 20-3 19 1 20 1 19-2 20 2 19-2 20-2 19 3 20 0 19 0 20-1 19 1 20 1 20-3 19 4 20-2 19 0 20-1 19-1 20 1 19-1 20 1 19-1 20 2 19-3 20 1 19 2 20-2 19 1 20-3 19 2 20-1 19 1 20 2 19 0 20 0 19-2 20 0 20 1 19 1 20 1 19-2 20 0 19 2 20 1 19-4 20-1 19 3 20-4 19 1 20 2 19 0 20-2 19 3 20-2 19 0 20 2 19 2 20-4 19 2 20-1 20 0 19 0 20 3 19-3 20 0 19-1 20 1 19 4 20-6 19 1 20 0 19 1 20 2 19-3 20 1 19-1 20 1 19 1 20 0 19-2 20 2 19 0 20 0 19 0 20-2 20 3 19-1 20-1 19 1 20 1 19-1 20-2 19 3 20 0 19-1 20 0 19 2 20-2 19 3 20-2 19 0 20-3 19-1 20 2 19-2 20 0 19 0 20 2 20-3 19 3 20 1 19-2 20 1 19 0 20 1 19 1 20-3 19 0 20 1 19 0 20 0 19 1 20 2 19-1 20 2 19-3 20-1 19-1 20-1 19 1 20-1 19 1 20 0 20-1 19 3 20 3 19-4 20 0 19 1 20-1 19-2 20 0 19 1 20 2 19 1 20-2 19 0 20 1 19 1 20-1 19 1 20 0 19-2 20 0 19 1 20 1 20-4 19 4 20-3 19 2 20 0 19-1 20 0 19 0 20 0 19-1 20 1 19 0 20 2 19-3 20-2 19 4 20-1 19 0 20 1 19-2 20 2 19-4 20 2 19 1 20 2 20-1 19 1 20-1 19-2 20 2 19 0 20 1 19-1 20-1 19-1 20 1 19 1 20-1 19-2 20 2 19 2 20-1 19-2 20 3 19 0 20-2 19 3 20-3 20 2 19 0 20-3 19 1 20 0 19 1 20 0 19-1 20-1 19 2 20 0 19-2 20 2 19-1 20-1 19 1 20 2 19-1 20 0 19-1 20 1 19-2 20 2 19-3 20 0 20 3 19 1 20-1 19 1 20-1 19-1 20 1 19-2 20 1 19 0 20 1 19 1 20-1 19-2 20 1 19 1 20-1 19 1 20-1 19-1 20 0 19 1 20-1 20 1 19 1 20-2 19 3 20-3 19 0 20 1 19 0 20-1 19 1 20-1 19 0 20 2 19-3 20 3 19 2 20-3 19 1 20-1 19 1 20 0 19-1 20 0 19 0 20 0 20-1 19 2 20 2 19-4 20 1 19-1 20 2 19 1 20-3 19 1 20-2 19 1 20 3 19 0 20-3 19 1 20 1 19 2 20 0 19-2 20 0 19-2 20 3 20-3 19 3 20-3 19 2 20 0 19-3 20 0 19 2 20 1 19 0 20-2 19-2 20 2 19 4 20-5 19 2 20 1 19-1 20 0 19 0 20 1 19-1 20 3 19-1 20 0 20 1 19-1 20 1 19 0 20-3 19 1 20 2 19-1 20 1 19-2 20 2 11-3" fill="none" stroke="#77736b" stroke-width="20"/></g>
<g transform="scale(0.1)" stroke-linejoin="round"><path d="M1315 8175l19 6 20 14 19 10 20-54 19 17 20-7 19-18 20-1 19-12 20 15 20 1 19 10 20-5 19 31 20-61 19 8 20 23 19-17 20 27 19-16 20-37 19 3 20-69 19 20 20 37 19-149 20 67 19-47 20 105 19-14 20-70 19 99 20-88 20 16 19-17 20 32 19-37 20 78 19-2 20-24 19-17 20 9 19-29 20-174 19 123 20 105 19 6 20-24 19-68 20-192 19 195 20 78 19-38 20-5 19-125 20 107 19-28 20 74 20-223 19 76 20 84 19 61 20-56 19 16 20 29 19 6 20-137 19 62 20 20 19 91 20-64 19-24 20 56 19-8 20-68 19 46 20-30 19 46 20 17 19-43 20 22 20-210 19 154 20-77 19-32 20 67 19 77 20-21 19 37 20-184 19 57 20 131 19 62 20-255 19 90 20 2 19 155 20-50 19-217 20 40 19 105 20 86 19-79 20-22 19 23 20-116 20 103 19 69 20 30 19-36 20 13 19 6 20-246 19 59 20 67 19 54 20-14 19-112 20 87 19 76 20-167 19 87 20 69 19 53 20-55 19 72 20-56 19-13 20 32 20-11 19 8 20-45 19 18 20 3 19 69 20-270 19 229 20-168 19 112 20-2 19 81 20-31 19 18 20-7 19 18 20-30 19 35 20-12 19 15 20-131 19-22 20 154 19-236 20-486 20 403 19 253 20 25 19 40 20 28 19-83 20 23 19-186 20 105 19 143 20-26 19-48 20-171 19 126 20 36 19 24 20-1 19-1 20 12 19 12 20-68 19 98 20-152 20-44 19 7 20 2 19 45 20 114 19-33 20 16 19-34 20-114 19 92 20-7 19 101 20-47 19 26 20 22 19-26 20-23 19 10 20-40 19 9 20 6 19-183 20 97 19 123 20-227 20 131 19 21 20 60 19 0 20-22 19 13 20 80 19-37 20-150 19-3 20-64 19 174 20-34 19 55 20-19 19-49 20-250 19 231 20-83 19 39 20 87 19 66 20-76 20 25 19 17 20-9 19-6 20 12 19-24 20-23 19 52 20-9 19-44 20 57 19 76 20-45 19-10 20 14 19-32 20-23 19 16 20-41 19 3 20 43 19-156 20 28 19-49 20 179 20 0 19-58 20-8 19 59 20 57 19-43 20-9 19 37 20-52 19 7 20-19 19-6 20 62 19 45 20-91 19-120 20 6 19-3 20-335 19 320 20-31 19 44 20 49 20-148 19 70 20 41 19 143 20-93 19-79 20 164 19-7 20 1 19 22 20-34 19 34 20-21 19 0 20-19 19 35 20-28 19-3 20 30 19-47 20 7 19-30 20 11 19 58 20-161 20 131 19-8 20-12 19-19 20-1 19 21 20-27 19-10 20-49 19 80 20 41 19-9 20 15 19-46 20 30 19-54 20-49 19 79 20 16 19 6 20-12 19 117 20-68 20-111 19-256 20 241 19 65 20 43 19-73 20 104 19-69 20 7 19 12 20-14 19 45 20-178 19 102 20 71 19-95 20-238 19 213 20 107 19-46 20 23 19 40 20-208 19 57 20 121 20-34 19-61 20 137 19-33 20-38 19-39 20 87 19-101 20 79 19-7 20-46 19 74 20-28 19 2 20-4 19 11 20 16 19 22 20-90 19 26 20 52 19-15 20 2 20 0 19 12 20-46 19 19 20 1 19 10 20-24 19 34 20-156 19 95 20 16 19 53 20-4 19-48 20 1 19-79 20 109 19-142 20 66 19-69 20 95 19 92 20-198 19 91 20-20 20 89 19-33 20 17 19-115 20 50 19-147 20 91 19-45 20 199 19-8 20-110 19-1 20 87 19 65 20-36 19 10 20-13 19-14 20-33 19-10 20 115 19-128 20-230 20 221 19 55 20 31 19-34 20 25 19-90 20 46 19-149 20 103 19 90 20-76 19 73 20-56 19-23 20 35 19-6 20-15 19 36 20-15 19 34 20 25 19-7 20-70 19 9 20 2 20 43 19-9 20-109 19 123 20-89 19 89 20-210 19 168 20 18 19 19 20 0 19-5 20-31 19-9 20 29 19-103 20-246 19 249 20 83 19 60 20-10 19-48 20 33 20-21 19 0 20-50 19 42 20 9 19-15 20 120 19-110 20-33 19 34 20-36 19 28 20 16 19 26 20-11 19-41 20 28 19-60 20 91 19-90 20 14 19 35 20 21 19-59 20 93 20-95 19 112 20-16 19 14 20 72 19-20 20-4 19 14 20 14 19-3 20-3 19-15 20 12 19-2 20-12 19 18 20 4 19-13 20-3 19 0 20 18 19-22 20-19 20 27 19 3 20-13 19-7 20 3 19 23 20-18 19 13 20-3 19-4 20 10 19-11 20 16 19-13 20 0 19 10 20-3 19-16 20 9 19-2 20-14 19 7 20 16 19 6 20 14 20-14 19-4 20-10 19 3 20 8 19-24 20 8 19 17 20-2 19-10 20-19 19 23 20 18 19-28 20 40 19-34 20 2 19 0 20 0 19 7 20-9 19-1 20-9 20 13 19-24 20 6 19 25 20 13 19-22 20-15 19 36 20-37 19 28 20-2 19-19 20-7 19 14 20 24 19-15 20-8 19 6 20 12 19-20 20 1 19 0 20 17 19-19 20 3 20 1 19-4 20-3 19-11 20-6 19 36 20-13 19 10 20 14 19-34 20 16 11 21 0 100 -11665 0z" fill="#4c8dc9" fill-opacity="0.1"/><path d="M1315 8175l19 6 20 14 19 10 20-54 19 17 20-7 19-18 20-1 19-12 20 15 20 1 19 10 20-5 19 31 20-61 19 8 20 23 19-17 20 27 19-16 20-37 19 3 20-69 19 20 20 37 19-149 20 67 19-47 20 105 19-14 20-70 19 99 20-88 20 16 19-17 20 32 19-37 20 78 19-2 20-24 19-17 20 9 19-29 20-174 19 123 20 105 19 6 20-24 19-68 20-192 19 195 20 78 19-38 20-5 19-125 20 107 19-28 20 74 20-223 19 76 20 84 19 61 20-56 19 16 20 29 19 6 20-137 19 62 20 20 19 91 20-64 19-24 20 56 19-8 20-68 19 46 20-30 19 46 20 17 19-43 20 22 20-210 19 154 20-77 19-32 20 67 19 77 20-21 19 37 20-184 19 57 20 131 19 62 20-255 19 90 20 2 19 155 20-50 19-217 20 40 19 105 20 86 19-79 20-22 19 23 20-116 20 103 19 69 20 30 19-36 20 13 19 6 20-246 19 59 20 67 19 54 20-14 19-112 20 87 19 76 20-167 19 87 20 69 19 53 20-55 19 72 20-56 19-13 20 32 20-11 19 8 20-45 19 18 20 3 19 69 20-270 19 229 20-168 19 112 20-2 19 81 20-31 19 18 20-7 19 18 20-30 19 35 20-12 19 15 20-131 19-22 20 154 19-236 20-486 20 403 19 253 20 25 19 40 20 28 19-83 20 23 19-186 20 105 19 143 20-26 19-48 20-171 19 126 20 36 19 24 20-1 19-1 20 12 19 12 20-68 19 98 20-152 20-44 19 7 20 2 19 45 20 114 19-33 20 16 19-34 20-114 19 92 20-7 19 101 20-47 19 26 20 22 19-26 20-23 19 10 20-40 19 9 20 6 19-183 20 97 19 123 20-227 20 131 19 21 20 60 19 0 20-22 19 13 20 80 19-37 20-150 19-3 20-64 19 174 20-34 19 55 20-19 19-49 20-250 19 231 20-83 19 39 20 87 19 66 20-76 20 25 19 17 20-9 19-6 20 12 19-24 20-23 19 52 20-9 19-44 20 57 19 76 20-45 19-10 20 14 19-32 20-23 19 16 20-41 19 3 20 43 19-156 20 28 19-49 20 179 20 0 19-58 20-8 19 59 20 57 19-43 20-9 19 37 20-52 19 7 20-19 19-6 20 62 19 45 20-91 19-120 20 6 19-3 20-335 19 320 20-31 19 44 20 49 20-148 19 70 20 41 19 143 20-93 19-79 20 164 19-7 20 1 19 22 20-34 19 34 20-21 19 0 20-19 19 35 20-28 19-3 20 30 19-47 20 7 19-30 20 11 19 58 20-161 20 131 19-8 20-12 19-19 20-1 19 21 20-27 19-10 20-49 19 80 20 41 19-9 20 15 19-46 20 30 19-54 20-49 19 79 20 16 19 6 20-12 19 117 20-68 20-111 19-256 20 241 19 65 20 43 19-73 20 104 19-69 20 7 19 12 20-14 19 45 20-178 19 102 20 71 19-95 20-238 19 213 20 107 19-46 20 23 19 40 20-208 19 57 20 121 20-34 19-61 20 137 19-33 20-38 19-39 20 87 19-101 20 79 19-7 20-46 19 74 20-28 19 2 20-4 19 11 20 16 19 22 20-90 19 26 20 52 19-15 20 2 20 0 19 12 20-46 19 19 20 1 19 10 20-24 19 34 20-156 19 95 20 16 19 53 20-4 19-48 20 1 19-79 20 109 19-142 20 66 19-69 20 95 19 92 20-198 19 91 20-20 20 89 19-33 20 17 19-115 20 50 19-147 20 91 19-45 20 199 19-8 20-110 19-1 20 87 19 65 20-36 19 10 20-13 19-14 20-33 19-10 20 115 19-128 20-230 20 221 19 55 20 31 19-34 20 25 19-90 20 46 19-149 20 103 19 90 20-76 19 73 20-56 19-23 20 35 19-6 20-15 19 36 20-15 19 34 20 25 19-7 20-70 19 9 20 2 20 43 19-9 20-109 19 123 20-89 19 89 20-210 19 168 20 18 19 19 20 0 19-5 20-31 19-9 20 29 19-103 20-246 19 249 20 83 19 60 20-10 19-48 20 33 20-21 19 0 20-50 19 42 20 9 19-15 20 120 19-110 20-33 19 34 20-36 19 28 20 16 19 26 20-11 19-41 20 28 19-60 20 91 19-90 20 14 19 35 20 21 19-59 20 93 20-95 19 112 20-16 19 14 20 72 19-20 20-4 19 14 20 14 19-3 20-3 19-15 20 12 19-2 20-12 19 18 20 4 19-13 20-3 19 0 20 18 19-22 20-19 20 27 19 3 20-13 19-7 20 3 19 23 20-18 19 13 20-3 19-4 20 10 19-11 20 16 19-13 20 0 19 10 20-3 19-16 20 9 19-2 20-14 19 7 20 16 19 6 20 14 20-14 19-4 20-10 19 3 20 8 19-24 20 8 19 17 20-2 19-10 20-19 19 23 20 18 19-28 20 40 19-34 20 2 19 0 20 0 19 7 20-9 19-1 20-9 20 13 19-24 20 6 19 25 20 13 19-22 20-15 19 36 20-37 19 28 20-2 19-19 20-7 19 14 20 24 19-15 20-8 19 6 20 12 19-20 20 1 19 0 20 17 19-19 20 3 20 1 19-4 20-3 19-11 20-6 19 36 20-13 19 10 20 14 19-34 20 16 11 21" fill="none" stroke="#4c8dc9" stroke-width="22.0"/></g>
<g transform="scale(0.1)" stroke-linejoin="round"><path d="M1315 8169l19 10 20-7 19 6 20 0 19-4 20 1 19 1 20-9 19 7 20-6 20 8 19-10 20 0 19-5 20-8 19 6 20-4 19-2 20-7 19 2 20-15 19 2 20 1 19-9 20-70 19 62 20 7 19-18 20 3 19 18 20-7 19 1 20-9 20 5 19-8 20 5 19 9 20 1 19-4 20 5 19 5 20-10 19-5 20 1 19 0 20-1 19 1 20-3 19 8 20 4 19 4 20-11 19-3 20 1 19-7 20 7 19-14 20 18 20-13 19 7 20-2 19 12 20-16 19-7 20 11 19-11 20 11 19 7 20-9 19 1 20 10 19 10 20-11 19 13 20-15 19-9 20 10 19 1 20-5 19 2 20 3 20 8 19-12 20 6 19 1 20-17 19 10 20-3 19 11 20-8 19-7 20 9 19 13 20-10 19-1 20-7 19 3 20 15 19-5 20-4 19-3 20-2 19-7 20 1 19-3 20-4 20-1 19 16 20-6 19 8 20-12 19 5 20 7 19 3 20 5 19-11 20-11 19 19 20-12 19 10 20-6 19-1 20-7 19 9 20 6 19-7 20 0 19-7 20 14 20-14 19 2 20 4 19 0 20 0 19-7 20 15 19-20 20 5 19 4 20-2 19-13 20 11 19-1 20 7 19-4 20 14 19-6 20-15 19 15 20 4 19-12 20 1 19 0 20-133 20 140 19 2 20 0 19-11 20 7 19-9 20-5 19 13 20-13 19 14 20-7 19 2 20 4 19 7 20-20 19 4 20 2 19 10 20-12 19 14 20 11 19-16 20 5 20 0 19-9 20-2 19 3 20 1 19 11 20-14 19-5 20 7 19-6 20 7 19 1 20-10 19 8 20-9 19 9 20-15 19 13 20 11 19-23 20 24 19-5 20-5 19 0 20 2 20-2 19 6 20-5 19-1 20-6 19 3 20 8 19-7 20 13 19-3 20-2 19 1 20-14 19 13 20-6 19-7 20 8 19-11 20 8 19 10 20 3 19 6 20-6 20-1 19-13 20 8 19-5 20 1 19 1 20-1 19-2 20 2 19 8 20-15 19 8 20 0 19-2 20 16 19-11 20-3 19 4 20 5 19-6 20 7 19 4 20-4 19-2 20-9 20 6 19-5 20 3 19-3 20 1 19-11 20 7 19-6 20 2 19-1 20 3 19 3 20 7 19-7 20-1 19 0 20-6 19 9 20-16 19 11 20-1 19 0 20 14 20-9 19-12 20 11 19 9 20-6 19-23 20 26 19 5 20-2 19-4 20-8 19-2 20 6 19 6 20-8 19 6 20-2 19-4 20 3 19 4 20 7 19-10 20 0 19 11 20-16 20 1 19 16 20-18 19 7 20 6 19-12 20 16 19-13 20 10 19-10 20-5 19 12 20-7 19 8 20-5 19-9 20 9 19-4 20-6 19 8 20 9 19-4 20-8 20 13 19 2 20-6 19-8 20-2 19 4 20-4 19 6 20-2 19 10 20-8 19-5 20-4 19 23 20-17 19-1 20 5 19-6 20 17 19-15 20 4 19 0 20 1 19 8 20-11 20-3 19 23 20-19 19-3 20 12 19-16 20 0 19-4 20 7 19 12 20 3 19-14 20 3 19-5 20 6 19-11 20 16 19-4 20-11 19 6 20-5 19-3 20 6 20-5 19-1 20 9 19-2 20-11 19 17 20-5 19-10 20 12 19-3 20 9 19-9 20 10 19-22 20 16 19-1 20-5 19 5 20-2 19-232 20 233 19 8 20-5 19 11 20-13 20-6 19 8 20 2 19-5 20-7 19 4 20 4 19 1 20-17 19 12 20-7 19 16 20-11 19-3 20 14 19-5 20-6 19 2 20-7 19 7 20 0 19-6 20 9 20-18 19 0 20 24 19 6 20-6 19-3 20-1 19 0 20-20 19 25 20-12 19 5 20-2 19 5 20-4 19-13 20 24 19-14 20 2 19-3 20 6 19-2 20 9 19-26 20 12 20 8 19-4 20 4 19-3 20-23 19 9 20 8 19 1 20 6 19 1 20 6 19-11 20 5 19-13 20 3 19 6 20-211 19 206 20 9 19 10 20 1 19-9 20 12 20-18 19-7 20 4 19 4 20-5 19 15 20-10 19-5 20 8 19-4 20 18 19-9 20 1 19-17 20 7 19 8 20 1 19-13 20 3 19 1 20 7 19-7 20 3 19-15 20 18 20-15 19 10 20 5 19-20 20 19 19-1 20 9 19 1 20-6 19 3 20 5 19-17 20 0 19 16 20-3 19 2 20-9 19-3 20 14 19-4 20-4 19 6 20-11 20 13 19-7 20-3 19 15 20-5 19 4 20-8 19-1 20-120 19 105 20 12 19-6 20 0 19 5 20 9 19-13 20-2 19 9 20-2 19-1 20 7 19 4 20 11 19-12 20-3 20 0 19-6 20 5 19-6 20-3 19 4 20 0 19 10 20-14 19 8 20-133 19 126 20 5 19 5 20-1 19-2 20-16 19 12 20-4 19 9 20 11 19-14 20 3 20 8 19-2 20-2 19-19 20 21 19-18 20 12 19 16 20-16 19-2 20-11 19 19 20-16 19 10 20-3 19-1 20 1 19 2 20 12 19-15 20-3 19 1 20 3 19-7 20 9 20 20 19-21 20-8 19 2 20 14 19-12 20 2 19 6 20-10 19 10 20-10 11 6 0 149 -11665 0z" fill="#d6a70b" fill-opacity="0.1"/><path d="M1315 8169l19 10 20-7 19 6 20 0 19-4 20 1 19 1 20-9 19 7 20-6 20 8 19-10 20 0 19-5 20-8 19 6 20-4 19-2 20-7 19 2 20-15 19 2 20 1 19-9 20-70 19 62 20 7 19-18 20 3 19 18 20-7 19 1 20-9 20 5 19-8 20 5 19 9 20 1 19-4 20 5 19 5 20-10 19-5 20 1 19 0 20-1 19 1 20-3 19 8 20 4 19 4 20-11 19-3 20 1 19-7 20 7 19-14 20 18 20-13 19 7 20-2 19 12 20-16 19-7 20 11 19-11 20 11 19 7 20-9 19 1 20 10 19 10 20-11 19 13 20-15 19-9 20 10 19 1 20-5 19 2 20 3 20 8 19-12 20 6 19 1 20-17 19 10 20-3 19 11 20-8 19-7 20 9 19 13 20-10 19-1 20-7 19 3 20 15 19-5 20-4 19-3 20-2 19-7 20 1 19-3 20-4 20-1 19 16 20-6 19 8 20-12 19 5 20 7 19 3 20 5 19-11 20-11 19 19 20-12 19 10 20-6 19-1 20-7 19 9 20 6 19-7 20 0 19-7 20 14 20-14 19 2 20 4 19 0 20 0 19-7 20 15 19-20 20 5 19 4 20-2 19-13 20 11 19-1 20 7 19-4 20 14 19-6 20-15 19 15 20 4 19-12 20 1 19 0 20-133 20 140 19 2 20 0 19-11 20 7 19-9 20-5 19 13 20-13 19 14 20-7 19 2 20 4 19 7 20-20 19 4 20 2 19 10 20-12 19 14 20 11 19-16 20 5 20 0 19-9 20-2 19 3 20 1 19 11 20-14 19-5 20 7 19-6 20 7 19 1 20-10 19 8 20-9 19 9 20-15 19 13 20 11 19-23 20 24 19-5 20-5 19 0 20 2 20-2 19 6 20-5 19-1 20-6 19 3 20 8 19-7 20 13 19-3 20-2 19 1 20-14 19 13 20-6 19-7 20 8 19-11 20 8 19 10 20 3 19 6 20-6 20-1 19-13 20 8 19-5 20 1 19 1 20-1 19-2 20 2 19 8 20-15 19 8 20 0 19-2 20 16 19-11 20-3 19 4 20 5 19-6 20 7 19 4 20-4 19-2 20-9 20 6 19-5 20 3 19-3 20 1 19-11 20 7 19-6 20 2 19-1 20 3 19 3 20 7 19-7 20-1 19 0 20-6 19 9 20-16 19 11 20-1 19 0 20 14 20-9 19-12 20 11 19 9 20-6 19-23 20 26 19 5 20-2 19-4 20-8 19-2 20 6 19 6 20-8 19 6 20-2 19-4 20 3 19 4 20 7 19-10 20 0 19 11 20-16 20 1 19 16 20-18 19 7 20 6 19-12 20 16 19-13 20 10 19-10 20-5 19 12 20-7 19 8 20-5 19-9 20 9 19-4 20-6 19 8 20 9 19-4 20-8 20 13 19 2 20-6 19-8 20-2 19 4 20-4 19 6 20-2 19 10 20-8 19-5 20-4 19 23 20-17 19-1 20 5 19-6 20 17 19-15 20 4 19 0 20 1 19 8 20-11 20-3 19 23 20-19 19-3 20 12 19-16 20 0 19-4 20 7 19 12 20 3 19-14 20 3 19-5 20 6 19-11 20 16 19-4 20-11 19 6 20-5 19-3 20 6 20-5 19-1 20 9 19-2 20-11 19 17 20-5 19-10 20 12 19-3 20 9 19-9 20 10 19-22 20 16 19-1 20-5 19 5 20-2 19-232 20 233 19 8 20-5 19 11 20-13 20-6 19 8 20 2 19-5 20-7 19 4 20 4 19 1 20-17 19 12 20-7 19 16 20-11 19-3 20 14 19-5 20-6 19 2 20-7 19 7 20 0 19-6 20 9 20-18 19 0 20 24 19 6 20-6 19-3 20-1 19 0 20-20 19 25 20-12 19 5 20-2 19 5 20-4 19-13 20 24 19-14 20 2 19-3 20 6 19-2 20 9 19-26 20 12 20 8 19-4 20 4 19-3 20-23 19 9 20 8 19 1 20 6 19 1 20 6 19-11 20 5 19-13 20 3 19 6 20-211 19 206 20 9 19 10 20 1 19-9 20 12 20-18 19-7 20 4 19 4 20-5 19 15 20-10 19-5 20 8 19-4 20 18 19-9 20 1 19-17 20 7 19 8 20 1 19-13 20 3 19 1 20 7 19-7 20 3 19-15 20 18 20-15 19 10 20 5 19-20 20 19 19-1 20 9 19 1 20-6 19 3 20 5 19-17 20 0 19 16 20-3 19 2 20-9 19-3 20 14 19-4 20-4 19 6 20-11 20 13 19-7 20-3 19 15 20-5 19 4 20-8 19-1 20-120 19 105 20 12 19-6 20 0 19 5 20 9 19-13 20-2 19 9 20-2 19-1 20 7 19 4 20 11 19-12 20-3 20 0 19-6 20 5 19-6 20-3 19 4 20 0 19 10 20-14 19 8 20-133 19 126 20 5 19 5 20-1 19-2 20-16 19 12 20-4 19 9 20 11 19-14 20 3 20 8 19-2 20-2 19-19 20 21 19-18 20 12 19 16 20-16 19-2 20-11 19 19 20-16 19 10 20-3 19-1 20 1 19 2 20 12 19-15 20-3 19 1 20 3 19-7 20 9 20 20 19-21 20-8 19 2 20 14 19-12 20 2 19 6 20-10 19 10 20-10 11 6" fill="none" stroke="#d6a70b" stroke-width="20"/></g>
<line x1="131.5" y1="630" x2="131.5" y2="832.7" stroke="#0cbce2" stroke-width="1.25" stroke-dasharray="3.1 1.9"/><path d="M121.5,842.1L141.5,842.1L131.2,832.7Z" fill="#05add3"/>
</g>
<g>
<rect x="1473" y="761" width="1182" height="67" fill="rgb(11,237,50)" fill-opacity="0.09"/>
<rect x="1473" y="759" width="1182" height="4" fill="rgb(6,163,69)" fill-opacity="0.6"/>
<rect x="1473" y="630" width="1182" height="4" fill="rgb(247,149,32)" fill-opacity="0.6"/>
<rect x="1473" y="827" width="1182" height="2" fill="rgba(200,200,200,0.22)"/>
<rect x="1473" y="761" width="1182" height="2" fill="rgba(200,200,200,0.22)"/>
<rect x="1473" y="696.5" width="1182" height="2" fill="rgba(200,200,200,0.22)"/>
<rect x="1473" y="632" width="1182" height="2" fill="rgba(200,200,200,0.22)"/>
<rect x="1569" y="632" width="2" height="197" fill="rgba(200,200,200,0.22)"/>
<rect x="1803" y="632" width="2" height="197" fill="rgba(200,200,200,0.22)"/>
<rect x="2037" y="632" width="2" height="197" fill="rgba(200,200,200,0.22)"/>
<rect x="2272" y="632" width="2" height="197" fill="rgba(200,200,200,0.22)"/>
<rect x="2506" y="632" width="2" height="197" fill="rgba(200,200,200,0.22)"/>
<g transform="scale(0.1)" stroke-linejoin="round"><path d="M14885 8047l19-6 20 17 19 31 20-103 19 51 20-3 19-2 20 79 19-52 20-39 20-20 19-63 20 71 19-28 20-124 19 26 20-55 19-5 20-58 19-31 20-896 19 784 20 180 19-989 20 898 19 4 20 55 19-1 20 81 19-126 20-86 19 65 20-24 20 139 19-72 20-67 19 65 20 40 19-3 20-3 19-63 20-8 19 15 20-824 19 859 20-23 19 59 20-83 19 44 20-95 19 120 20 24 19-15 20-130 19 106 20 162 19-170 20-21 20 72 19-55 20-84 19 13 20 65 19-15 20 60 19-125 20 87 19-59 20-27 19 118 20 2 19-65 20 12 19-16 20-10 19 99 20-4 19-20 20 10 19-39 20-7 20 72 19-105 20 68 19 37 20-76 19-95 20 16 19 75 20 11 19 12 20 125 19-186 20 48 19 48 20 18 19-169 20-573 19 574 20 58 19 60 20-96 19-12 20 67 19-24 20 138 20-3 19-66 20-29 19 87 20-10 19-69 20 60 19-88 20 5 19 160 20-104 19-149 20 85 19 23 20-17 19 21 20 53 19-115 20 108 19-24 20-130 19 169 20-52 20-82 19 66 20 5 19 43 20-46 19 32 20-47 19-9 20 72 19-50 20-21 19 87 20-167 19 75 20 110 19-86 20 88 19 8 20-71 19 47 20-78 19 38 20-23 19 60 20-21 20-74 19-13 20 65 19 71 20-36 19-17 20-75 19-8 20 133 19-137 20 126 19-104 20 0 19 27 20-35 19-821 20 868 19 35 20-9 19-24 20-23 19-8 20 93 20-65 19-63 20 87 19-64 20 110 19-198 20 152 19-112 20 196 19-170 20 92 19-43 20 22 19 33 20 6 19 18 20-82 19-55 20 39 19 98 20-156 19 67 20-71 19 65 20 68 20-85 19 53 20-34 19 46 20-21 19 39 20-4 19-10 20-38 19 119 20-30 19-89 20 38 19-17 20 63 19-94 20 111 19-308 20 192 19 48 20 15 19 36 20-65 20 105 19-141 20 108 19-5 20-120 19-4 20 53 19 79 20-133 19-38 20 69 19 145 20-87 19-12 20-59 19-888 20 955 19 74 20-69 19-50 20 72 19-75 20-39 19-40 20 25 20 38 19 1 20 67 19-73 20 58 19-101 20 144 19-25 20-44 19 26 20-66 19 45 20 6 19-106 20 114 19-18 20-139 19 80 20 92 19-78 20 110 19-110 20 35 20 71 19 3 20-15 19-81 20-61 19 59 20-47 19 118 20-72 19 16 20-17 19-32 20 119 19-11 20 66 19-147 20 115 19-54 20-28 19-22 20 48 19-729 20 731 19 1 20 8 20-15 19-71 20 62 19-116 20 116 19 22 20-16 19-6 20-21 19-46 20-40 19 108 20 48 19-32 20 23 19-847 20 820 19 70 20-38 19-74 20 52 19-150 20 152 20 31 19-24 20-57 19-6 20 82 19-99 20 45 19 16 20 14 19-40 20 31 19 1 20 30 19-49 20-41 19 21 20-373 19 323 20 47 19 61 20-73 19 61 20-55 19-2 20 39 20-100 19 32 20 132 19-151 20 34 19 67 20 6 19-33 20-5 19 8 20-39 19 81 20-70 19 23 20 23 19-60 20-48 19 184 20-107 19-20 20 61 19-46 20 52 20-26 19 62 20-143 19 96 20-26 19 15 20-29 19 93 20-128 19 38 20 29 19-8 20 106 19-80 20 10 19-51 20 107 19-96 20-23 19-666 20 670 19 12 20 20 19 25 20-42 20-657 19 708 20 23 19-1 20-1073 19 1015 20 116 19-90 20-33 19 54 20-18 19-41 20 32 19-60 20-20 19 25 20 33 19-42 20 74 19-115 20 44 19 21 20 13 20-5 19 1 20 6 19 3 20-32 19 20 20-74 19 59 20 23 19 20 20 118 19-116 20 58 19 66 20-176 19-69 20 58 19 24 20 55 19-22 20 29 19 30 20-19 19-21 20 55 20 22 19-133 20 14 19-5 20-15 19 64 20-99 19 96 20-67 19 83 20 36 19-138 20-53 19-664 20 728 19 104 20-81 19-6 20 18 19 56 20-104 19 7 20 46 20 59 19-11 20 64 19-134 20 13 19 27 20-89 19 108 20 27 19 73 20-230 19 198 20-173 19 69 20 19 19-25 20 62 19-76 20 18 19-51 20 44 19 23 20-44 19 23 20-1 20 98 19-25 20-132 19 27 20 439 19-12 20 8 19 4 20-2 19-2 20 6 19-21 20 18 19 5 20-831 19 819 20 4 19 3 20 4 19 0 20 7 19-5 20 5 20-12 19-1 20 0 19 5 20 12 19-12 20-1 19 5 20-6 19-9 20-5 19 11 20-8 19 18 20 0 19-12 20 12 19-6 20-6 19 6 20-12 19 18 20-12 19 10 20-7 20 3 19-3 20-1 19 0 20-1 19 3 20-1 19-2 20 11 19-7 20-749 19 743 20-2 19 17 20 1 19-3 20-13 19 2 20 19 19-15 20-9 19 7 20 6 20 5 19-14 20-2 19-706 20 707 19 14 20 2 19-9 20-14 19 12 20 12 19-4 20-8 19 0 20-11 19 22 20-2 19 4 20-2 19-6 20-8 19 3 20-10 19 10 20 12 20-8 19-1 20 6 19-10 20-5 19 4 20 2 19-3 20 10 19 4 20 1 11-21 0 129 -11665 0z" fill="#7560a6" fill-opacity="0.1"/><path d="M14885 8047l19-6 20 17 19 31 20-103 19 51 20-3 19-2 20 79 19-52 20-39 20-20 19-63 20 71 19-28 20-124 19 26 20-55 19-5 20-58 19-31 20-896 19 784 20 180 19-989 20 898 19 4 20 55 19-1 20 81 19-126 20-86 19 65 20-24 20 139 19-72 20-67 19 65 20 40 19-3 20-3 19-63 20-8 19 15 20-824 19 859 20-23 19 59 20-83 19 44 20-95 19 120 20 24 19-15 20-130 19 106 20 162 19-170 20-21 20 72 19-55 20-84 19 13 20 65 19-15 20 60 19-125 20 87 19-59 20-27 19 118 20 2 19-65 20 12 19-16 20-10 19 99 20-4 19-20 20 10 19-39 20-7 20 72 19-105 20 68 19 37 20-76 19-95 20 16 19 75 20 11 19 12 20 125 19-186 20 48 19 48 20 18 19-169 20-573 19 574 20 58 19 60 20-96 19-12 20 67 19-24 20 138 20-3 19-66 20-29 19 87 20-10 19-69 20 60 19-88 20 5 19 160 20-104 19-149 20 85 19 23 20-17 19 21 20 53 19-115 20 108 19-24 20-130 19 169 20-52 20-82 19 66 20 5 19 43 20-46 19 32 20-47 19-9 20 72 19-50 20-21 19 87 20-167 19 75 20 110 19-86 20 88 19 8 20-71 19 47 20-78 19 38 20-23 19 60 20-21 20-74 19-13 20 65 19 71 20-36 19-17 20-75 19-8 20 133 19-137 20 126 19-104 20 0 19 27 20-35 19-821 20 868 19 35 20-9 19-24 20-23 19-8 20 93 20-65 19-63 20 87 19-64 20 110 19-198 20 152 19-112 20 196 19-170 20 92 19-43 20 22 19 33 20 6 19 18 20-82 19-55 20 39 19 98 20-156 19 67 20-71 19 65 20 68 20-85 19 53 20-34 19 46 20-21 19 39 20-4 19-10 20-38 19 119 20-30 19-89 20 38 19-17 20 63 19-94 20 111 19-308 20 192 19 48 20 15 19 36 20-65 20 105 19-141 20 108 19-5 20-120 19-4 20 53 19 79 20-133 19-38 20 69 19 145 20-87 19-12 20-59 19-888 20 955 19 74 20-69 19-50 20 72 19-75 20-39 19-40 20 25 20 38 19 1 20 67 19-73 20 58 19-101 20 144 19-25 20-44 19 26 20-66 19 45 20 6 19-106 20 114 19-18 20-139 19 80 20 92 19-78 20 110 19-110 20 35 20 71 19 3 20-15 19-81 20-61 19 59 20-47 19 118 20-72 19 16 20-17 19-32 20 119 19-11 20 66 19-147 20 115 19-54 20-28 19-22 20 48 19-729 20 731 19 1 20 8 20-15 19-71 20 62 19-116 20 116 19 22 20-16 19-6 20-21 19-46 20-40 19 108 20 48 19-32 20 23 19-847 20 820 19 70 20-38 19-74 20 52 19-150 20 152 20 31 19-24 20-57 19-6 20 82 19-99 20 45 19 16 20 14 19-40 20 31 19 1 20 30 19-49 20-41 19 21 20-373 19 323 20 47 19 61 20-73 19 61 20-55 19-2 20 39 20-100 19 32 20 132 19-151 20 34 19 67 20 6 19-33 20-5 19 8 20-39 19 81 20-70 19 23 20 23 19-60 20-48 19 184 20-107 19-20 20 61 19-46 20 52 20-26 19 62 20-143 19 96 20-26 19 15 20-29 19 93 20-128 19 38 20 29 19-8 20 106 19-80 20 10 19-51 20 107 19-96 20-23 19-666 20 670 19 12 20 20 19 25 20-42 20-657 19 708 20 23 19-1 20-1073 19 1015 20 116 19-90 20-33 19 54 20-18 19-41 20 32 19-60 20-20 19 25 20 33 19-42 20 74 19-115 20 44 19 21 20 13 20-5 19 1 20 6 19 3 20-32 19 20 20-74 19 59 20 23 19 20 20 118 19-116 20 58 19 66 20-176 19-69 20 58 19 24 20 55 19-22 20 29 19 30 20-19 19-21 20 55 20 22 19-133 20 14 19-5 20-15 19 64 20-99 19 96 20-67 19 83 20 36 19-138 20-53 19-664 20 728 19 104 20-81 19-6 20 18 19 56 20-104 19 7 20 46 20 59 19-11 20 64 19-134 20 13 19 27 20-89 19 108 20 27 19 73 20-230 19 198 20-173 19 69 20 19 19-25 20 62 19-76 20 18 19-51 20 44 19 23 20-44 19 23 20-1 20 98 19-25 20-132 19 27 20 439 19-12 20 8 19 4 20-2 19-2 20 6 19-21 20 18 19 5 20-831 19 819 20 4 19 3 20 4 19 0 20 7 19-5 20 5 20-12 19-1 20 0 19 5 20 12 19-12 20-1 19 5 20-6 19-9 20-5 19 11 20-8 19 18 20 0 19-12 20 12 19-6 20-6 19 6 20-12 19 18 20-12 19 10 20-7 20 3 19-3 20-1 19 0 20-1 19 3 20-1 19-2 20 11 19-7 20-749 19 743 20-2 19 17 20 1 19-3 20-13 19 2 20 19 19-15 20-9 19 7 20 6 20 5 19-14 20-2 19-706 20 707 19 14 20 2 19-9 20-14 19 12 20 12 19-4 20-8 19 0 20-11 19 22 20-2 19 4 20-2 19-6 20-8 19 3 20-10 19 10 20 12 20-8 19-1 20 6 19-10 20-5 19 4 20 2 19-3 20 10 19 4 20 1 11-21" fill="none" stroke="#7560a6" stroke-width="20"/></g>
<g transform="scale(0.1)" stroke-linejoin="round"><path d="M14885 8113l19-35 20-12 19 13 20 26 19-33 20-67 19 50 20-31 19 107 20-140 20-3 19 20 20-153 19 17 20-51 19-4 20-34 19 5 20-135 19-19 20-776 19 881 20-157 19-737 20 812 19 35 20 34 19-88 20 59 19-94 20 4 19 123 20-55 20 46 19-61 20 42 19 27 20-92 19 45 20-153 19 235 20-76 19 77 20-850 19 734 20-38 19 119 20-68 19 21 20 0 19-43 20 104 19-69 20-36 19 47 20 41 19-26 20 29 20-84 19 12 20 95 19 7 20-50 19 9 20-93 19 39 20 18 19-230 20 168 19 16 20 27 19 40 20 60 19-172 20 74 19-531 20 575 19-28 20-55 19 126 20-51 20 6 19-10 20-56 19 78 20-56 19 7 20 76 19-94 20 40 19 47 20-49 19-52 20 101 19-46 20-144 19 204 20-584 19 414 20 119 19-92 20 117 19-150 20 147 19-48 20 70 20-8 19-219 20 196 19-116 20 88 19 110 20-81 19-1 20-35 19 57 20-100 19 20 20 25 19 33 20-7 19-19 20 34 19-128 20 44 19 99 20-129 19 22 20 23 20-19 19 11 20 39 19 33 20-123 19 72 20 46 19-165 20 73 19 48 20 58 19 5 20-30 19-113 20 23 19 115 20-44 19-64 20 45 19-32 20 37 19-504 20 413 19 75 20-29 20 77 19-3 20-80 19 53 20-70 19 121 20 18 19 22 20-165 19 88 20-100 19 57 20 85 19 3 20-133 19-623 20 729 19-58 20 30 19 58 20-100 19 75 20 25 20-32 19-65 20 16 19-47 20-18 19 115 20 79 19-172 20 38 19 35 20-57 19 95 20-21 19-49 20 95 19-64 20 3 19-162 20 156 19-19 20 49 19-113 20 24 19 33 20 127 20 5 19-117 20-41 19 110 20-40 19 13 20-4 19 4 20-3 19-10 20-90 19 159 20-64 19 108 20-6 19-470 20 370 19 7 20-16 19-3 20-45 19 55 20 42 20-92 19-44 20-42 19 154 20-108 19 76 20 21 19 29 20-107 19-19 20-18 19 192 20-31 19-116 20 52 19-833 20 888 19-135 20 17 19 37 20-97 19 153 20-130 19 89 20-30 20 40 19 75 20-65 19-6 20 49 19-60 20 56 19-130 20 3 19 109 20-10 19-150 20 118 19 4 20 78 19-96 20 0 19-11 20-55 19 62 20 50 19 9 20-120 20 130 19 8 20-57 19-174 20 287 19-112 20-5 19 87 20-47 19-26 20 64 19-133 20-22 19 175 20 26 19-83 20-102 19 42 20-32 19 63 20-131 19-193 20 342 19-87 20 81 20-38 19-48 20 81 19-10 20-78 19 106 20 13 19-6 20 31 19 24 20-59 19-29 20 16 19-46 20-26 19-527 20 672 19-173 20 65 19 50 20-67 19 69 20-42 20 7 19 61 20-8 19-19 20-21 19-30 20 61 19-76 20-41 19 55 20-36 19 67 20 77 19-9 20-64 19 21 20-229 19 209 20-84 19 38 20-3 19-53 20 49 19 73 20-4 20-114 19 190 20-53 19 25 20-102 19-1 20-6 19 102 20-23 19 26 20-46 19-52 20-65 19 105 20-100 19-72 20 179 19-82 20 46 19-87 20 126 19-143 20 82 20 32 19 47 20 31 19-22 20-102 19-25 20 79 19 26 20-37 19 99 20-49 19-38 20-219 19 144 20 38 19 3 20 25 19 43 20-158 19-207 20 361 19-27 20-71 19 38 20-103 20-302 19 463 20-70 19 36 20-455 19 458 20-115 19 84 20 9 19-130 20-36 19 216 20-28 19-24 20 53 19-63 20-43 19 46 20-25 19 55 20-13 19 56 20-22 20-436 19 372 20 105 19-40 20-64 19 80 20-212 19 165 20 29 19 19 20-217 19 218 20-70 19 3 20 49 19-45 20-3 19-18 20 50 19 22 20-55 19 81 20 35 19-78 20-49 20 117 19-144 20 131 19-102 20 99 19-39 20-64 19 23 20 82 19-71 20-698 19 696 20 6 19-585 20 597 19 75 20-27 19-132 20 87 19-15 20 25 19 36 20-3 20-96 19-15 20 97 19 19 20-38 19-17 20-9 19-5 20-48 19 85 20-128 19 134 20 1 19-75 20-257 19 212 20 137 19-90 20-46 19 23 20 75 19-430 20 469 19 7 20-24 20-140 19 73 20-145 19-178 20 800 19-2 20 9 19 8 20-10 19-6 20 12 19-7 20 6 19 8 20-9 19-16 20 10 19 5 20-3 19 1 20-11 19-1 20-1 20 9 19-5 20-5 19 21 20-9 19-9 20 14 19 6 20-9 19-9 20-2 19 1 20 12 19 0 20 1 19-5 20 11 19-17 20-6 19 27 20-7 19 15 20-18 19-3 20-11 20-1 19 13 20-7 19 1 20 15 19-7 20-1 19-16 20 18 19-14 20 4 19 14 20 0 19-10 20-4 19 15 20-1 19-1 20-11 19 12 20-11 19 11 20-4 20-8 19 2 20-3 19 8 20-15 19 18 20-20 19 4 20 6 19-2 20 6 19-4 20 19 19-22 20-1 19 6 20 1 19-9 20 6 19 21 20-15 19-9 20-6 19 18 20-13 20 13 19-3 20 1 19-6 20-7 19 3 20 1 19 1 20-3 19 4 20 2 11 10 0 122 -11665 0z" fill="#5f9b4f" fill-opacity="0.1"/><path d="M14885 8113l19-35 20-12 19 13 20 26 19-33 20-67 19 50 20-31 19 107 20-140 20-3 19 20 20-153 19 17 20-51 19-4 20-34 19 5 20-135 19-19 20-776 19 881 20-157 19-737 20 812 19 35 20 34 19-88 20 59 19-94 20 4 19 123 20-55 20 46 19-61 20 42 19 27 20-92 19 45 20-153 19 235 20-76 19 77 20-850 19 734 20-38 19 119 20-68 19 21 20 0 19-43 20 104 19-69 20-36 19 47 20 41 19-26 20 29 20-84 19 12 20 95 19 7 20-50 19 9 20-93 19 39 20 18 19-230 20 168 19 16 20 27 19 40 20 60 19-172 20 74 19-531 20 575 19-28 20-55 19 126 20-51 20 6 19-10 20-56 19 78 20-56 19 7 20 76 19-94 20 40 19 47 20-49 19-52 20 101 19-46 20-144 19 204 20-584 19 414 20 119 19-92 20 117 19-150 20 147 19-48 20 70 20-8 19-219 20 196 19-116 20 88 19 110 20-81 19-1 20-35 19 57 20-100 19 20 20 25 19 33 20-7 19-19 20 34 19-128 20 44 19 99 20-129 19 22 20 23 20-19 19 11 20 39 19 33 20-123 19 72 20 46 19-165 20 73 19 48 20 58 19 5 20-30 19-113 20 23 19 115 20-44 19-64 20 45 19-32 20 37 19-504 20 413 19 75 20-29 20 77 19-3 20-80 19 53 20-70 19 121 20 18 19 22 20-165 19 88 20-100 19 57 20 85 19 3 20-133 19-623 20 729 19-58 20 30 19 58 20-100 19 75 20 25 20-32 19-65 20 16 19-47 20-18 19 115 20 79 19-172 20 38 19 35 20-57 19 95 20-21 19-49 20 95 19-64 20 3 19-162 20 156 19-19 20 49 19-113 20 24 19 33 20 127 20 5 19-117 20-41 19 110 20-40 19 13 20-4 19 4 20-3 19-10 20-90 19 159 20-64 19 108 20-6 19-470 20 370 19 7 20-16 19-3 20-45 19 55 20 42 20-92 19-44 20-42 19 154 20-108 19 76 20 21 19 29 20-107 19-19 20-18 19 192 20-31 19-116 20 52 19-833 20 888 19-135 20 17 19 37 20-97 19 153 20-130 19 89 20-30 20 40 19 75 20-65 19-6 20 49 19-60 20 56 19-130 20 3 19 109 20-10 19-150 20 118 19 4 20 78 19-96 20 0 19-11 20-55 19 62 20 50 19 9 20-120 20 130 19 8 20-57 19-174 20 287 19-112 20-5 19 87 20-47 19-26 20 64 19-133 20-22 19 175 20 26 19-83 20-102 19 42 20-32 19 63 20-131 19-193 20 342 19-87 20 81 20-38 19-48 20 81 19-10 20-78 19 106 20 13 19-6 20 31 19 24 20-59 19-29 20 16 19-46 20-26 19-527 20 672 19-173 20 65 19 50 20-67 19 69 20-42 20 7 19 61 20-8 19-19 20-21 19-30 20 61 19-76 20-41 19 55 20-36 19 67 20 77 19-9 20-64 19 21 20-229 19 209 20-84 19 38 20-3 19-53 20 49 19 73 20-4 20-114 19 190 20-53 19 25 20-102 19-1 20-6 19 102 20-23 19 26 20-46 19-52 20-65 19 105 20-100 19-72 20 179 19-82 20 46 19-87 20 126 19-143 20 82 20 32 19 47 20 31 19-22 20-102 19-25 20 79 19 26 20-37 19 99 20-49 19-38 20-219 19 144 20 38 19 3 20 25 19 43 20-158 19-207 20 361 19-27 20-71 19 38 20-103 20-302 19 463 20-70 19 36 20-455 19 458 20-115 19 84 20 9 19-130 20-36 19 216 20-28 19-24 20 53 19-63 20-43 19 46 20-25 19 55 20-13 19 56 20-22 20-436 19 372 20 105 19-40 20-64 19 80 20-212 19 165 20 29 19 19 20-217 19 218 20-70 19 3 20 49 19-45 20-3 19-18 20 50 19 22 20-55 19 81 20 35 19-78 20-49 20 117 19-144 20 131 19-102 20 99 19-39 20-64 19 23 20 82 19-71 20-698 19 696 20 6 19-585 20 597 19 75 20-27 19-132 20 87 19-15 20 25 19 36 20-3 20-96 19-15 20 97 19 19 20-38 19-17 20-9 19-5 20-48 19 85 20-128 19 134 20 1 19-75 20-257 19 212 20 137 19-90 20-46 19 23 20 75 19-430 20 469 19 7 20-24 20-140 19 73 20-145 19-178 20 800 19-2 20 9 19 8 20-10 19-6 20 12 19-7 20 6 19 8 20-9 19-16 20 10 19 5 20-3 19 1 20-11 19-1 20-1 20 9 19-5 20-5 19 21 20-9 19-9 20 14 19 6 20-9 19-9 20-2 19 1 20 12 19 0 20 1 19-5 20 11 19-17 20-6 19 27 20-7 19 15 20-18 19-3 20-11 20-1 19 13 20-7 19 1 20 15 19-7 20-1 19-16 20 18 19-14 20 4 19 14 20 0 19-10 20-4 19 15 20-1 19-1 20-11 19 12 20-11 19 11 20-4 20-8 19 2 20-3 19 8 20-15 19 18 20-20 19 4 20 6 19-2 20 6 19-4 20 19 19-22 20-1 19 6 20 1 19-9 20 6 19 21 20-15 19-9 20-6 19 18 20-13 20 13 19-3 20 1 19-6 20-7 19 3 20 1 19 1 20-3 19 4 20 2 11 10" fill="none" stroke="#5f9b4f" stroke-width="20"/></g>
<g transform="scale(0.1)" stroke-linejoin="round"><path d="M14885 8085l19 66 20 16 19-33 20-117 19 170 20-110 19 72 20-107 19-9 20 176 20-30 19-63 20-3 19 17 20-218 19 46 20-62 19-127 20 40 19 27 20-58 19 190 20-144 19 118 20-153 19-242 20 629 19-263 20-354 19 114 20 204 19 60 20-165 20 154 19 82 20 62 19-77 20-218 19-47 20 206 19 27 20-39 19 38 20-90 19-13 20 198 19-49 20-407 19 146 20 272 19-10 20-1 19-127 20 23 19-140 20 307 19-129 20-2 20-87 19-171 20 109 19 220 20-60 19 24 20-103 19 188 20-199 19-21 20-28 19 141 20 116 19 15 20-243 19 110 20-13 19 29 20-66 19-284 20 223 19 193 20-93 20-10 19-125 20 65 19-35 20 226 19-195 20 293 19-306 20 85 19-70 20-9 19 56 20-153 19 1 20 91 19-19 20 0 19 36 20 22 19 102 20 52 19-181 20 76 19 17 20-70 20-1 19-59 20-43 19 151 20-33 19 56 20-91 19 95 20-28 19 10 20-36 19-6 20 99 19-84 20-11 19 39 20-68 19 182 20-142 19 0 20-45 19-80 20-71 20-6 19 238 20 7 19-18 20-179 19 129 20-217 19 312 20 28 19 11 20-307 19 171 20-35 19-176 20 268 19 20 20-55 19-28 20 195 19-183 20-106 19 276 20-295 19 118 20-39 20-945 19 986 20-115 19 145 20-168 19-26 20 107 19-95 20 351 19-105 20 122 19-123 20-248 19 107 20 118 19-197 20 327 19-117 20-105 19 137 20-99 19-24 20 95 20-154 19-43 20 6 19-251 20 176 19-2 20 195 19 39 20-33 19 186 20 61 19-249 20-22 19 172 20-239 19 152 20-32 19 63 20-155 19 111 20-182 19 93 20 23 19 19 20 198 20-263 19-152 20 83 19 66 20-61 19 260 20-213 19-13 20 73 19-201 20 216 19 84 20-78 19 141 20-125 19 96 20 62 19-110 20-8 19 24 20 83 19-86 20-81 20 218 19-172 20 182 19-217 20 46 19-6 20 40 19-68 20 143 19-63 20-199 19-91 20 139 19-81 20 79 19 149 20-240 19 173 20-19 19 19 20-157 19 113 20-115 19-32 20-100 20 67 19 205 20-81 19 157 20-35 19-39 20 41 19 67 20-62 19-14 20 9 19 10 20-157 19 184 20-200 19 232 20-137 19-54 20-403 19 332 20 125 19 85 20-139 20 92 19-54 20 125 19-203 20-6 19 74 20-5 19-68 20 214 19-128 20-29 19-8 20-64 19 326 20-260 19 103 20 136 19-181 20 33 19-20 20-3 19 7 20 23 19-78 20-49 20 176 19-89 20 121 19-27 20-186 19 94 20 41 19-102 20 69 19 38 20 32 19 207 20-193 19-74 20 102 19-106 20-53 19-213 20 25 19 20 20 387 19-89 20-151 20 213 19 79 20-144 19-117 20 124 19-106 20-40 19 91 20-12 19-172 20 132 19 115 20 67 19-289 20 178 19-104 20 109 19-69 20 57 19 10 20-132 19 116 20-58 19 90 20-110 20 207 19-77 20-163 19 33 20-19 19-30 20 151 19-332 20 392 19-204 20-150 19 340 20-189 19-188 20 134 19 331 20-444 19 202 20 2 19 161 20-34 19 8 20-208 20 195 19-44 20 10 19-130 20-27 19 93 20-156 19 145 20-26 19 168 20 177 19-288 20 75 19-208 20 282 19-195 20 10 19 40 20 86 19-59 20-77 19 83 20-28 19-144 20-71 20 7 19 251 20 24 19 94 20-128 19-47 20 35 19-53 20 108 19-19 20-203 19 234 20 225 19-389 20 216 19-321 20 177 19-27 20 80 19-59 20-108 19 117 20 58 20-109 19-14 20 6 19 8 20-118 19 100 20 125 19-170 20 95 19 6 20 100 19-150 20 101 19-141 20 211 19-62 20-164 19 102 20 59 19 76 20-45 19-181 20-44 19-32 20 150 20 237 19-262 20 6 19 207 20-212 19 19 20 52 19-117 20-38 19 162 20 73 19-196 20 43 19-24 20 224 19-18 20-911 19 834 20-108 19 63 20-27 19-18 20 69 20-13 19-29 20-187 19 170 20-58 19 136 20-59 19-4 20 9 19 209 20-53 19-114 20-92 19 32 20 132 19-11 20-21 19-192 20 136 19-253 20 218 19-142 20 160 19-24 20 61 20-1 19 150 20-230 19-20 20 321 19 19 20-23 19 6 20 12 19-8 20 0 19-8 20 2 19 20 20-3 19-14 20-13 19 15 20 18 19-28 20 16 19-10 20-8 20 18 19-13 20 11 19-7 20-13 19 30 20-13 19-2 20-24 19 34 20-8 19 2 20 6 19-9 20-11 19 18 20-18 19 5 20 18 19-13 20 1 19-2 20 5 19-1 20 2 20 8 19-1 20-20 19 12 20-12 19 3 20 9 19-1 20-12 19 19 20-10 19 17 20-32 19 5 20 21 19-11 20 3 19-3 20-21 19 21 20 2 19 0 20 6 20 11 19 3 20-4 19-11 20-3 19 6 20-15 19 22 20-4 19-14 20 15 19-21 20 0 19 10 20 0 19-12 20 1 19 2 20 0 19 0 20 16 19-14 20 17 19-28 20 20 20 3 19 16 20-34 19 24 20 3 19-5 20-4 19-13 20 4 19 3 20-18 11 15 0 93 -11665 0z" fill="#4c8dc9" fill-opacity="0.1"/><path d="M14885 8085l19 66 20 16 19-33 20-117 19 170 20-110 19 72 20-107 19-9 20 176 20-30 19-63 20-3 19 17 20-218 19 46 20-62 19-127 20 40 19 27 20-58 19 190 20-144 19 118 20-153 19-242 20 629 19-263 20-354 19 114 20 204 19 60 20-165 20 154 19 82 20 62 19-77 20-218 19-47 20 206 19 27 20-39 19 38 20-90 19-13 20 198 19-49 20-407 19 146 20 272 19-10 20-1 19-127 20 23 19-140 20 307 19-129 20-2 20-87 19-171 20 109 19 220 20-60 19 24 20-103 19 188 20-199 19-21 20-28 19 141 20 116 19 15 20-243 19 110 20-13 19 29 20-66 19-284 20 223 19 193 20-93 20-10 19-125 20 65 19-35 20 226 19-195 20 293 19-306 20 85 19-70 20-9 19 56 20-153 19 1 20 91 19-19 20 0 19 36 20 22 19 102 20 52 19-181 20 76 19 17 20-70 20-1 19-59 20-43 19 151 20-33 19 56 20-91 19 95 20-28 19 10 20-36 19-6 20 99 19-84 20-11 19 39 20-68 19 182 20-142 19 0 20-45 19-80 20-71 20-6 19 238 20 7 19-18 20-179 19 129 20-217 19 312 20 28 19 11 20-307 19 171 20-35 19-176 20 268 19 20 20-55 19-28 20 195 19-183 20-106 19 276 20-295 19 118 20-39 20-945 19 986 20-115 19 145 20-168 19-26 20 107 19-95 20 351 19-105 20 122 19-123 20-248 19 107 20 118 19-197 20 327 19-117 20-105 19 137 20-99 19-24 20 95 20-154 19-43 20 6 19-251 20 176 19-2 20 195 19 39 20-33 19 186 20 61 19-249 20-22 19 172 20-239 19 152 20-32 19 63 20-155 19 111 20-182 19 93 20 23 19 19 20 198 20-263 19-152 20 83 19 66 20-61 19 260 20-213 19-13 20 73 19-201 20 216 19 84 20-78 19 141 20-125 19 96 20 62 19-110 20-8 19 24 20 83 19-86 20-81 20 218 19-172 20 182 19-217 20 46 19-6 20 40 19-68 20 143 19-63 20-199 19-91 20 139 19-81 20 79 19 149 20-240 19 173 20-19 19 19 20-157 19 113 20-115 19-32 20-100 20 67 19 205 20-81 19 157 20-35 19-39 20 41 19 67 20-62 19-14 20 9 19 10 20-157 19 184 20-200 19 232 20-137 19-54 20-403 19 332 20 125 19 85 20-139 20 92 19-54 20 125 19-203 20-6 19 74 20-5 19-68 20 214 19-128 20-29 19-8 20-64 19 326 20-260 19 103 20 136 19-181 20 33 19-20 20-3 19 7 20 23 19-78 20-49 20 176 19-89 20 121 19-27 20-186 19 94 20 41 19-102 20 69 19 38 20 32 19 207 20-193 19-74 20 102 19-106 20-53 19-213 20 25 19 20 20 387 19-89 20-151 20 213 19 79 20-144 19-117 20 124 19-106 20-40 19 91 20-12 19-172 20 132 19 115 20 67 19-289 20 178 19-104 20 109 19-69 20 57 19 10 20-132 19 116 20-58 19 90 20-110 20 207 19-77 20-163 19 33 20-19 19-30 20 151 19-332 20 392 19-204 20-150 19 340 20-189 19-188 20 134 19 331 20-444 19 202 20 2 19 161 20-34 19 8 20-208 20 195 19-44 20 10 19-130 20-27 19 93 20-156 19 145 20-26 19 168 20 177 19-288 20 75 19-208 20 282 19-195 20 10 19 40 20 86 19-59 20-77 19 83 20-28 19-144 20-71 20 7 19 251 20 24 19 94 20-128 19-47 20 35 19-53 20 108 19-19 20-203 19 234 20 225 19-389 20 216 19-321 20 177 19-27 20 80 19-59 20-108 19 117 20 58 20-109 19-14 20 6 19 8 20-118 19 100 20 125 19-170 20 95 19 6 20 100 19-150 20 101 19-141 20 211 19-62 20-164 19 102 20 59 19 76 20-45 19-181 20-44 19-32 20 150 20 237 19-262 20 6 19 207 20-212 19 19 20 52 19-117 20-38 19 162 20 73 19-196 20 43 19-24 20 224 19-18 20-911 19 834 20-108 19 63 20-27 19-18 20 69 20-13 19-29 20-187 19 170 20-58 19 136 20-59 19-4 20 9 19 209 20-53 19-114 20-92 19 32 20 132 19-11 20-21 19-192 20 136 19-253 20 218 19-142 20 160 19-24 20 61 20-1 19 150 20-230 19-20 20 321 19 19 20-23 19 6 20 12 19-8 20 0 19-8 20 2 19 20 20-3 19-14 20-13 19 15 20 18 19-28 20 16 19-10 20-8 20 18 19-13 20 11 19-7 20-13 19 30 20-13 19-2 20-24 19 34 20-8 19 2 20 6 19-9 20-11 19 18 20-18 19 5 20 18 19-13 20 1 19-2 20 5 19-1 20 2 20 8 19-1 20-20 19 12 20-12 19 3 20 9 19-1 20-12 19 19 20-10 19 17 20-32 19 5 20 21 19-11 20 3 19-3 20-21 19 21 20 2 19 0 20 6 20 11 19 3 20-4 19-11 20-3 19 6 20-15 19 22 20-4 19-14 20 15 19-21 20 0 19 10 20 0 19-12 20 1 19 2 20 0 19 0 20 16 19-14 20 17 19-28 20 20 20 3 19 16 20-34 19 24 20 3 19-5 20-4 19-13 20 4 19 3 20-18 11 15" fill="none" stroke="#4c8dc9" stroke-width="22.0"/></g>
<g transform="scale(0.1)" stroke-linejoin="round"><path d="M14885 8208l19 5 20-3 19-6 20-6 19 8 20-3 19-6 20 8 19 2 20 1 20-2 19 1 20-11 19 1 20-6 19-6 20-15 19 3 20 1 19 4 20-12 19 1 20-11 19 3 20 2 19-23 20-4 19 2 20 2 19 9 20 0 19-21 20 17 20 3 19-1 20-3 19 0 20-13 19 13 20 0 19 4 20 8 19-9 20 5 19-14 20 1 19 10 20 5 19-5 20-11 19 9 20-5 19 20 20-10 19-5 20 0 19 3 20-13 20 16 19-3 20 4 19-5 20-4 19-1 20 5 19 7 20-4 19-17 20 21 19-16 20-10 19 23 20 2 19-11 20-3 19 5 20 1 19-7 20 11 19 10 20-5 20-106 19 93 20-15 19 23 20-10 19 5 20 4 19-14 20 4 19 12 20 4 19-11 20-14 19 14 20 8 19-17 20-5 19 25 20-6 19 3 20 7 19-7 20 0 19 10 20-22 20 5 19-1 20-1 19 0 20 15 19-5 20-18 19 1 20-1 19 7 20 7 19 3 20-15 19-4 20 22 19 3 20-9 19-1 20-7 19 1 20 19 19-18 20 12 20-9 19 5 20-5 19-1 20-64 19 67 20-6 19-2 20 9 19-4 20 1 19 0 20 0 19-4 20 1 19-9 20 15 19-7 20 4 19 4 20 4 19-15 20 7 19-8 20 14 20-7 19 5 20-13 19 17 20-4 19-2 20 5 19-3 20 13 19-21 20-4 19 5 20 9 19 0 20-16 19 6 20 10 19-1 20-3 19 11 20-10 19-13 20-8 20 10 19 3 20 7 19-3 20-5 19 10 20 9 19-8 20 4 19-6 20-9 19-6 20-66 19 59 20 21 19-3 20-11 19 4 20-14 19 20 20-12 19 11 20 7 19 7 20-9 20-5 19 32 20-31 19 20 20-21 19 3 20-1 19 5 20-8 19 3 20-6 19 6 20 7 19-3 20-1 19 0 20 3 19 7 20-12 19 4 20-6 19 2 20 9 20-13 19 1 20-9 19 11 20-15 19 21 20-22 19 14 20 7 19 7 20-6 19 3 20-6 19 10 20-4 19-9 20 8 19-10 20 0 19-4 20 8 19 5 20-3 19-5 20 0 20 3 19 2 20-5 19 17 20-29 19 13 20 10 19-8 20-11 19 16 20-11 19 2 20-2 19 12 20-1 19-10 20 9 19-13 20 4 19-8 20 0 19 13 20-2 20 4 19-8 20 5 19-5 20 13 19-15 20 24 19-13 20-16 19-1 20 19 19 11 20-11 19 2 20-11 19-1 20 13 19-1 20-1 19-10 20 1 19 9 20-1 19-13 20 4 20-8 19-3 20 10 19 10 20 15 19-28 20 24 19-21 20 0 19 2 20-2 19 17 20-17 19-4 20 6 19 5 20-7 19 13 20-1 19-22 20 18 19-19 20 9 20 12 19-7 20 16 19-8 20-5 19-7 20 8 19 14 20-21 19 16 20 0 19-14 20 11 19-8 20-17 19 23 20 3 19 8 20-21 19 8 20 4 19 0 20-12 19-9 20 3 20 4 19 12 20 1 19-25 20 2 19 17 20-15 19 24 20-11 19-1 20 5 19-4 20-7 19 21 20-9 19-9 20 8 19 3 20-2 19 3 20 3 19-5 20-4 20-13 19 4 20 26 19-9 20-1 19-8 20-9 19 8 20 2 19 3 20-6 19 0 20-4 19 1 20 9 19 17 20-14 19-13 20 3 19 9 20-2 19-4 20 2 19-15 20 12 20-24 19 8 20 20 19-7 20 2 19 0 20 8 19-14 20 13 19-14 20 9 19-2 20 3 19 1 20-16 19 19 20-5 19 8 20-15 19 7 20 7 19-6 20-10 20-10 19 29 20-6 19-16 20 7 19 8 20 7 19-5 20-2 19 2 20 0 19-8 20 6 19 5 20-5 19 0 20-3 19 9 20-8 19 22 20-15 19-14 20 11 19 0 20-2 20-4 19-17 20 18 19 2 20-3 19 6 20-8 19 10 20-5 19-8 20 8 19-1 20 10 19-10 20-7 19 10 20-5 19-8 20 13 19-9 20 10 19-2 20 1 20-9 19 4 20 7 19-18 20-1 19-1 20 4 19 8 20 5 19-12 20 28 19-26 20 8 19-11 20 14 19-11 20-6 19 9 20 11 19 4 20-13 19-3 20 2 19-3 20-8 20 3 19 13 20 9 19-1 20 16 19 6 20-12 19 15 20 3 19 1 20-10 19 3 20-4 19 1 20 2 19 12 20-18 19 14 20 1 19-4 20-12 19 9 20-9 20-2 19 17 20-7 19 6 20-4 19 11 20-9 19 0 20-12 19 3 20-6 19 23 20-14 19-11 20 13 19 11 20-16 19 4 20-3 19 11 20-21 19 7 20 1 19-5 20 12 20 3 19-2 20-1 19-14 20 1 19 11 20 11 19-9 20-4 19-5 20 3 19 6 20-1 19-13 20-8 19 10 20 2 19-6 20 15 19-1 20-1 19-6 20 14 20-1 19-8 20 1 19-13 20 17 19 6 20-10 19 14 20-5 19 4 20-5 19-2 20-5 19-5 20 2 19-8 20 6 19-8 20 19 19-12 20 19 19-13 20-3 19 14 20-9 20-1 19-2 20-2 19-1 20 4 19 5 20-14 19 10 20-11 19 20 20-21 11 15 0 94 -11665 0z" fill="#2a7fc6" fill-opacity="0.1"/><path d="M14885 8208l19 5 20-3 19-6 20-6 19 8 20-3 19-6 20 8 19 2 20 1 20-2 19 1 20-11 19 1 20-6 19-6 20-15 19 3 20 1 19 4 20-12 19 1 20-11 19 3 20 2 19-23 20-4 19 2 20 2 19 9 20 0 19-21 20 17 20 3 19-1 20-3 19 0 20-13 19 13 20 0 19 4 20 8 19-9 20 5 19-14 20 1 19 10 20 5 19-5 20-11 19 9 20-5 19 20 20-10 19-5 20 0 19 3 20-13 20 16 19-3 20 4 19-5 20-4 19-1 20 5 19 7 20-4 19-17 20 21 19-16 20-10 19 23 20 2 19-11 20-3 19 5 20 1 19-7 20 11 19 10 20-5 20-106 19 93 20-15 19 23 20-10 19 5 20 4 19-14 20 4 19 12 20 4 19-11 20-14 19 14 20 8 19-17 20-5 19 25 20-6 19 3 20 7 19-7 20 0 19 10 20-22 20 5 19-1 20-1 19 0 20 15 19-5 20-18 19 1 20-1 19 7 20 7 19 3 20-15 19-4 20 22 19 3 20-9 19-1 20-7 19 1 20 19 19-18 20 12 20-9 19 5 20-5 19-1 20-64 19 67 20-6 19-2 20 9 19-4 20 1 19 0 20 0 19-4 20 1 19-9 20 15 19-7 20 4 19 4 20 4 19-15 20 7 19-8 20 14 20-7 19 5 20-13 19 17 20-4 19-2 20 5 19-3 20 13 19-21 20-4 19 5 20 9 19 0 20-16 19 6 20 10 19-1 20-3 19 11 20-10 19-13 20-8 20 10 19 3 20 7 19-3 20-5 19 10 20 9 19-8 20 4 19-6 20-9 19-6 20-66 19 59 20 21 19-3 20-11 19 4 20-14 19 20 20-12 19 11 20 7 19 7 20-9 20-5 19 32 20-31 19 20 20-21 19 3 20-1 19 5 20-8 19 3 20-6 19 6 20 7 19-3 20-1 19 0 20 3 19 7 20-12 19 4 20-6 19 2 20 9 20-13 19 1 20-9 19 11 20-15 19 21 20-22 19 14 20 7 19 7 20-6 19 3 20-6 19 10 20-4 19-9 20 8 19-10 20 0 19-4 20 8 19 5 20-3 19-5 20 0 20 3 19 2 20-5 19 17 20-29 19 13 20 10 19-8 20-11 19 16 20-11 19 2 20-2 19 12 20-1 19-10 20 9 19-13 20 4 19-8 20 0 19 13 20-2 20 4 19-8 20 5 19-5 20 13 19-15 20 24 19-13 20-16 19-1 20 19 19 11 20-11 19 2 20-11 19-1 20 13 19-1 20-1 19-10 20 1 19 9 20-1 19-13 20 4 20-8 19-3 20 10 19 10 20 15 19-28 20 24 19-21 20 0 19 2 20-2 19 17 20-17 19-4 20 6 19 5 20-7 19 13 20-1 19-22 20 18 19-19 20 9 20 12 19-7 20 16 19-8 20-5 19-7 20 8 19 14 20-21 19 16 20 0 19-14 20 11 19-8 20-17 19 23 20 3 19 8 20-21 19 8 20 4 19 0 20-12 19-9 20 3 20 4 19 12 20 1 19-25 20 2 19 17 20-15 19 24 20-11 19-1 20 5 19-4 20-7 19 21 20-9 19-9 20 8 19 3 20-2 19 3 20 3 19-5 20-4 20-13 19 4 20 26 19-9 20-1 19-8 20-9 19 8 20 2 19 3 20-6 19 0 20-4 19 1 20 9 19 17 20-14 19-13 20 3 19 9 20-2 19-4 20 2 19-15 20 12 20-24 19 8 20 20 19-7 20 2 19 0 20 8 19-14 20 13 19-14 20 9 19-2 20 3 19 1 20-16 19 19 20-5 19 8 20-15 19 7 20 7 19-6 20-10 20-10 19 29 20-6 19-16 20 7 19 8 20 7 19-5 20-2 19 2 20 0 19-8 20 6 19 5 20-5 19 0 20-3 19 9 20-8 19 22 20-15 19-14 20 11 19 0 20-2 20-4 19-17 20 18 19 2 20-3 19 6 20-8 19 10 20-5 19-8 20 8 19-1 20 10 19-10 20-7 19 10 20-5 19-8 20 13 19-9 20 10 19-2 20 1 20-9 19 4 20 7 19-18 20-1 19-1 20 4 19 8 20 5 19-12 20 28 19-26 20 8 19-11 20 14 19-11 20-6 19 9 20 11 19 4 20-13 19-3 20 2 19-3 20-8 20 3 19 13 20 9 19-1 20 16 19 6 20-12 19 15 20 3 19 1 20-10 19 3 20-4 19 1 20 2 19 12 20-18 19 14 20 1 19-4 20-12 19 9 20-9 20-2 19 17 20-7 19 6 20-4 19 11 20-9 19 0 20-12 19 3 20-6 19 23 20-14 19-11 20 13 19 11 20-16 19 4 20-3 19 11 20-21 19 7 20 1 19-5 20 12 20 3 19-2 20-1 19-14 20 1 19 11 20 11 19-9 20-4 19-5 20 3 19 6 20-1 19-13 20-8 19 10 20 2 19-6 20 15 19-1 20-1 19-6 20 14 20-1 19-8 20 1 19-13 20 17 19 6 20-10 19 14 20-5 19 4 20-5 19-2 20-5 19-5 20 2 19-8 20 6 19-8 20 19 19-12 20 19 19-13 20-3 19 14 20-9 20-1 19-2 20-2 19-1 20 4 19 5 20-14 19 10 20-11 19 20 20-21 11 15" fill="none" stroke="#2a7fc6" stroke-width="20"/></g>
<g transform="scale(0.1)" stroke-linejoin="round"><path d="M14885 8218l19 2 20-1 19 0 20-13 19 11 20-3 19-2 20 1 19-1 20-5 20-1 19 4 20-7 19-6 20-3 19 1 20 1 19-13 20 0 19-8 20 1 19-6 20 8 19-579 20 286 19 279 20-1 19 2 20-5 19 7 20-1 19-7 20-3 20 6 19 3 20-1 19 2 20 0 19-2 20-3 19 2 20 0 19 14 20-16 19 0 20 0 19 6 20 14 19-18 20 2 19-9 20 10 19-10 20 14 19-1 20-8 19 7 20-9 20 3 19 4 20-11 19 0 20 3 19 13 20-14 19 5 20-16 19 14 20-12 19 10 20-2 19 10 20-1 19-8 20 1 19 5 20-1 19-3 20-7 19 5 20 1 20 12 19-7 20-2 19-2 20-2 19-2 20 3 19 5 20-10 19 9 20-3 19-10 20 7 19 7 20-9 19-3 20 9 19 1 20-4 19 3 20 1 19 2 20 3 19 2 20-16 20 5 19-6 20 7 19-4 20 5 19-8 20 19 19-4 20-1 19-1 20 0 19-8 20 13 19 1 20-5 19-6 20 2 19-4 20 8 19-12 20 8 19-8 20 5 20 8 19 4 20-9 19 3 20-1 19 5 20-12 19 6 20 0 19-7 20 17 19-21 20 6 19 7 20-7 19 4 20-2 19-1 20 8 19-1 20-2 19-3 20-5 19 5 20-9 20 10 19 3 20 10 19-9 20-4 19-2 20-8 19 11 20 3 19-5 20 8 19-18 20 8 19 10 20-3 19 3 20-11 19 8 20 2 19-8 20 3 19-4 20-1 20 8 19-8 20 2 19 9 20-9 19-10 20-1 19 10 20-8 19 7 20 4 19 1 20-11 19-1 20 10 19-12 20 4 19 7 20 3 19-4 20 5 19 7 20-8 19-3 20-4 20 0 19-4 20 17 19-12 20 11 19-9 20-1 19 11 20-6 19-10 20 17 19-14 20-4 19 12 20-1 19-10 20 3 19 14 20-7 19 2 20 0 19 1 20 2 20-6 19-2 20 1 19-3 20 3 19 5 20 1 19-1 20-9 19-1 20-7 19 12 20 3 19 0 20-7 19 0 20-4 19 7 20 6 19-3 20 2 19-13 20 9 19-6 20 14 20-12 19 0 20-6 19 7 20 5 19 1 20-3 19 0 20-18 19 9 20 10 19-10 20 17 19-10 20 6 19-12 20 9 19-10 20 7 19 0 20-2 19 11 20-16 20 6 19-4 20 4 19 11 20-18 19 5 20 3 19 8 20-9 19-10 20 8 19 7 20-11 19 8 20 2 19-6 20 3 19 13 20-3 19 0 20-2 19-5 20 4 19-3 20-9 20 7 19-3 20 8 19-1 20-4 19 7 20-2 19-7 20 12 19 4 20-10 19 3 20-3 19 5 20-4 19 5 20-1 19-3 20-7 19-6 20 10 19 3 20 2 20-10 19-5 20 18 19-9 20 2 19-2 20 9 19-8 20 2 19-2 20-8 19 6 20-13 19 7 20 6 19-4 20 11 19-6 20-4 19 1 20 0 19 5 20-4 19 0 20-2 20-13 19 6 20 14 19 2 20-6 19-6 20 15 19-6 20 0 19-5 20 6 19 3 20-3 19-14 20 18 19-10 20 3 19-10 20-2 19 10 20-3 19 4 20 5 20 3 19-23 20 18 19-7 20 5 19 11 20-11 19-10 20 5 19-1 20 1 19 3 20-5 19 4 20-7 19-8 20 28 19-2 20-15 19 12 20-3 19-3 20-2 19 7 20-14 20 26 19-24 20 8 19-5 20-6 19 13 20-13 19 6 20 16 19-23 20 14 19-8 20 5 19 7 20 2 19-6 20 4 19-11 20 10 19-11 20 5 19 3 20-6 20-3 19 3 20 2 19-17 20 19 19-3 20 6 19 0 20-8 19 0 20 15 19-17 20 11 19-8 20 4 19 0 20 0 19-1 20 6 19-5 20-8 19 11 20-5 19-4 20 14 20-17 19 7 20-13 19 9 20 4 19 4 20-6 19 1 20-8 19 5 20 3 19 13 20-12 19 9 20-13 19 6 20-4 19 2 20 11 19-8 20 11 19-6 20 0 20-10 19 4 20-8 19-3 20 8 19-4 20 1 19 16 20-9 19-6 20 4 19-7 20 4 19-4 20 7 19-15 20 21 19-1 20 4 19-6 20-3 19 3 20-9 19 9 20-11 20-2 19 11 20-6 19-6 20 47 19-7 20-1 19-2 20-2 19 12 20-8 19 6 20-16 19 8 20-6 19 9 20 0 19 7 20-8 19 8 20 6 19 0 20-13 20-1 19 9 20 3 19-13 20 2 19-6 20-1 19 3 20 16 19-8 20 1 19 9 20-6 19-14 20 2 19 9 20 2 19 0 20-3 19-12 20 8 19-4 20 0 19 16 20-2 20-7 19-13 20 2 19 8 20 4 19-13 20 12 19 2 20 3 19-12 20 9 19-8 20-3 19 7 20 10 19-9 20 1 19 6 20-2 19 4 20-11 19 5 20 1 20 4 19-10 20 16 19-1 20-14 19-5 20-2 19-1 20 3 19 5 20 2 19 7 20-12 19 8 20-6 19 0 20 6 19-14 20 14 19 1 20-2 19-6 20 0 19-3 20 6 20 3 19 4 20-4 19 10 20-23 19 24 20-13 19-17 20 8 19 5 20 5 11-1 0 82 -11665 0z" fill="#69c4d2" fill-opacity="0.1"/><path d="M14885 8218l19 2 20-1 19 0 20-13 19 11 20-3 19-2 20 1 19-1 20-5 20-1 19 4 20-7 19-6 20-3 19 1 20 1 19-13 20 0 19-8 20 1 19-6 20 8 19-579 20 286 19 279 20-1 19 2 20-5 19 7 20-1 19-7 20-3 20 6 19 3 20-1 19 2 20 0 19-2 20-3 19 2 20 0 19 14 20-16 19 0 20 0 19 6 20 14 19-18 20 2 19-9 20 10 19-10 20 14 19-1 20-8 19 7 20-9 20 3 19 4 20-11 19 0 20 3 19 13 20-14 19 5 20-16 19 14 20-12 19 10 20-2 19 10 20-1 19-8 20 1 19 5 20-1 19-3 20-7 19 5 20 1 20 12 19-7 20-2 19-2 20-2 19-2 20 3 19 5 20-10 19 9 20-3 19-10 20 7 19 7 20-9 19-3 20 9 19 1 20-4 19 3 20 1 19 2 20 3 19 2 20-16 20 5 19-6 20 7 19-4 20 5 19-8 20 19 19-4 20-1 19-1 20 0 19-8 20 13 19 1 20-5 19-6 20 2 19-4 20 8 19-12 20 8 19-8 20 5 20 8 19 4 20-9 19 3 20-1 19 5 20-12 19 6 20 0 19-7 20 17 19-21 20 6 19 7 20-7 19 4 20-2 19-1 20 8 19-1 20-2 19-3 20-5 19 5 20-9 20 10 19 3 20 10 19-9 20-4 19-2 20-8 19 11 20 3 19-5 20 8 19-18 20 8 19 10 20-3 19 3 20-11 19 8 20 2 19-8 20 3 19-4 20-1 20 8 19-8 20 2 19 9 20-9 19-10 20-1 19 10 20-8 19 7 20 4 19 1 20-11 19-1 20 10 19-12 20 4 19 7 20 3 19-4 20 5 19 7 20-8 19-3 20-4 20 0 19-4 20 17 19-12 20 11 19-9 20-1 19 11 20-6 19-10 20 17 19-14 20-4 19 12 20-1 19-10 20 3 19 14 20-7 19 2 20 0 19 1 20 2 20-6 19-2 20 1 19-3 20 3 19 5 20 1 19-1 20-9 19-1 20-7 19 12 20 3 19 0 20-7 19 0 20-4 19 7 20 6 19-3 20 2 19-13 20 9 19-6 20 14 20-12 19 0 20-6 19 7 20 5 19 1 20-3 19 0 20-18 19 9 20 10 19-10 20 17 19-10 20 6 19-12 20 9 19-10 20 7 19 0 20-2 19 11 20-16 20 6 19-4 20 4 19 11 20-18 19 5 20 3 19 8 20-9 19-10 20 8 19 7 20-11 19 8 20 2 19-6 20 3 19 13 20-3 19 0 20-2 19-5 20 4 19-3 20-9 20 7 19-3 20 8 19-1 20-4 19 7 20-2 19-7 20 12 19 4 20-10 19 3 20-3 19 5 20-4 19 5 20-1 19-3 20-7 19-6 20 10 19 3 20 2 20-10 19-5 20 18 19-9 20 2 19-2 20 9 19-8 20 2 19-2 20-8 19 6 20-13 19 7 20 6 19-4 20 11 19-6 20-4 19 1 20 0 19 5 20-4 19 0 20-2 20-13 19 6 20 14 19 2 20-6 19-6 20 15 19-6 20 0 19-5 20 6 19 3 20-3 19-14 20 18 19-10 20 3 19-10 20-2 19 10 20-3 19 4 20 5 20 3 19-23 20 18 19-7 20 5 19 11 20-11 19-10 20 5 19-1 20 1 19 3 20-5 19 4 20-7 19-8 20 28 19-2 20-15 19 12 20-3 19-3 20-2 19 7 20-14 20 26 19-24 20 8 19-5 20-6 19 13 20-13 19 6 20 16 19-23 20 14 19-8 20 5 19 7 20 2 19-6 20 4 19-11 20 10 19-11 20 5 19 3 20-6 20-3 19 3 20 2 19-17 20 19 19-3 20 6 19 0 20-8 19 0 20 15 19-17 20 11 19-8 20 4 19 0 20 0 19-1 20 6 19-5 20-8 19 11 20-5 19-4 20 14 20-17 19 7 20-13 19 9 20 4 19 4 20-6 19 1 20-8 19 5 20 3 19 13 20-12 19 9 20-13 19 6 20-4 19 2 20 11 19-8 20 11 19-6 20 0 20-10 19 4 20-8 19-3 20 8 19-4 20 1 19 16 20-9 19-6 20 4 19-7 20 4 19-4 20 7 19-15 20 21 19-1 20 4 19-6 20-3 19 3 20-9 19 9 20-11 20-2 19 11 20-6 19-6 20 47 19-7 20-1 19-2 20-2 19 12 20-8 19 6 20-16 19 8 20-6 19 9 20 0 19 7 20-8 19 8 20 6 19 0 20-13 20-1 19 9 20 3 19-13 20 2 19-6 20-1 19 3 20 16 19-8 20 1 19 9 20-6 19-14 20 2 19 9 20 2 19 0 20-3 19-12 20 8 19-4 20 0 19 16 20-2 20-7 19-13 20 2 19 8 20 4 19-13 20 12 19 2 20 3 19-12 20 9 19-8 20-3 19 7 20 10 19-9 20 1 19 6 20-2 19 4 20-11 19 5 20 1 20 4 19-10 20 16 19-1 20-14 19-5 20-2 19-1 20 3 19 5 20 2 19 7 20-12 19 8 20-6 19 0 20 6 19-14 20 14 19 1 20-2 19-6 20 0 19-3 20 6 20 3 19 4 20-4 19 10 20-23 19 24 20-13 19-17 20 8 19 5 20 5 11-1" fill="none" stroke="#69c4d2" stroke-width="20"/></g>
<g transform="scale(0.1)" stroke-linejoin="round"><path d="M14885 8213l19 16 20-11 19 2 20-2 19 3 20 2 19 4 20-10 19 4 20-4 20-11 19 4 20 2 19-5 20 4 19-6 20-4 19 0 20-13 19 3 20-7 19 1 20-7 19-5 20 10 19-4 20 4 19-3 20-14 19 14 20-18 19 10 20 5 20-20 19 19 20 3 19-15 20 0 19 4 20-3 19-2 20 18 19-6 20-9 19 13 20-15 19 1 20 9 19 4 20 7 19-6 20-15 19 14 20 1 19-8 20-17 19 10 20-2 20 5 19 1 20 16 19-25 20-154 19 75 20 86 19 9 20 8 19-10 20 9 19-11 20 22 19-18 20-10 19 18 20-19 19 17 20-6 19-5 20-1 19-6 20 6 20 9 19-25 20 13 19-7 20 12 19-4 20 0 19-6 20 11 19-5 20 10 19-5 20 6 19-12 20 19 19-15 20-12 19 21 20 9 19-28 20-5 19 23 20-8 19 13 20-5 20 0 19 2 20-10 19-9 20 28 19-12 20-1 19 3 20-2 19 0 20 2 19 2 20 2 19-5 20-18 19 9 20-154 19 154 20 7 19-17 20 9 19-6 20 4 20 7 19 3 20 6 19-21 20 13 19-5 20-4 19 2 20-7 19 9 20-4 19-11 20 28 19-8 20-13 19 6 20 22 19-11 20 1 19-13 20 2 19 12 20-16 19-5 20 27 20-11 19-1 20 1 19-19 20 0 19 11 20 4 19-5 20 7 19-4 20 5 19 0 20-11 19 15 20-7 19 4 20 7 19-3 20-19 19 17 20-24 19 20 20-8 20-7 19 12 20 3 19-11 20 1 19-3 20 13 19-11 20 10 19-19 20 11 19 10 20-4 19-2 20 11 19-2 20-22 19 17 20-7 19 13 20-8 19-2 20 5 19-3 20-3 20-2 19 8 20-9 19 13 20 4 19-13 20 7 19-10 20 9 19-1 20-3 19 1 20-2 19 7 20-24 19 31 20-8 19 2 20-18 19 10 20-3 19-5 20-2 20 0 19 4 20 4 19 6 20 8 19-3 20 2 19-139 20 124 19 1 20 11 19-8 20 6 19-6 20 1 19-11 20-3 19 19 20-3 19-5 20 10 19-7 20-12 19 6 20-4 20 23 19-30 20 19 19-144 20 147 19-8 20-2 19 4 20-4 19-5 20 7 19-7 20 12 19-6 20 20 19-22 20-97 19 94 20-1 19-11 20 29 19-150 20 136 20 2 19 3 20-2 19 3 20 1 19-14 20 7 19 9 20-9 19-2 20 17 19-11 20-14 19 8 20 0 19 18 20-15 19 10 20-2 19 3 20-14 19 2 20 13 19 24 20-30 20 2 19-4 20 0 19-7 20 13 19-6 20-3 19 0 20-9 19 16 20 7 19-7 20-2 19-5 20-7 19 11 20-6 19-4 20 16 19-7 20-3 19 7 20-16 20 8 19 1 20 11 19-1 20-4 19 3 20-10 19-1 20 11 19 3 20 3 19-5 20 0 19-18 20 6 19 7 20-11 19 14 20-2 19-8 20 1 19 16 20 1 19-3 20-7 20-1 19 6 20-13 19 5 20 1 19-11 20 15 19 0 20-10 19 20 20-13 19 2 20-8 19 2 20-2 19-1 20 11 19 1 20 0 19-15 20 19 19-16 20 2 20 7 19-4 20 3 19 8 20-8 19-4 20 8 19-1 20-1 19 7 20 6 19-10 20 2 19-10 20 1 19 4 20 9 19-16 20 8 19-4 20 4 19 2 20-4 19-13 20 10 20 8 19 3 20-16 19 12 20 1 19-6 20-6 19 14 20-12 19-1 20 14 19 1 20-1 19-4 20-5 19 7 20 8 19-31 20 9 19 19 20-12 19 4 20-19 20 13 19 0 20-11 19 2 20 6 19 6 20-2 19 3 20 0 19 15 20 4 19-17 20 8 19-15 20-5 19 7 20-10 19 3 20-4 19 16 20-18 19 24 20-3 19-22 20 17 20-9 19 6 20 1 19-2 20-20 19 6 20 6 19 11 20 10 19-5 20-7 19 2 20 11 19-20 20 8 19 12 20-26 19 16 20-1 19-7 20 4 19-10 20 16 20-6 19 8 20-3 19 4 20-2 19-11 20-4 19 10 20 3 19-9 20 3 19-1 20-11 19 5 20 14 19-5 20 0 19 3 20 4 19 9 20-15 19 1 20-8 19 14 20-14 20 24 19-7 20-7 19-5 20 22 19-18 20 8 19-9 20 12 19 3 20-2 19-2 20 1 19 15 20-1 19-9 20 0 19 6 20-5 19 2 20 4 19-14 20 7 20-2 19-6 20-5 19 8 20-5 19-5 20 11 19-4 20 4 19-3 20-6 19 9 20 3 19-6 20-2 19 1 20-2 19 5 20-13 19 9 20 8 19 3 20-4 19-9 20 4 20 13 19-5 20-6 19 16 20-12 19 5 20-1 19-10 20 5 19 9 20-1 19-6 20 3 19 4 20-5 19-12 20 0 19 0 20 10 19 0 20-9 19-9 20-15 20 22 19-3 20-3 19 9 20 5 19-12 20 15 19 6 20-5 19-1 20-8 19 11 20-4 19 4 20-10 19-10 20 10 19 5 20-12 19 17 20 1 19-5 20-7 19 9 20-8 20-3 19 0 20 13 19 0 20-8 19 13 20-7 19-6 20 2 19-3 20 0 11-1 0 92 -11665 0z" fill="#82b777" fill-opacity="0.1"/><path d="M14885 8213l19 16 20-11 19 2 20-2 19 3 20 2 19 4 20-10 19 4 20-4 20-11 19 4 20 2 19-5 20 4 19-6 20-4 19 0 20-13 19 3 20-7 19 1 20-7 19-5 20 10 19-4 20 4 19-3 20-14 19 14 20-18 19 10 20 5 20-20 19 19 20 3 19-15 20 0 19 4 20-3 19-2 20 18 19-6 20-9 19 13 20-15 19 1 20 9 19 4 20 7 19-6 20-15 19 14 20 1 19-8 20-17 19 10 20-2 20 5 19 1 20 16 19-25 20-154 19 75 20 86 19 9 20 8 19-10 20 9 19-11 20 22 19-18 20-10 19 18 20-19 19 17 20-6 19-5 20-1 19-6 20 6 20 9 19-25 20 13 19-7 20 12 19-4 20 0 19-6 20 11 19-5 20 10 19-5 20 6 19-12 20 19 19-15 20-12 19 21 20 9 19-28 20-5 19 23 20-8 19 13 20-5 20 0 19 2 20-10 19-9 20 28 19-12 20-1 19 3 20-2 19 0 20 2 19 2 20 2 19-5 20-18 19 9 20-154 19 154 20 7 19-17 20 9 19-6 20 4 20 7 19 3 20 6 19-21 20 13 19-5 20-4 19 2 20-7 19 9 20-4 19-11 20 28 19-8 20-13 19 6 20 22 19-11 20 1 19-13 20 2 19 12 20-16 19-5 20 27 20-11 19-1 20 1 19-19 20 0 19 11 20 4 19-5 20 7 19-4 20 5 19 0 20-11 19 15 20-7 19 4 20 7 19-3 20-19 19 17 20-24 19 20 20-8 20-7 19 12 20 3 19-11 20 1 19-3 20 13 19-11 20 10 19-19 20 11 19 10 20-4 19-2 20 11 19-2 20-22 19 17 20-7 19 13 20-8 19-2 20 5 19-3 20-3 20-2 19 8 20-9 19 13 20 4 19-13 20 7 19-10 20 9 19-1 20-3 19 1 20-2 19 7 20-24 19 31 20-8 19 2 20-18 19 10 20-3 19-5 20-2 20 0 19 4 20 4 19 6 20 8 19-3 20 2 19-139 20 124 19 1 20 11 19-8 20 6 19-6 20 1 19-11 20-3 19 19 20-3 19-5 20 10 19-7 20-12 19 6 20-4 20 23 19-30 20 19 19-144 20 147 19-8 20-2 19 4 20-4 19-5 20 7 19-7 20 12 19-6 20 20 19-22 20-97 19 94 20-1 19-11 20 29 19-150 20 136 20 2 19 3 20-2 19 3 20 1 19-14 20 7 19 9 20-9 19-2 20 17 19-11 20-14 19 8 20 0 19 18 20-15 19 10 20-2 19 3 20-14 19 2 20 13 19 24 20-30 20 2 19-4 20 0 19-7 20 13 19-6 20-3 19 0 20-9 19 16 20 7 19-7 20-2 19-5 20-7 19 11 20-6 19-4 20 16 19-7 20-3 19 7 20-16 20 8 19 1 20 11 19-1 20-4 19 3 20-10 19-1 20 11 19 3 20 3 19-5 20 0 19-18 20 6 19 7 20-11 19 14 20-2 19-8 20 1 19 16 20 1 19-3 20-7 20-1 19 6 20-13 19 5 20 1 19-11 20 15 19 0 20-10 19 20 20-13 19 2 20-8 19 2 20-2 19-1 20 11 19 1 20 0 19-15 20 19 19-16 20 2 20 7 19-4 20 3 19 8 20-8 19-4 20 8 19-1 20-1 19 7 20 6 19-10 20 2 19-10 20 1 19 4 20 9 19-16 20 8 19-4 20 4 19 2 20-4 19-13 20 10 20 8 19 3 20-16 19 12 20 1 19-6 20-6 19 14 20-12 19-1 20 14 19 1 20-1 19-4 20-5 19 7 20 8 19-31 20 9 19 19 20-12 19 4 20-19 20 13 19 0 20-11 19 2 20 6 19 6 20-2 19 3 20 0 19 15 20 4 19-17 20 8 19-15 20-5 19 7 20-10 19 3 20-4 19 16 20-18 19 24 20-3 19-22 20 17 20-9 19 6 20 1 19-2 20-20 19 6 20 6 19 11 20 10 19-5 20-7 19 2 20 11 19-20 20 8 19 12 20-26 19 16 20-1 19-7 20 4 19-10 20 16 20-6 19 8 20-3 19 4 20-2 19-11 20-4 19 10 20 3 19-9 20 3 19-1 20-11 19 5 20 14 19-5 20 0 19 3 20 4 19 9 20-15 19 1 20-8 19 14 20-14 20 24 19-7 20-7 19-5 20 22 19-18 20 8 19-9 20 12 19 3 20-2 19-2 20 1 19 15 20-1 19-9 20 0 19 6 20-5 19 2 20 4 19-14 20 7 20-2 19-6 20-5 19 8 20-5 19-5 20 11 19-4 20 4 19-3 20-6 19 9 20 3 19-6 20-2 19 1 20-2 19 5 20-13 19 9 20 8 19 3 20-4 19-9 20 4 20 13 19-5 20-6 19 16 20-12 19 5 20-1 19-10 20 5 19 9 20-1 19-6 20 3 19 4 20-5 19-12 20 0 19 0 20 10 19 0 20-9 19-9 20-15 20 22 19-3 20-3 19 9 20 5 19-12 20 15 19 6 20-5 19-1 20-8 19 11 20-4 19 4 20-10 19-10 20 10 19 5 20-12 19 17 20 1 19-5 20-7 19 9 20-8 20-3 19 0 20 13 19 0 20-8 19 13 20-7 19-6 20 2 19-3 20 0 11-1" fill="none" stroke="#82b777" stroke-width="20"/></g>
<g transform="scale(0.1)" stroke-linejoin="round"><path d="M14885 8233l19 2 20 3 19-2 20 7 19 3 20-8 19 0 20 2 19-5 20 3 20-5 19 2 20-8 19 1 20-1 19 2 20 1 19-10 20-5 19 2 20 3 19-11 20 0 19 0 20-6 19 10 20-13 19 1 20 2 19-6 20 8 19-3 20-7 20 8 19-4 20 4 19-2 20-1 19 1 20 7 19-1 20 4 19-13 20-625 19 625 20 0 19 8 20 4 19 3 20-7 19-1 20-6 19-5 20 9 19 2 20-7 19 0 20 5 20 1 19-6 20 11 19-6 20-6 19 14 20-3 19-3 20 0 19 1 20-1 19 1 20 4 19-11 20 10 19-9 20 7 19-3 20-1 19 3 20-6 19 6 20 0 20-1 19-2 20 1 19-3 20 2 19 5 20 2 19-6 20 1 19-3 20-3 19 6 20 1 19 5 20-12 19 3 20 3 19 4 20-2 19 6 20-6 19-2 20-2 19-3 20-2 20 8 19-7 20 8 19-3 20-3 19 2 20-3 19-1 20 7 19-3 20-7 19 8 20-1 19-3 20 9 19-6 20 4 19-2 20 1 19-8 20 2 19 7 20-12 20 8 19 4 20-3 19 1 20-2 19 3 20-3 19-2 20 9 19-10 20-5 19 5 20-2 19 6 20-7 19 6 20 6 19 3 20-2 19-8 20 6 19-7 20 0 19-186 20-78 20 268 19-12 20 5 19 12 20-10 19 9 20 0 19-9 20-1 19 6 20-9 19 11 20-10 19 10 20-1 19-9 20 3 19 3 20-5 19 3 20 0 19 7 20-9 20 0 19 8 20-4 19-1 20-2 19 2 20 4 19-5 20 4 19 5 20-6 19-1 20 5 19-2 20 0 19-7 20 7 19-5 20 6 19-7 20 7 19-11 20 7 19-1 20-10 20 3 19 0 20-3 19 18 20-7 19 1 20-7 19 12 20-4 19 4 20-8 19 1 20 8 19-5 20-1 19 2 20-3 19-1 20 2 19 1 20-2 19-1 20 3 20-7 19 2 20 5 19 3 20 6 19-7 20-8 19 9 20-3 19 1 20 0 19-2 20-6 19 16 20-14 19 10 20-10 19 4 20 3 19 2 20-10 19 0 20 1 19-1 20 6 20-4 19 5 20-5 19-6 20 10 19-1 20-2 19-4 20 10 19-9 20 7 19-6 20 7 19-14 20 14 19-3 20 7 19-11 20-4 19 14 20-3 19-4 20 0 20 1 19 2 20 0 19 1 20-1 19 0 20-3 19 3 20 7 19-3 20-3 19-1 20-4 19-3 20 5 19 0 20-5 19-1 20-5 19 7 20-4 19 14 20-10 19 10 20-7 20 2 19-6 20 6 19 5 20-5 19-2 20 13 19-15 20 7 19-6 20-7 19 6 20-2 19-4 20 5 19 9 20-7 19 2 20-9 19 4 20 6 19-10 20 11 20-1 19-2 20-5 19 5 20 3 19-1 20 2 19-7 20 7 19 3 20-4 19 1 20-4 19-2 20-1 19 1 20 11 19-3 20 2 19-6 20-5 19 3 20 5 19-2 20 1 20-9 19 7 20 3 19-3 20-4 19 2 20 3 19-4 20 10 19-11 20 1 19-2 20 5 19 2 20-2 19 2 20 4 19-7 20 1 19 1 20 4 19-11 20 3 20 3 19-5 20 5 19-2 20 3 19 4 20-9 19 10 20-11 19 2 20 3 19-7 20 6 19-4 20 0 19-5 20 13 19 0 20-1 19-4 20 1 19-10 20 1 19 12 20 4 20-8 19-1 20-4 19-2 20 8 19 0 20-7 19 8 20-2 19 11 20-6 19 5 20-7 19-2 20 7 19-5 20 5 19-14 20 3 19 7 20 0 19-9 20 5 20 2 19 9 20-8 19-7 20-1 19 0 20 7 19 5 20-6 19-3 20 6 19-9 20-1 19 12 20-4 19-1 20-3 19-5 20 11 19 3 20-5 19 1 20-4 19 5 20-1 20-5 19 0 20 8 19-3 20-2 19 3 20 3 19-1 20-9 19 3 20-6 19 12 20-1 19-6 20 1 19-1 20 2 19 0 20-3 19-6 20 1 19 8 20-3 20 0 19-3 20-5 19 9 20-3 19 10 20-1 19-5 20-1 19-5 20 3 19 6 20 2 19-4 20 2 19 7 20-5 19-1 20-2 19-5 20 1 19 6 20 0 19-4 20 3 20-5 19 2 20 6 19-3 20 12 19 4 20-1 19 4 20-1 19-6 20-2 19 5 20-2 19 0 20 2 19-4 20 1 19-2 20-2 19 11 20-1 19 1 20-5 20 5 19-8 20 3 19-3 20-3 19 3 20 7 19-8 20 2 19 4 20-4 19 3 20-1 19-4 20 8 19-4 20-2 19 3 20 0 19 1 20 2 19-10 20 3 19-6 20 8 20 0 19 1 20-2 19 5 20-2 19-6 20 5 19 1 20-3 19 5 20-4 19-6 20 4 19 1 20 4 19-9 20 14 19-9 20 1 19-5 20 1 19-1 20 0 20 2 19-6 20 6 19-4 20 9 19-7 20 2 19 0 20 3 19 4 20-8 19 2 20-4 19 6 20 1 19 3 20-4 19-8 20 9 19-1 20 2 19-5 20 3 19-1 20-8 20 1 19 4 20 4 19 2 20-4 19 0 20 3 19 5 20-9 19 5 20 1 11-1 0 54 -11665 0z" fill="#e0894a" fill-opacity="0.1"/><path d="M14885 8233l19 2 20 3 19-2 20 7 19 3 20-8 19 0 20 2 19-5 20 3 20-5 19 2 20-8 19 1 20-1 19 2 20 1 19-10 20-5 19 2 20 3 19-11 20 0 19 0 20-6 19 10 20-13 19 1 20 2 19-6 20 8 19-3 20-7 20 8 19-4 20 4 19-2 20-1 19 1 20 7 19-1 20 4 19-13 20-625 19 625 20 0 19 8 20 4 19 3 20-7 19-1 20-6 19-5 20 9 19 2 20-7 19 0 20 5 20 1 19-6 20 11 19-6 20-6 19 14 20-3 19-3 20 0 19 1 20-1 19 1 20 4 19-11 20 10 19-9 20 7 19-3 20-1 19 3 20-6 19 6 20 0 20-1 19-2 20 1 19-3 20 2 19 5 20 2 19-6 20 1 19-3 20-3 19 6 20 1 19 5 20-12 19 3 20 3 19 4 20-2 19 6 20-6 19-2 20-2 19-3 20-2 20 8 19-7 20 8 19-3 20-3 19 2 20-3 19-1 20 7 19-3 20-7 19 8 20-1 19-3 20 9 19-6 20 4 19-2 20 1 19-8 20 2 19 7 20-12 20 8 19 4 20-3 19 1 20-2 19 3 20-3 19-2 20 9 19-10 20-5 19 5 20-2 19 6 20-7 19 6 20 6 19 3 20-2 19-8 20 6 19-7 20 0 19-186 20-78 20 268 19-12 20 5 19 12 20-10 19 9 20 0 19-9 20-1 19 6 20-9 19 11 20-10 19 10 20-1 19-9 20 3 19 3 20-5 19 3 20 0 19 7 20-9 20 0 19 8 20-4 19-1 20-2 19 2 20 4 19-5 20 4 19 5 20-6 19-1 20 5 19-2 20 0 19-7 20 7 19-5 20 6 19-7 20 7 19-11 20 7 19-1 20-10 20 3 19 0 20-3 19 18 20-7 19 1 20-7 19 12 20-4 19 4 20-8 19 1 20 8 19-5 20-1 19 2 20-3 19-1 20 2 19 1 20-2 19-1 20 3 20-7 19 2 20 5 19 3 20 6 19-7 20-8 19 9 20-3 19 1 20 0 19-2 20-6 19 16 20-14 19 10 20-10 19 4 20 3 19 2 20-10 19 0 20 1 19-1 20 6 20-4 19 5 20-5 19-6 20 10 19-1 20-2 19-4 20 10 19-9 20 7 19-6 20 7 19-14 20 14 19-3 20 7 19-11 20-4 19 14 20-3 19-4 20 0 20 1 19 2 20 0 19 1 20-1 19 0 20-3 19 3 20 7 19-3 20-3 19-1 20-4 19-3 20 5 19 0 20-5 19-1 20-5 19 7 20-4 19 14 20-10 19 10 20-7 20 2 19-6 20 6 19 5 20-5 19-2 20 13 19-15 20 7 19-6 20-7 19 6 20-2 19-4 20 5 19 9 20-7 19 2 20-9 19 4 20 6 19-10 20 11 20-1 19-2 20-5 19 5 20 3 19-1 20 2 19-7 20 7 19 3 20-4 19 1 20-4 19-2 20-1 19 1 20 11 19-3 20 2 19-6 20-5 19 3 20 5 19-2 20 1 20-9 19 7 20 3 19-3 20-4 19 2 20 3 19-4 20 10 19-11 20 1 19-2 20 5 19 2 20-2 19 2 20 4 19-7 20 1 19 1 20 4 19-11 20 3 20 3 19-5 20 5 19-2 20 3 19 4 20-9 19 10 20-11 19 2 20 3 19-7 20 6 19-4 20 0 19-5 20 13 19 0 20-1 19-4 20 1 19-10 20 1 19 12 20 4 20-8 19-1 20-4 19-2 20 8 19 0 20-7 19 8 20-2 19 11 20-6 19 5 20-7 19-2 20 7 19-5 20 5 19-14 20 3 19 7 20 0 19-9 20 5 20 2 19 9 20-8 19-7 20-1 19 0 20 7 19 5 20-6 19-3 20 6 19-9 20-1 19 12 20-4 19-1 20-3 19-5 20 11 19 3 20-5 19 1 20-4 19 5 20-1 20-5 19 0 20 8 19-3 20-2 19 3 20 3 19-1 20-9 19 3 20-6 19 12 20-1 19-6 20 1 19-1 20 2 19 0 20-3 19-6 20 1 19 8 20-3 20 0 19-3 20-5 19 9 20-3 19 10 20-1 19-5 20-1 19-5 20 3 19 6 20 2 19-4 20 2 19 7 20-5 19-1 20-2 19-5 20 1 19 6 20 0 19-4 20 3 20-5 19 2 20 6 19-3 20 12 19 4 20-1 19 4 20-1 19-6 20-2 19 5 20-2 19 0 20 2 19-4 20 1 19-2 20-2 19 11 20-1 19 1 20-5 20 5 19-8 20 3 19-3 20-3 19 3 20 7 19-8 20 2 19 4 20-4 19 3 20-1 19-4 20 8 19-4 20-2 19 3 20 0 19 1 20 2 19-10 20 3 19-6 20 8 20 0 19 1 20-2 19 5 20-2 19-6 20 5 19 1 20-3 19 5 20-4 19-6 20 4 19 1 20 4 19-9 20 14 19-9 20 1 19-5 20 1 19-1 20 0 20 2 19-6 20 6 19-4 20 9 19-7 20 2 19 0 20 3 19 4 20-8 19 2 20-4 19 6 20 1 19 3 20-4 19-8 20 9 19-1 20 2 19-5 20 3 19-1 20-8 20 1 19 4 20 4 19 2 20-4 19 0 20 3 19 5 20-9 19 5 20 1 11-1" fill="none" stroke="#e0894a" stroke-width="20"/></g>
<g transform="scale(0.1)" stroke-linejoin="round"><path d="M14885 8245l19-1 20 1 19-1 20 0 19-2 20 2 19-2 20 3 19-6 20 2 20 0 19 2 20-9 19-2 20-1 19 0 20-4 19 3 20-4 19-1 20-2 19-2 20 1 19-2 20-2 19-3 20-3 19 3 20-6 19 3 20-1 19 4 20 4 20-6 19 2 20-2 19 2 20 0 19 1 20-1 19 2 20-5 19 7 20-5 19 2 20-5 19 6 20-1 19 1 20 1 19-3 20-4 19 4 20 0 19 3 20 2 19-6 20 2 20 1 19-3 20-1 19 4 20-7 19 9 20-4 19-1 20-4 19 4 20-1 19 0 20-3 19 2 20 1 19-4 20 9 19-4 20-2 19 4 20-2 19-2 20 2 20 3 19-1 20 4 19-4 20-3 19-3 20 1 19 0 20 4 19 5 20-5 19 1 20 1 19 0 20-2 19 4 20-8 19 2 20 2 19-6 20 7 19-1 20-1 19 2 20-2 20 2 19 0 20-1 19 0 20-1 19-1 20-1 19-4 20 5 19 3 20-4 19 1 20 3 19-3 20 0 19 1 20-4 19 9 20-4 19-3 20 6 19-4 20 1 20-8 19 6 20-8 19 3 20 4 19-2 20 5 19-1 20 3 19-7 20 3 19-3 20 4 19 4 20-1 19-2 20-1 19 0 20-4 19 9 20-2 19-4 20 0 19-3 20 5 20-1 19-4 20 9 19-10 20 1 19 6 20 0 19 0 20-4 19-1 20 0 19 0 20 1 19 0 20 1 19 4 20-1 19-4 20 1 19-1 20 2 19 1 20 0 20 0 19 0 20-2 19 3 20-10 19 9 20-2 19 3 20 3 19 0 20-2 19 4 20-8 19-2 20 5 19 0 20-5 19 7 20-2 19 5 20-7 19 3 20-1 19-5 20-2 20 6 19 2 20-3 19 3 20 0 19 3 20-6 19 2 20 0 19-4 20 6 19-4 20 1 19-1 20 2 19-3 20-2 19 1 20-3 19 4 20 3 19 0 20 2 20-1 19 1 20 1 19-3 20-2 19-2 20 0 19-1 20 0 19-1 20 0 19 4 20 3 19-9 20 9 19-7 20-1 19 2 20 4 19 2 20-4 19 1 20-2 19-4 20 3 20-2 19 2 20-1 19 7 20-2 19 0 20 0 19-3 20 4 19-3 20 4 19-7 20 4 19 9 20-5 19-4 20 3 19-8 20 8 19 2 20-11 19 2 20 4 20-2 19-1 20-1 19 6 20-1 19 6 20-11 19 2 20-2 19-1 20 11 19-6 20 2 19-1 20 0 19 3 20 1 19-4 20 2 19-1 20 5 19-6 20 2 19-1 20-4 20 5 19-1 20-3 19-1 20 3 19 0 20 2 19-4 20 3 19-4 20-1 19-1 20 0 19 0 20 3 19 3 20-5 19 2 20 4 19-7 20 6 19 4 20-10 20 1 19 3 20 4 19-5 20 3 19-3 20-1 19 6 20 0 19-8 20 4 19-3 20 2 19 5 20-5 19 3 20-2 19 2 20 1 19-2 20-5 19 0 20 4 19 1 20 2 20-5 19-3 20 2 19-3 20 2 19 10 20-10 19 1 20-1 19 3 20 5 19-4 20 5 19-3 20 0 19-5 20 6 19-1 20-2 19 8 20-6 19-4 20 2 20-3 19 4 20-4 19 1 20 3 19-2 20-2 19 6 20-5 19 5 20-4 19 0 20-1 19 1 20 2 19 1 20-2 19 0 20 2 19-2 20 0 19-4 20 5 19-1 20 0 20 0 19 1 20-4 19 3 20 2 19 3 20-5 19-2 20 6 19 0 20 0 19-2 20 1 19-1 20 2 19-3 20 0 19 1 20 1 19-1 20-6 19 3 20-2 20 5 19-6 20-1 19 4 20 0 19-2 20 1 19-6 20 12 19-6 20 0 19 8 20-1 19-6 20-1 19 2 20 5 19-2 20-6 19 3 20-1 19-2 20 0 19 11 20-7 20 2 19-2 20-2 19 5 20-5 19 6 20-10 19 8 20-4 19 1 20 1 19-3 20-4 19 6 20 1 19-4 20 4 19 0 20-3 19 0 20 1 19 3 20-7 20 6 19-1 20 2 19-1 20 1 19-4 20-3 19 3 20 4 19-2 20 0 19-8 20 5 19 1 20 3 19 1 20-4 19 3 20 0 19-1 20 0 19 2 20-2 19-1 20-2 20 3 19 0 20-1 19-1 20 11 19-8 20 8 19-4 20 6 19-2 20 5 19-5 20-2 19-1 20 7 19-8 20 9 19-3 20 0 19-6 20 7 19 2 20-5 20 0 19-1 20 2 19-1 20 1 19 2 20 1 19-5 20 0 19 3 20-2 19 2 20-2 19 5 20-4 19-7 20 5 19 5 20-13 19 7 20 2 19 1 20-2 19-1 20-1 20-1 19 5 20-3 19 0 20 1 19 1 20-3 19 1 20-1 19-3 20 7 19-4 20 2 19-4 20 6 19-2 20 3 19-3 20 4 19-2 20-4 19 6 20 6 20-9 19-3 20 3 19-1 20-3 19 6 20-4 19 4 20-6 19 1 20 1 19-3 20 3 19 1 20-5 19-3 20 9 19-1 20-1 19 8 20-3 19 6 20-13 19 4 20 1 20-5 19 3 20 5 19 2 20-7 19 0 20-2 19 3 20 2 19-1 20-1 11 3 0 49 -11665 0z" fill="#4f6e58" fill-opacity="0.1"/><path d="M14885 8245l19-1 20 1 19-1 20 0 19-2 20 2 19-2 20 3 19-6 20 2 20 0 19 2 20-9 19-2 20-1 19 0 20-4 19 3 20-4 19-1 20-2 19-2 20 1 19-2 20-2 19-3 20-3 19 3 20-6 19 3 20-1 19 4 20 4 20-6 19 2 20-2 19 2 20 0 19 1 20-1 19 2 20-5 19 7 20-5 19 2 20-5 19 6 20-1 19 1 20 1 19-3 20-4 19 4 20 0 19 3 20 2 19-6 20 2 20 1 19-3 20-1 19 4 20-7 19 9 20-4 19-1 20-4 19 4 20-1 19 0 20-3 19 2 20 1 19-4 20 9 19-4 20-2 19 4 20-2 19-2 20 2 20 3 19-1 20 4 19-4 20-3 19-3 20 1 19 0 20 4 19 5 20-5 19 1 20 1 19 0 20-2 19 4 20-8 19 2 20 2 19-6 20 7 19-1 20-1 19 2 20-2 20 2 19 0 20-1 19 0 20-1 19-1 20-1 19-4 20 5 19 3 20-4 19 1 20 3 19-3 20 0 19 1 20-4 19 9 20-4 19-3 20 6 19-4 20 1 20-8 19 6 20-8 19 3 20 4 19-2 20 5 19-1 20 3 19-7 20 3 19-3 20 4 19 4 20-1 19-2 20-1 19 0 20-4 19 9 20-2 19-4 20 0 19-3 20 5 20-1 19-4 20 9 19-10 20 1 19 6 20 0 19 0 20-4 19-1 20 0 19 0 20 1 19 0 20 1 19 4 20-1 19-4 20 1 19-1 20 2 19 1 20 0 20 0 19 0 20-2 19 3 20-10 19 9 20-2 19 3 20 3 19 0 20-2 19 4 20-8 19-2 20 5 19 0 20-5 19 7 20-2 19 5 20-7 19 3 20-1 19-5 20-2 20 6 19 2 20-3 19 3 20 0 19 3 20-6 19 2 20 0 19-4 20 6 19-4 20 1 19-1 20 2 19-3 20-2 19 1 20-3 19 4 20 3 19 0 20 2 20-1 19 1 20 1 19-3 20-2 19-2 20 0 19-1 20 0 19-1 20 0 19 4 20 3 19-9 20 9 19-7 20-1 19 2 20 4 19 2 20-4 19 1 20-2 19-4 20 3 20-2 19 2 20-1 19 7 20-2 19 0 20 0 19-3 20 4 19-3 20 4 19-7 20 4 19 9 20-5 19-4 20 3 19-8 20 8 19 2 20-11 19 2 20 4 20-2 19-1 20-1 19 6 20-1 19 6 20-11 19 2 20-2 19-1 20 11 19-6 20 2 19-1 20 0 19 3 20 1 19-4 20 2 19-1 20 5 19-6 20 2 19-1 20-4 20 5 19-1 20-3 19-1 20 3 19 0 20 2 19-4 20 3 19-4 20-1 19-1 20 0 19 0 20 3 19 3 20-5 19 2 20 4 19-7 20 6 19 4 20-10 20 1 19 3 20 4 19-5 20 3 19-3 20-1 19 6 20 0 19-8 20 4 19-3 20 2 19 5 20-5 19 3 20-2 19 2 20 1 19-2 20-5 19 0 20 4 19 1 20 2 20-5 19-3 20 2 19-3 20 2 19 10 20-10 19 1 20-1 19 3 20 5 19-4 20 5 19-3 20 0 19-5 20 6 19-1 20-2 19 8 20-6 19-4 20 2 20-3 19 4 20-4 19 1 20 3 19-2 20-2 19 6 20-5 19 5 20-4 19 0 20-1 19 1 20 2 19 1 20-2 19 0 20 2 19-2 20 0 19-4 20 5 19-1 20 0 20 0 19 1 20-4 19 3 20 2 19 3 20-5 19-2 20 6 19 0 20 0 19-2 20 1 19-1 20 2 19-3 20 0 19 1 20 1 19-1 20-6 19 3 20-2 20 5 19-6 20-1 19 4 20 0 19-2 20 1 19-6 20 12 19-6 20 0 19 8 20-1 19-6 20-1 19 2 20 5 19-2 20-6 19 3 20-1 19-2 20 0 19 11 20-7 20 2 19-2 20-2 19 5 20-5 19 6 20-10 19 8 20-4 19 1 20 1 19-3 20-4 19 6 20 1 19-4 20 4 19 0 20-3 19 0 20 1 19 3 20-7 20 6 19-1 20 2 19-1 20 1 19-4 20-3 19 3 20 4 19-2 20 0 19-8 20 5 19 1 20 3 19 1 20-4 19 3 20 0 19-1 20 0 19 2 20-2 19-1 20-2 20 3 19 0 20-1 19-1 20 11 19-8 20 8 19-4 20 6 19-2 20 5 19-5 20-2 19-1 20 7 19-8 20 9 19-3 20 0 19-6 20 7 19 2 20-5 20 0 19-1 20 2 19-1 20 1 19 2 20 1 19-5 20 0 19 3 20-2 19 2 20-2 19 5 20-4 19-7 20 5 19 5 20-13 19 7 20 2 19 1 20-2 19-1 20-1 20-1 19 5 20-3 19 0 20 1 19 1 20-3 19 1 20-1 19-3 20 7 19-4 20 2 19-4 20 6 19-2 20 3 19-3 20 4 19-2 20-4 19 6 20 6 20-9 19-3 20 3 19-1 20-3 19 6 20-4 19 4 20-6 19 1 20 1 19-3 20 3 19 1 20-5 19-3 20 9 19-1 20-1 19 8 20-3 19 6 20-13 19 4 20 1 20-5 19 3 20 5 19 2 20-7 19 0 20-2 19 3 20 2 19-1 20-1 11 3" fill="none" stroke="#4f6e58" stroke-width="20"/></g>
<g transform="scale(0.1)" stroke-linejoin="round"><path d="M14885 8251l19-2 20 0 19 0 20-2 19 3 20-2 19 3 20-2 19 1 20-2 20 0 19 1 20-4 19 0 20-4 19-1 20-1 19 1 20-5 19 2 20-5 19 1 20-4 19 0 20-1 19-2 20-2 19-2 20 3 19 2 20-2 19 1 20 4 20-1 19-6 20 6 19 2 20-5 19-1 20 0 19 1 20 0 19 3 20-1 19 3 20 0 19-5 20 1 19-4 20 4 19-3 20 4 19 3 20-2 19 2 20-3 19 4 20-2 20-2 19 2 20-4 19 0 20-2 19 7 20-6 19-4 20 6 19 3 20-9 19 2 20 3 19-2 20 3 19 0 20-5 19 8 20-5 19 2 20-4 19 2 20 4 20-3 19 1 20 0 19-2 20 3 19-2 20 2 19-2 20 3 19-1 20 0 19 2 20 1 19-3 20 1 19 0 20 0 19-4 20 2 19-1 20 6 19-4 20-5 19 3 20-2 20 1 19-1 20 5 19-7 20 3 19 0 20 1 19 2 20-4 19 4 20-3 19 2 20 1 19-2 20-1 19 2 20 0 19-1 20-1 19-5 20 5 19 0 20 1 20 5 19-6 20 0 19 2 20 0 19 0 20-2 19 2 20-4 19 2 20 1 19 1 20-3 19-3 20 8 19 3 20-5 19 4 20-3 19 3 20-4 19-2 20 5 19-7 20 4 20-1 19 1 20 1 19 0 20 0 19-5 20 0 19 6 20-5 19 0 20 3 19-3 20 0 19 4 20 2 19-5 20 0 19-5 20 5 19-1 20 1 19 0 20 4 20-1 19-4 20 1 19-8 20 9 19-2 20 0 19-3 20 10 19-6 20 2 19 0 20-1 19 3 20-2 19 4 20-5 19-1 20 3 19 1 20 1 19-3 20-2 19 5 20-5 20-1 19 6 20-4 19-2 20 4 19-3 20 2 19 3 20 0 19-2 20-2 19 3 20-5 19-2 20 5 19-5 20-2 19 9 20 1 19-2 20 3 19-3 20-1 20-5 19 2 20 1 19 3 20-4 19 5 20-1 19-6 20 3 19 4 20-4 19-3 20 6 19-4 20 5 19-4 20 2 19-2 20 1 19 3 20-4 19 0 20 2 19-6 20 8 20-3 19 0 20 1 19 1 20-1 19 0 20 1 19 2 20 3 19-5 20 3 19-8 20 1 19 4 20 2 19-3 20 1 19 3 20 4 19-8 20-5 19 9 20 4 20 0 19-6 20-7 19 1 20 4 19 0 20-1 19 2 20 3 19-2 20-1 19-2 20-8 19 8 20 0 19 2 20 3 19-4 20 3 19-5 20 0 19 3 20 1 19-2 20-2 20 4 19-3 20 1 19-3 20 6 19-9 20 3 19 3 20-1 19-2 20 4 19-4 20 4 19 0 20-7 19 7 20 3 19-1 20 0 19-8 20 5 19-1 20 0 20 5 19-5 20 0 19 1 20 1 19 0 20-5 19 8 20-2 19-1 20 0 19 0 20-2 19 1 20-3 19-1 20 2 19 0 20-4 19 11 20 2 19-8 20-1 19-1 20 4 20 0 19-1 20-3 19 0 20 4 19 3 20-2 19-1 20 1 19-5 20 4 19-9 20 7 19-1 20 1 19-1 20 4 19-7 20 4 19-2 20 3 19-1 20 0 20 4 19-4 20 6 19-5 20-2 19 2 20 2 19-2 20-5 19 8 20-4 19 1 20 2 19-4 20 5 19-2 20 0 19 5 20-6 19 3 20-6 19 3 20 3 19-2 20 2 20 0 19-3 20 8 19-7 20 2 19-2 20-1 19 1 20 0 19-1 20 8 19-8 20 2 19-1 20 0 19 0 20-1 19 1 20 0 19-5 20 3 19 1 20 7 20-3 19-10 20 4 19 1 20-2 19 1 20 6 19-7 20 1 19 2 20 1 19-2 20-6 19 5 20 2 19 4 20-4 19 1 20-3 19 3 20-2 19-1 20-1 19 6 20 0 20-9 19 5 20 4 19-8 20 1 19 6 20-7 19 8 20-4 19 0 20-4 19 5 20-4 19 3 20 0 19 3 20-1 19 0 20-1 19-3 20 4 19-1 20-3 20-1 19 0 20 7 19-2 20 1 19-4 20-4 19 4 20 1 19 2 20-2 19-2 20 0 19 5 20-4 19 1 20 1 19-4 20 5 19-4 20 1 19 3 20 1 19-7 20 1 20 3 19 5 20-7 19 4 20 5 19-2 20-2 19-2 20 1 19 5 20-2 19 1 20-2 19 3 20-2 19 1 20 7 19-9 20 6 19-1 20-3 19-4 20 3 20-6 19 7 20 1 19-2 20-1 19 1 20 0 19-2 20 3 19 1 20 1 19-6 20 1 19-3 20 6 19-1 20-4 19 5 20-2 19 2 20 2 19-1 20 0 19-1 20-1 20 1 19-3 20 5 19 0 20-3 19 0 20-2 19 4 20-2 19 4 20-3 19 0 20 3 19-1 20-1 19 2 20-1 19 3 20-2 19-1 20-1 19-1 20-1 20 2 19 0 20-1 19-2 20-1 19 2 20 2 19-1 20 2 19-1 20 1 19 3 20-7 19 5 20-3 19 1 20 2 19-1 20 0 19-4 20 2 19-3 20 2 19-3 20 2 20 1 19-1 20-1 19 6 20-1 19-5 20 3 19 3 20-1 19-2 20 1 11-3 0 45 -11665 0z" fill="#b254a8" fill-opacity="0.1"/><path d="M14885 8251l19-2 20 0 19 0 20-2 19 3 20-2 19 3 20-2 19 1 20-2 20 0 19 1 20-4 19 0 20-4 19-1 20-1 19 1 20-5 19 2 20-5 19 1 20-4 19 0 20-1 19-2 20-2 19-2 20 3 19 2 20-2 19 1 20 4 20-1 19-6 20 6 19 2 20-5 19-1 20 0 19 1 20 0 19 3 20-1 19 3 20 0 19-5 20 1 19-4 20 4 19-3 20 4 19 3 20-2 19 2 20-3 19 4 20-2 20-2 19 2 20-4 19 0 20-2 19 7 20-6 19-4 20 6 19 3 20-9 19 2 20 3 19-2 20 3 19 0 20-5 19 8 20-5 19 2 20-4 19 2 20 4 20-3 19 1 20 0 19-2 20 3 19-2 20 2 19-2 20 3 19-1 20 0 19 2 20 1 19-3 20 1 19 0 20 0 19-4 20 2 19-1 20 6 19-4 20-5 19 3 20-2 20 1 19-1 20 5 19-7 20 3 19 0 20 1 19 2 20-4 19 4 20-3 19 2 20 1 19-2 20-1 19 2 20 0 19-1 20-1 19-5 20 5 19 0 20 1 20 5 19-6 20 0 19 2 20 0 19 0 20-2 19 2 20-4 19 2 20 1 19 1 20-3 19-3 20 8 19 3 20-5 19 4 20-3 19 3 20-4 19-2 20 5 19-7 20 4 20-1 19 1 20 1 19 0 20 0 19-5 20 0 19 6 20-5 19 0 20 3 19-3 20 0 19 4 20 2 19-5 20 0 19-5 20 5 19-1 20 1 19 0 20 4 20-1 19-4 20 1 19-8 20 9 19-2 20 0 19-3 20 10 19-6 20 2 19 0 20-1 19 3 20-2 19 4 20-5 19-1 20 3 19 1 20 1 19-3 20-2 19 5 20-5 20-1 19 6 20-4 19-2 20 4 19-3 20 2 19 3 20 0 19-2 20-2 19 3 20-5 19-2 20 5 19-5 20-2 19 9 20 1 19-2 20 3 19-3 20-1 20-5 19 2 20 1 19 3 20-4 19 5 20-1 19-6 20 3 19 4 20-4 19-3 20 6 19-4 20 5 19-4 20 2 19-2 20 1 19 3 20-4 19 0 20 2 19-6 20 8 20-3 19 0 20 1 19 1 20-1 19 0 20 1 19 2 20 3 19-5 20 3 19-8 20 1 19 4 20 2 19-3 20 1 19 3 20 4 19-8 20-5 19 9 20 4 20 0 19-6 20-7 19 1 20 4 19 0 20-1 19 2 20 3 19-2 20-1 19-2 20-8 19 8 20 0 19 2 20 3 19-4 20 3 19-5 20 0 19 3 20 1 19-2 20-2 20 4 19-3 20 1 19-3 20 6 19-9 20 3 19 3 20-1 19-2 20 4 19-4 20 4 19 0 20-7 19 7 20 3 19-1 20 0 19-8 20 5 19-1 20 0 20 5 19-5 20 0 19 1 20 1 19 0 20-5 19 8 20-2 19-1 20 0 19 0 20-2 19 1 20-3 19-1 20 2 19 0 20-4 19 11 20 2 19-8 20-1 19-1 20 4 20 0 19-1 20-3 19 0 20 4 19 3 20-2 19-1 20 1 19-5 20 4 19-9 20 7 19-1 20 1 19-1 20 4 19-7 20 4 19-2 20 3 19-1 20 0 20 4 19-4 20 6 19-5 20-2 19 2 20 2 19-2 20-5 19 8 20-4 19 1 20 2 19-4 20 5 19-2 20 0 19 5 20-6 19 3 20-6 19 3 20 3 19-2 20 2 20 0 19-3 20 8 19-7 20 2 19-2 20-1 19 1 20 0 19-1 20 8 19-8 20 2 19-1 20 0 19 0 20-1 19 1 20 0 19-5 20 3 19 1 20 7 20-3 19-10 20 4 19 1 20-2 19 1 20 6 19-7 20 1 19 2 20 1 19-2 20-6 19 5 20 2 19 4 20-4 19 1 20-3 19 3 20-2 19-1 20-1 19 6 20 0 20-9 19 5 20 4 19-8 20 1 19 6 20-7 19 8 20-4 19 0 20-4 19 5 20-4 19 3 20 0 19 3 20-1 19 0 20-1 19-3 20 4 19-1 20-3 20-1 19 0 20 7 19-2 20 1 19-4 20-4 19 4 20 1 19 2 20-2 19-2 20 0 19 5 20-4 19 1 20 1 19-4 20 5 19-4 20 1 19 3 20 1 19-7 20 1 20 3 19 5 20-7 19 4 20 5 19-2 20-2 19-2 20 1 19 5 20-2 19 1 20-2 19 3 20-2 19 1 20 7 19-9 20 6 19-1 20-3 19-4 20 3 20-6 19 7 20 1 19-2 20-1 19 1 20 0 19-2 20 3 19 1 20 1 19-6 20 1 19-3 20 6 19-1 20-4 19 5 20-2 19 2 20 2 19-1 20 0 19-1 20-1 20 1 19-3 20 5 19 0 20-3 19 0 20-2 19 4 20-2 19 4 20-3 19 0 20 3 19-1 20-1 19 2 20-1 19 3 20-2 19-1 20-1 19-1 20-1 20 2 19 0 20-1 19-2 20-1 19 2 20 2 19-1 20 2 19-1 20 1 19 3 20-7 19 5 20-3 19 1 20 2 19-1 20 0 19-4 20 2 19-3 20 2 19-3 20 2 20 1 19-1 20-1 19 6 20-1 19-5 20 3 19 3 20-1 19-2 20 1 11-3" fill="none" stroke="#b254a8" stroke-width="20"/></g>
<g transform="scale(0.1)" stroke-linejoin="round"><path d="M14885 8257l19 1 20 2 19-1 20 0 19-4 20 3 19-1 20 2 19-4 20 1 20 0 19-1 20-1 19-1 20 0 19-2 20-2 19-3 20 3 19 0 20-2 19 0 20-3 19-2 20 2 19-2 20 4 19-4 20-3 19 1 20-1 19 1 20 0 20-1 19 1 20 1 19-6 20 7 19-5 20 2 19 2 20 1 19 1 20-1 19-3 20 4 19-3 20-3 19 8 20-2 19-4 20 1 19 1 20 2 19 0 20 1 19 0 20-1 20-5 19 2 20 3 19 0 20-5 19 4 20 1 19-1 20-1 19 2 20-6 19 0 20 5 19-2 20 4 19 0 20 3 19-6 20 4 19-4 20-3 19 3 20-3 20 3 19 2 20-4 19 7 20-6 19 0 20 0 19 2 20 0 19-1 20 2 19-3 20 1 19 3 20-2 19 1 20 0 19 0 20 0 19-1 20 1 19-3 20-1 19 1 20 3 20-1 19-4 20 1 19 4 20-3 19 2 20-1 19 0 20 3 19-2 20 0 19 0 20-1 19-1 20 2 19-1 20 3 19-4 20 0 19 2 20 0 19-2 20 1 20 2 19 0 20-2 19-1 20-1 19 3 20 2 19-1 20-3 19-1 20 6 19-6 20 4 19-3 20 4 19-5 20 4 19 0 20-3 19 3 20-4 19 1 20 0 19 2 20 0 20-2 19-1 20 4 19-1 20-3 19 1 20 2 19 0 20 0 19 2 20 2 19-2 20 0 19-2 20-1 19 3 20-6 19 3 20-2 19-1 20 4 19-3 20 3 20-1 19 1 20-1 19 3 20-3 19 3 20-4 19 4 20-5 19 5 20-5 19 6 20-6 19 1 20 4 19-2 20-2 19 3 20-4 19 1 20 0 19-1 20 2 19 0 20 0 20 2 19-3 20-2 19-2 20 5 19 1 20 2 19 0 20 0 19-8 20 6 19-1 20-1 19 2 20 3 19-3 20 3 19-1 20 0 19 0 20-2 19-3 20 6 20-6 19-1 20-1 19 5 20 1 19-3 20-1 19 2 20-1 19 0 20-4 19 2 20 4 19-1 20 1 19-1 20-3 19 5 20 0 19-4 20 3 19-3 20 0 19-2 20 5 20-3 19-1 20-1 19 1 20 1 19-2 20 6 19-1 20-5 19 4 20 1 19 6 20-5 19-1 20 2 19-2 20-4 19 0 20 2 19 2 20 2 19-1 20-3 20 4 19-5 20 1 19 2 20 5 19-3 20-4 19 0 20 0 19 3 20-2 19 3 20 0 19-3 20 1 19 0 20 0 19 1 20-2 19 0 20 3 19-3 20 1 19 2 20-6 20 5 19-1 20 0 19 1 20-3 19-1 20-1 19 7 20-3 19-3 20 5 19-5 20 2 19-2 20 1 19 1 20 2 19 2 20-5 19-5 20 4 19 5 20 1 20-1 19-5 20-1 19 1 20 0 19 3 20-2 19 1 20-1 19 4 20-4 19 2 20-3 19-1 20 2 19 0 20 2 19-5 20 6 19 1 20-4 19 2 20-1 19-1 20 1 20 5 19-4 20 6 19-7 20 2 19-4 20-1 19 6 20 1 19-4 20 0 19-2 20 5 19-1 20-5 19 0 20 2 19 5 20-2 19-1 20-1 19-5 20 3 20-4 19 9 20-1 19-2 20 4 19-4 20-2 19 5 20-2 19 3 20-2 19 0 20-2 19 4 20-3 19 2 20-3 19 0 20 0 19 0 20 1 19 1 20 3 19-4 20 3 20-2 19-1 20 0 19 3 20-5 19 1 20-1 19-1 20 4 19 1 20-2 19 0 20 1 19 1 20 0 19-2 20 1 19 2 20-3 19 0 20 0 19 1 20-3 20 0 19 3 20 1 19-1 20-7 19 5 20-1 19 0 20 5 19-2 20-2 19-1 20-5 19 7 20 0 19-2 20 2 19-1 20 1 19-4 20 3 19-1 20 4 19-4 20 3 20-2 19 2 20 0 19-5 20 1 19 1 20-4 19 3 20 3 19-1 20-3 19 5 20 2 19-2 20 0 19-3 20 0 19 4 20-3 19-2 20 2 19 2 20-2 20-1 19 1 20 1 19-1 20 2 19-4 20 2 19 1 20 0 19 0 20-3 19 3 20-3 19 3 20 3 19-4 20 3 19-4 20-2 19 4 20 0 19 1 20-3 19 1 20 0 20 1 19-2 20-1 19 1 20 4 19 2 20-2 19 1 20 1 19-3 20 0 19 1 20 0 19 4 20-2 19-5 20 5 19-4 20 3 19 1 20-4 19 1 20 1 20 3 19-3 20-1 19-1 20-3 19 1 20 6 19 1 20 1 19-4 20-3 19 6 20-1 19-1 20-1 19 0 20-1 19 1 20-2 19 3 20-1 19 1 20-1 19 0 20 3 20 1 19 0 20-4 19-1 20-2 19 1 20 4 19-1 20 1 19-2 20 1 19-3 20 1 19 0 20-1 19 5 20-5 19 0 20 4 19-2 20-5 19 6 20-2 20-2 19 3 20 1 19 0 20-4 19 5 20-2 19-2 20 2 19-2 20 2 19 1 20-5 19 10 20-4 19-1 20-2 19 2 20-4 19 3 20 4 19-4 20 3 19-2 20 0 20-2 19-2 20 6 19-1 20-2 19 2 20-3 19-3 20 5 19-1 20-2 11 3 0 30 -11665 0z" fill="#b3a35f" fill-opacity="0.1"/><path d="M14885 8257l19 1 20 2 19-1 20 0 19-4 20 3 19-1 20 2 19-4 20 1 20 0 19-1 20-1 19-1 20 0 19-2 20-2 19-3 20 3 19 0 20-2 19 0 20-3 19-2 20 2 19-2 20 4 19-4 20-3 19 1 20-1 19 1 20 0 20-1 19 1 20 1 19-6 20 7 19-5 20 2 19 2 20 1 19 1 20-1 19-3 20 4 19-3 20-3 19 8 20-2 19-4 20 1 19 1 20 2 19 0 20 1 19 0 20-1 20-5 19 2 20 3 19 0 20-5 19 4 20 1 19-1 20-1 19 2 20-6 19 0 20 5 19-2 20 4 19 0 20 3 19-6 20 4 19-4 20-3 19 3 20-3 20 3 19 2 20-4 19 7 20-6 19 0 20 0 19 2 20 0 19-1 20 2 19-3 20 1 19 3 20-2 19 1 20 0 19 0 20 0 19-1 20 1 19-3 20-1 19 1 20 3 20-1 19-4 20 1 19 4 20-3 19 2 20-1 19 0 20 3 19-2 20 0 19 0 20-1 19-1 20 2 19-1 20 3 19-4 20 0 19 2 20 0 19-2 20 1 20 2 19 0 20-2 19-1 20-1 19 3 20 2 19-1 20-3 19-1 20 6 19-6 20 4 19-3 20 4 19-5 20 4 19 0 20-3 19 3 20-4 19 1 20 0 19 2 20 0 20-2 19-1 20 4 19-1 20-3 19 1 20 2 19 0 20 0 19 2 20 2 19-2 20 0 19-2 20-1 19 3 20-6 19 3 20-2 19-1 20 4 19-3 20 3 20-1 19 1 20-1 19 3 20-3 19 3 20-4 19 4 20-5 19 5 20-5 19 6 20-6 19 1 20 4 19-2 20-2 19 3 20-4 19 1 20 0 19-1 20 2 19 0 20 0 20 2 19-3 20-2 19-2 20 5 19 1 20 2 19 0 20 0 19-8 20 6 19-1 20-1 19 2 20 3 19-3 20 3 19-1 20 0 19 0 20-2 19-3 20 6 20-6 19-1 20-1 19 5 20 1 19-3 20-1 19 2 20-1 19 0 20-4 19 2 20 4 19-1 20 1 19-1 20-3 19 5 20 0 19-4 20 3 19-3 20 0 19-2 20 5 20-3 19-1 20-1 19 1 20 1 19-2 20 6 19-1 20-5 19 4 20 1 19 6 20-5 19-1 20 2 19-2 20-4 19 0 20 2 19 2 20 2 19-1 20-3 20 4 19-5 20 1 19 2 20 5 19-3 20-4 19 0 20 0 19 3 20-2 19 3 20 0 19-3 20 1 19 0 20 0 19 1 20-2 19 0 20 3 19-3 20 1 19 2 20-6 20 5 19-1 20 0 19 1 20-3 19-1 20-1 19 7 20-3 19-3 20 5 19-5 20 2 19-2 20 1 19 1 20 2 19 2 20-5 19-5 20 4 19 5 20 1 20-1 19-5 20-1 19 1 20 0 19 3 20-2 19 1 20-1 19 4 20-4 19 2 20-3 19-1 20 2 19 0 20 2 19-5 20 6 19 1 20-4 19 2 20-1 19-1 20 1 20 5 19-4 20 6 19-7 20 2 19-4 20-1 19 6 20 1 19-4 20 0 19-2 20 5 19-1 20-5 19 0 20 2 19 5 20-2 19-1 20-1 19-5 20 3 20-4 19 9 20-1 19-2 20 4 19-4 20-2 19 5 20-2 19 3 20-2 19 0 20-2 19 4 20-3 19 2 20-3 19 0 20 0 19 0 20 1 19 1 20 3 19-4 20 3 20-2 19-1 20 0 19 3 20-5 19 1 20-1 19-1 20 4 19 1 20-2 19 0 20 1 19 1 20 0 19-2 20 1 19 2 20-3 19 0 20 0 19 1 20-3 20 0 19 3 20 1 19-1 20-7 19 5 20-1 19 0 20 5 19-2 20-2 19-1 20-5 19 7 20 0 19-2 20 2 19-1 20 1 19-4 20 3 19-1 20 4 19-4 20 3 20-2 19 2 20 0 19-5 20 1 19 1 20-4 19 3 20 3 19-1 20-3 19 5 20 2 19-2 20 0 19-3 20 0 19 4 20-3 19-2 20 2 19 2 20-2 20-1 19 1 20 1 19-1 20 2 19-4 20 2 19 1 20 0 19 0 20-3 19 3 20-3 19 3 20 3 19-4 20 3 19-4 20-2 19 4 20 0 19 1 20-3 19 1 20 0 20 1 19-2 20-1 19 1 20 4 19 2 20-2 19 1 20 1 19-3 20 0 19 1 20 0 19 4 20-2 19-5 20 5 19-4 20 3 19 1 20-4 19 1 20 1 20 3 19-3 20-1 19-1 20-3 19 1 20 6 19 1 20 1 19-4 20-3 19 6 20-1 19-1 20-1 19 0 20-1 19 1 20-2 19 3 20-1 19 1 20-1 19 0 20 3 20 1 19 0 20-4 19-1 20-2 19 1 20 4 19-1 20 1 19-2 20 1 19-3 20 1 19 0 20-1 19 5 20-5 19 0 20 4 19-2 20-5 19 6 20-2 20-2 19 3 20 1 19 0 20-4 19 5 20-2 19-2 20 2 19-2 20 2 19 1 20-5 19 10 20-4 19-1 20-2 19 2 20-4 19 3 20 4 19-4 20 3 19-2 20 0 20-2 19-2 20 6 19-1 20-2 19 2 20-3 19-3 20 5 19-1 20-2 11 3" fill="none" stroke="#b3a35f" stroke-width="20"/></g>
<g transform="scale(0.1)" stroke-linejoin="round"><path d="M14885 8265l19 1 20-1 19 2 20-4 19 1 20 0 19 1 20-1 19-2 20 2 20-1 19 3 20-3 19 0 20 1 19-4 20 2 19-2 20-1 19 0 20 0 19-2 20 1 19-3 20 0 19-2 20 1 19-3 20 3 19-2 20-1 19 0 20 3 20 2 19 0 20 1 19-1 20 1 19-1 20 1 19-1 20 1 19 1 20-4 19 0 20 0 19-1 20 5 19-4 20 3 19-2 20 2 19-3 20-1 19 3 20 2 19 1 20-3 20-1 19 3 20 0 19-2 20 0 19 4 20-3 19-3 20 1 19 2 20 0 19-2 20 2 19 1 20-3 19-2 20 2 19-1 20 1 19 1 20-1 19 0 20-1 20 3 19 0 20-2 19 1 20-1 19 2 20-1 19 1 20-3 19 3 20-1 19 0 20 4 19-5 20 2 19-3 20 1 19-3 20 2 19 3 20 0 19-2 20 4 19-6 20 2 20 1 19 0 20 0 19 0 20 1 19-1 20 1 19-2 20 2 19-5 20 3 19 1 20 4 19-4 20 1 19-3 20 1 19 1 20 1 19-3 20 4 19-3 20 3 20-2 19-1 20-1 19 1 20-1 19 1 20-1 19 0 20 0 19 1 20 2 19-1 20-2 19 2 20-1 19 0 20 2 19 0 20 1 19-4 20 0 19 0 20 0 19 1 20 2 20-5 19-2 20 5 19 0 20 0 19-1 20 2 19 1 20-3 19 2 20-2 19 3 20-3 19 1 20 3 19-4 20-1 19 0 20-1 19 4 20 0 19-2 20 0 20 3 19-1 20-1 19-1 20 2 19-2 20 2 19 1 20 2 19-5 20 2 19 0 20-1 19 0 20 0 19 2 20 1 19-2 20-1 19 2 20 0 19-3 20 3 19-4 20 4 20-2 19-1 20 2 19-2 20 0 19 2 20 3 19-3 20-1 19 0 20 2 19 3 20-5 19-2 20 1 19 0 20 3 19 1 20-2 19-2 20 5 19-2 20 2 20-4 19 1 20 0 19-1 20 2 19-1 20 0 19 1 20 1 19-2 20-2 19 3 20 1 19-3 20 0 19 0 20-1 19 2 20-1 19 4 20-4 19-2 20 5 19-1 20-3 20 1 19 1 20-3 19 2 20 0 19 1 20 0 19-2 20-2 19 3 20 0 19 2 20-2 19 2 20 0 19-3 20-1 19 4 20 2 19-4 20 1 19 0 20-2 20 3 19-1 20 2 19-2 20-1 19 1 20-2 19 4 20-3 19 0 20 0 19 1 20 3 19-1 20-1 19 1 20-3 19 0 20 0 19 1 20 0 19-4 20 4 19 0 20-3 20 1 19 3 20-1 19-3 20 4 19-2 20 2 19 0 20-3 19 0 20-1 19 3 20-2 19 3 20-2 19 1 20-1 19 0 20 3 19-1 20 1 19-2 20 1 20 0 19 1 20-3 19-1 20 3 19-3 20 0 19-5 20 7 19-2 20 2 19-1 20 3 19-1 20-1 19-2 20-1 19 2 20 2 19-3 20 2 19-1 20 3 19-2 20 1 20 2 19-4 20-1 19 2 20 1 19-3 20 2 19 3 20-3 19 1 20-3 19 2 20 0 19-4 20 5 19-5 20-1 19 0 20 4 19-1 20 0 19-2 20 4 20 1 19 0 20-1 19-2 20 2 19-2 20 2 19 2 20-3 19 0 20-3 19 5 20-3 19 2 20 0 19-1 20 0 19 1 20 1 19-2 20 2 19-4 20 6 19-2 20-3 20 3 19-4 20 1 19 1 20-1 19-2 20 2 19 3 20 0 19 1 20-4 19 2 20 2 19-2 20 0 19-1 20 1 19 1 20-4 19 3 20 0 19-3 20 4 20-5 19 2 20 3 19 0 20 0 19-2 20 0 19 0 20 0 19 0 20 2 19 0 20 0 19-1 20 1 19 1 20-1 19-1 20-3 19 2 20-1 19 3 20 0 19-1 20-2 20 1 19 0 20 1 19 0 20 0 19-3 20 2 19 0 20-1 19 1 20-1 19 0 20 3 19-2 20 2 19 1 20-1 19-1 20-1 19 2 20-3 19 0 20 0 20 2 19 0 20 0 19-1 20-1 19 1 20-1 19 0 20 1 19-1 20 4 19-4 20 2 19-2 20 0 19 5 20-1 19-2 20 0 19 0 20 4 19-1 20-1 19-2 20 0 20 0 19-1 20-1 19 3 20-1 19 1 20 0 19-5 20 6 19-3 20 0 19 0 20 1 19 2 20-2 19 2 20-2 19-1 20 2 19 1 20-2 19 1 20-2 20 3 19-2 20-4 19 6 20-5 19 5 20-1 19 1 20-2 19-4 20 1 19 1 20 0 19 0 20 2 19 1 20 1 19-1 20 0 19-1 20 1 19-2 20 1 19-3 20 5 20-2 19 0 20-1 19 2 20-1 19-2 20 1 19 0 20 3 19 2 20-2 19-5 20 5 19 0 20-1 19-2 20 1 19-2 20 4 19 0 20-2 19 1 20 2 20-3 19 2 20 0 19-2 20 2 19-4 20 5 19-3 20 0 19 0 20 1 19-3 20 1 19-1 20 2 19-2 20-1 19 4 20-2 19-1 20 6 19-1 20-4 19 2 20 1 20-4 19 1 20-2 19 2 20 1 19 1 20 0 19-4 20 2 19-3 20 2 11 3 0 18 -11665 0z" fill="#c4605a" fill-opacity="0.1"/><path d="M14885 8265l19 1 20-1 19 2 20-4 19 1 20 0 19 1 20-1 19-2 20 2 20-1 19 3 20-3 19 0 20 1 19-4 20 2 19-2 20-1 19 0 20 0 19-2 20 1 19-3 20 0 19-2 20 1 19-3 20 3 19-2 20-1 19 0 20 3 20 2 19 0 20 1 19-1 20 1 19-1 20 1 19-1 20 1 19 1 20-4 19 0 20 0 19-1 20 5 19-4 20 3 19-2 20 2 19-3 20-1 19 3 20 2 19 1 20-3 20-1 19 3 20 0 19-2 20 0 19 4 20-3 19-3 20 1 19 2 20 0 19-2 20 2 19 1 20-3 19-2 20 2 19-1 20 1 19 1 20-1 19 0 20-1 20 3 19 0 20-2 19 1 20-1 19 2 20-1 19 1 20-3 19 3 20-1 19 0 20 4 19-5 20 2 19-3 20 1 19-3 20 2 19 3 20 0 19-2 20 4 19-6 20 2 20 1 19 0 20 0 19 0 20 1 19-1 20 1 19-2 20 2 19-5 20 3 19 1 20 4 19-4 20 1 19-3 20 1 19 1 20 1 19-3 20 4 19-3 20 3 20-2 19-1 20-1 19 1 20-1 19 1 20-1 19 0 20 0 19 1 20 2 19-1 20-2 19 2 20-1 19 0 20 2 19 0 20 1 19-4 20 0 19 0 20 0 19 1 20 2 20-5 19-2 20 5 19 0 20 0 19-1 20 2 19 1 20-3 19 2 20-2 19 3 20-3 19 1 20 3 19-4 20-1 19 0 20-1 19 4 20 0 19-2 20 0 20 3 19-1 20-1 19-1 20 2 19-2 20 2 19 1 20 2 19-5 20 2 19 0 20-1 19 0 20 0 19 2 20 1 19-2 20-1 19 2 20 0 19-3 20 3 19-4 20 4 20-2 19-1 20 2 19-2 20 0 19 2 20 3 19-3 20-1 19 0 20 2 19 3 20-5 19-2 20 1 19 0 20 3 19 1 20-2 19-2 20 5 19-2 20 2 20-4 19 1 20 0 19-1 20 2 19-1 20 0 19 1 20 1 19-2 20-2 19 3 20 1 19-3 20 0 19 0 20-1 19 2 20-1 19 4 20-4 19-2 20 5 19-1 20-3 20 1 19 1 20-3 19 2 20 0 19 1 20 0 19-2 20-2 19 3 20 0 19 2 20-2 19 2 20 0 19-3 20-1 19 4 20 2 19-4 20 1 19 0 20-2 20 3 19-1 20 2 19-2 20-1 19 1 20-2 19 4 20-3 19 0 20 0 19 1 20 3 19-1 20-1 19 1 20-3 19 0 20 0 19 1 20 0 19-4 20 4 19 0 20-3 20 1 19 3 20-1 19-3 20 4 19-2 20 2 19 0 20-3 19 0 20-1 19 3 20-2 19 3 20-2 19 1 20-1 19 0 20 3 19-1 20 1 19-2 20 1 20 0 19 1 20-3 19-1 20 3 19-3 20 0 19-5 20 7 19-2 20 2 19-1 20 3 19-1 20-1 19-2 20-1 19 2 20 2 19-3 20 2 19-1 20 3 19-2 20 1 20 2 19-4 20-1 19 2 20 1 19-3 20 2 19 3 20-3 19 1 20-3 19 2 20 0 19-4 20 5 19-5 20-1 19 0 20 4 19-1 20 0 19-2 20 4 20 1 19 0 20-1 19-2 20 2 19-2 20 2 19 2 20-3 19 0 20-3 19 5 20-3 19 2 20 0 19-1 20 0 19 1 20 1 19-2 20 2 19-4 20 6 19-2 20-3 20 3 19-4 20 1 19 1 20-1 19-2 20 2 19 3 20 0 19 1 20-4 19 2 20 2 19-2 20 0 19-1 20 1 19 1 20-4 19 3 20 0 19-3 20 4 20-5 19 2 20 3 19 0 20 0 19-2 20 0 19 0 20 0 19 0 20 2 19 0 20 0 19-1 20 1 19 1 20-1 19-1 20-3 19 2 20-1 19 3 20 0 19-1 20-2 20 1 19 0 20 1 19 0 20 0 19-3 20 2 19 0 20-1 19 1 20-1 19 0 20 3 19-2 20 2 19 1 20-1 19-1 20-1 19 2 20-3 19 0 20 0 20 2 19 0 20 0 19-1 20-1 19 1 20-1 19 0 20 1 19-1 20 4 19-4 20 2 19-2 20 0 19 5 20-1 19-2 20 0 19 0 20 4 19-1 20-1 19-2 20 0 20 0 19-1 20-1 19 3 20-1 19 1 20 0 19-5 20 6 19-3 20 0 19 0 20 1 19 2 20-2 19 2 20-2 19-1 20 2 19 1 20-2 19 1 20-2 20 3 19-2 20-4 19 6 20-5 19 5 20-1 19 1 20-2 19-4 20 1 19 1 20 0 19 0 20 2 19 1 20 1 19-1 20 0 19-1 20 1 19-2 20 1 19-3 20 5 20-2 19 0 20-1 19 2 20-1 19-2 20 1 19 0 20 3 19 2 20-2 19-5 20 5 19 0 20-1 19-2 20 1 19-2 20 4 19 0 20-2 19 1 20 2 20-3 19 2 20 0 19-2 20 2 19-4 20 5 19-3 20 0 19 0 20 1 19-3 20 1 19-1 20 2 19-2 20-1 19 4 20-2 19-1 20 6 19-1 20-4 19 2 20 1 20-4 19 1 20-2 19 2 20 1 19 1 20 0 19-4 20 2 19-3 20 2 11 3" fill="none" stroke="#c4605a" stroke-width="20"/></g>
<g transform="scale(0.1)" stroke-linejoin="round"><path d="M14885 8271l19 0 20 2 19-3 20-1 19 2 20 0 19-1 20-1 19 1 20 1 20-1 19 0 20 0 19 0 20-2 19 1 20-2 19 2 20 0 19-2 20 1 19 0 20 1 19 0 20-1 19 1 20 1 19-4 20 0 19 0 20 1 19-4 20 5 20-2 19 0 20 2 19-1 20 1 19 0 20 0 19-3 20 1 19 1 20 0 19 0 20-1 19 2 20-1 19 0 20-1 19 1 20 0 19-1 20 3 19-2 20-1 19 2 20 0 20-1 19-1 20 1 19 1 20-1 19 0 20 0 19 0 20 1 19 0 20-1 19 0 20 1 19-1 20 0 19-1 20 1 19 3 20-3 19 2 20-2 19 3 20-2 20-1 19 4 20-2 19-1 20 0 19-1 20-2 19 1 20 1 19 1 20-2 19 1 20-1 19 1 20 1 19-2 20 1 19 0 20-1 19-1 20 1 19 1 20-3 19 6 20-3 20-1 19-1 20 3 19 0 20-3 19 2 20-2 19 1 20 1 19-1 20-1 19 1 20 0 19 2 20 1 19-2 20 1 19-2 20-1 19 2 20 1 19 0 20-1 20 0 19 2 20-1 19-2 20 1 19-1 20 0 19 1 20 2 19-2 20 2 19-3 20 2 19 1 20-4 19 3 20-1 19 0 20 1 19 0 20-2 19 0 20 1 19 2 20-3 20 0 19 1 20 0 19 0 20 0 19 1 20 0 19-2 20 0 19 1 20 3 19-5 20 1 19 2 20-2 19-1 20 1 19-1 20 3 19-1 20 1 19-1 20-2 20 3 19 1 20 0 19-3 20 1 19 0 20 2 19-2 20 1 19-1 20 1 19-1 20-2 19 3 20-1 19 4 20-3 19-3 20 1 19 1 20 1 19-2 20 1 19 0 20-1 20 1 19 0 20 3 19-3 20-2 19 1 20 1 19 1 20 1 19-1 20-1 19-1 20 3 19-2 20-1 19 3 20 0 19-1 20 1 19-3 20 1 19 1 20 0 20-2 19 1 20 2 19-2 20 0 19-1 20-1 19 0 20 3 19 0 20 1 19-1 20 0 19-1 20 1 19-1 20 3 19-3 20-2 19 1 20-1 19 1 20 2 19-1 20-1 20 1 19-1 20 2 19-2 20 3 19 0 20-2 19 1 20-3 19 1 20 0 19-1 20 2 19-2 20 3 19 0 20 0 19-1 20 1 19-1 20 0 19 0 20 1 20 0 19-1 20 0 19-1 20 0 19 2 20-3 19-1 20 2 19 2 20 0 19-2 20 1 19 0 20 2 19-6 20 3 19 2 20-2 19 0 20-1 19 3 20-1 19-1 20 1 20 0 19 1 20 3 19-5 20 1 19-1 20 1 19-1 20 0 19 0 20 1 19-1 20-1 19 1 20 1 19 1 20 0 19 1 20-2 19 1 20 1 19 1 20-2 20-2 19 3 20-4 19 1 20 2 19 0 20 1 19-2 20-1 19 0 20 2 19-1 20-1 19-1 20 1 19 0 20 2 19 0 20-1 19 0 20 1 19-1 20-2 19 1 20 0 20 4 19-4 20 1 19 2 20-1 19 1 20-3 19 1 20 0 19-1 20 1 19 2 20-1 19-3 20 3 19-2 20 1 19 1 20 1 19 0 20-1 19 1 20-2 20 2 19-1 20-1 19 1 20 0 19-2 20 3 19-3 20 1 19 2 20-2 19 1 20-1 19 0 20 3 19-4 20 0 19 1 20-1 19 2 20 1 19-2 20 1 19 0 20-1 20 0 19-1 20-1 19 1 20 0 19 0 20 1 19 1 20 0 19 0 20-2 19 2 20-2 19 2 20-1 19-2 20 1 19 0 20 0 19 0 20 0 19 2 20-2 20 0 19 2 20-1 19-1 20-3 19 3 20 3 19-3 20 2 19 1 20 0 19-1 20 1 19-1 20 1 19-2 20 2 19 0 20-1 19 1 20 0 19-2 20 0 19-1 20 1 20 2 19-2 20-1 19 0 20 1 19-2 20 1 19 1 20-1 19 1 20-1 19 0 20 1 19 0 20-2 19 1 20 1 19 0 20 1 19-1 20-1 19 1 20 0 20 0 19-1 20-1 19 1 20-2 19 2 20 3 19-1 20-1 19 0 20 0 19-1 20 0 19 0 20 3 19-1 20-2 19 1 20 0 19-2 20 2 19-1 20 0 19-1 20 0 20 0 19 2 20 0 19 0 20 0 19 0 20 3 19-3 20 0 19 0 20 2 19-1 20-2 19 2 20 0 19 0 20-1 19 0 20 0 19 3 20-3 19-3 20 1 20-1 19 3 20 0 19 2 20 0 19-3 20 1 19 1 20-1 19 0 20 3 19-3 20-1 19 1 20 0 19 0 20-2 19 1 20 1 19 0 20 1 19-1 20-1 19 0 20 0 20 4 19-1 20-2 19 0 20-1 19 1 20-1 19 1 20-1 19 1 20-4 19 4 20 1 19 0 20-1 19-1 20 2 19 2 20-4 19 2 20-2 19 1 20-1 20 4 19-4 20 3 19 0 20-1 19 0 20-1 19 1 20 0 19 0 20-1 19 1 20-1 19 1 20 0 19-1 20 3 19-1 20 0 19-2 20 1 19-1 20 0 19-1 20 1 20 1 19 1 20 1 19-2 20 1 19-2 20-2 19 2 20 0 19 1 20-1 11 0 0 8 -11665 0z" fill="#7d786e" fill-opacity="0.1"/><path d="M14885 8271l19 0 20 2 19-3 20-1 19 2 20 0 19-1 20-1 19 1 20 1 20-1 19 0 20 0 19 0 20-2 19 1 20-2 19 2 20 0 19-2 20 1 19 0 20 1 19 0 20-1 19 1 20 1 19-4 20 0 19 0 20 1 19-4 20 5 20-2 19 0 20 2 19-1 20 1 19 0 20 0 19-3 20 1 19 1 20 0 19 0 20-1 19 2 20-1 19 0 20-1 19 1 20 0 19-1 20 3 19-2 20-1 19 2 20 0 20-1 19-1 20 1 19 1 20-1 19 0 20 0 19 0 20 1 19 0 20-1 19 0 20 1 19-1 20 0 19-1 20 1 19 3 20-3 19 2 20-2 19 3 20-2 20-1 19 4 20-2 19-1 20 0 19-1 20-2 19 1 20 1 19 1 20-2 19 1 20-1 19 1 20 1 19-2 20 1 19 0 20-1 19-1 20 1 19 1 20-3 19 6 20-3 20-1 19-1 20 3 19 0 20-3 19 2 20-2 19 1 20 1 19-1 20-1 19 1 20 0 19 2 20 1 19-2 20 1 19-2 20-1 19 2 20 1 19 0 20-1 20 0 19 2 20-1 19-2 20 1 19-1 20 0 19 1 20 2 19-2 20 2 19-3 20 2 19 1 20-4 19 3 20-1 19 0 20 1 19 0 20-2 19 0 20 1 19 2 20-3 20 0 19 1 20 0 19 0 20 0 19 1 20 0 19-2 20 0 19 1 20 3 19-5 20 1 19 2 20-2 19-1 20 1 19-1 20 3 19-1 20 1 19-1 20-2 20 3 19 1 20 0 19-3 20 1 19 0 20 2 19-2 20 1 19-1 20 1 19-1 20-2 19 3 20-1 19 4 20-3 19-3 20 1 19 1 20 1 19-2 20 1 19 0 20-1 20 1 19 0 20 3 19-3 20-2 19 1 20 1 19 1 20 1 19-1 20-1 19-1 20 3 19-2 20-1 19 3 20 0 19-1 20 1 19-3 20 1 19 1 20 0 20-2 19 1 20 2 19-2 20 0 19-1 20-1 19 0 20 3 19 0 20 1 19-1 20 0 19-1 20 1 19-1 20 3 19-3 20-2 19 1 20-1 19 1 20 2 19-1 20-1 20 1 19-1 20 2 19-2 20 3 19 0 20-2 19 1 20-3 19 1 20 0 19-1 20 2 19-2 20 3 19 0 20 0 19-1 20 1 19-1 20 0 19 0 20 1 20 0 19-1 20 0 19-1 20 0 19 2 20-3 19-1 20 2 19 2 20 0 19-2 20 1 19 0 20 2 19-6 20 3 19 2 20-2 19 0 20-1 19 3 20-1 19-1 20 1 20 0 19 1 20 3 19-5 20 1 19-1 20 1 19-1 20 0 19 0 20 1 19-1 20-1 19 1 20 1 19 1 20 0 19 1 20-2 19 1 20 1 19 1 20-2 20-2 19 3 20-4 19 1 20 2 19 0 20 1 19-2 20-1 19 0 20 2 19-1 20-1 19-1 20 1 19 0 20 2 19 0 20-1 19 0 20 1 19-1 20-2 19 1 20 0 20 4 19-4 20 1 19 2 20-1 19 1 20-3 19 1 20 0 19-1 20 1 19 2 20-1 19-3 20 3 19-2 20 1 19 1 20 1 19 0 20-1 19 1 20-2 20 2 19-1 20-1 19 1 20 0 19-2 20 3 19-3 20 1 19 2 20-2 19 1 20-1 19 0 20 3 19-4 20 0 19 1 20-1 19 2 20 1 19-2 20 1 19 0 20-1 20 0 19-1 20-1 19 1 20 0 19 0 20 1 19 1 20 0 19 0 20-2 19 2 20-2 19 2 20-1 19-2 20 1 19 0 20 0 19 0 20 0 19 2 20-2 20 0 19 2 20-1 19-1 20-3 19 3 20 3 19-3 20 2 19 1 20 0 19-1 20 1 19-1 20 1 19-2 20 2 19 0 20-1 19 1 20 0 19-2 20 0 19-1 20 1 20 2 19-2 20-1 19 0 20 1 19-2 20 1 19 1 20-1 19 1 20-1 19 0 20 1 19 0 20-2 19 1 20 1 19 0 20 1 19-1 20-1 19 1 20 0 20 0 19-1 20-1 19 1 20-2 19 2 20 3 19-1 20-1 19 0 20 0 19-1 20 0 19 0 20 3 19-1 20-2 19 1 20 0 19-2 20 2 19-1 20 0 19-1 20 0 20 0 19 2 20 0 19 0 20 0 19 0 20 3 19-3 20 0 19 0 20 2 19-1 20-2 19 2 20 0 19 0 20-1 19 0 20 0 19 3 20-3 19-3 20 1 20-1 19 3 20 0 19 2 20 0 19-3 20 1 19 1 20-1 19 0 20 3 19-3 20-1 19 1 20 0 19 0 20-2 19 1 20 1 19 0 20 1 19-1 20-1 19 0 20 0 20 4 19-1 20-2 19 0 20-1 19 1 20-1 19 1 20-1 19 1 20-4 19 4 20 1 19 0 20-1 19-1 20 2 19 2 20-4 19 2 20-2 19 1 20-1 20 4 19-4 20 3 19 0 20-1 19 0 20-1 19 1 20 0 19 0 20-1 19 1 20-1 19 1 20 0 19-1 20 3 19-1 20 0 19-2 20 1 19-1 20 0 19-1 20 1 20 1 19 1 20 1 19-2 20 1 19-2 20-2 19 2 20 0 19 1 20-1 11 0" fill="none" stroke="#7d786e" stroke-width="20"/></g>
<g transform="scale(0.1)" stroke-linejoin="round"><path d="M14885 8230l19-98 20 101 19-4 20 4 19 4 20-1 19-2 20-7 19 7 20-3 20-1 19-4 20-2 19-2 20 0 19-7 20-4 19-3 20-3 19-6 20-600 19 611 20-9 19-5 20 0 19 0 20-7 19 3 20-11 19-1 20 12 19 3 20 1 20-5 19 7 20-6 19 3 20-11 19 1 20 16 19 0 20-9 19 8 20-9 19-4 20 12 19-4 20-3 19-8 20 8 19-8 20 11 19 3 20-118 19 109 20 2 19-4 20 7 20-6 19 11 20-15 19 1 20 4 19 3 20-2 19-1 20 18 19-18 20-1 19 3 20 4 19-5 20 6 19 6 20-8 19 5 20 4 19-12 20 4 19-9 20 11 20-9 19 5 20-7 19 1 20-1 19 8 20-3 19-3 20 4 19-1 20-10 19 6 20 14 19-6 20-3 19 1 20-3 19-6 20 7 19 1 20-1 19-5 20 3 19 6 20-1 20 0 19-9 20 4 19 1 20-10 19 18 20 2 19-11 20 6 19 2 20 8 19-7 20-13 19 9 20 2 19-5 20 1 19-4 20 10 19-7 20 5 19-5 20 11 20-13 19 6 20-11 19 8 20 4 19-10 20 12 19 7 20-15 19 3 20-7 19 0 20 2 19 4 20 2 19 0 20-10 19-3 20 3 19 7 20 2 19 1 20-8 19-1 20 4 20 3 19 11 20-18 19 0 20 4 19 3 20 1 19-4 20 12 19-16 20 9 19 0 20-8 19 11 20-13 19 10 20 9 19-22 20 5 19 11 20-8 19-1 20 3 20-6 19 5 20-8 19 14 20-3 19-1 20-5 19 7 20 6 19-10 20 1 19 3 20-3 19-4 20 2 19 5 20-1 19 6 20-12 19 9 20-11 19 9 20-8 19 1 20 6 20 7 19-13 20 6 19 1 20 0 19 1 20 1 19 10 20-13 19 0 20 7 19-6 20 0 19 0 20-5 19-2 20-1 19 2 20 11 19-4 20-2 19-3 20 6 20-7 19-3 20 7 19-7 20 7 19-6 20 9 19 0 20-3 19 7 20-81 19 78 20-18 19 5 20 11 19 2 20-21 19 18 20 8 19-17 20 17 19-20 20 7 19-5 20 8 20-7 19 1 20 3 19-6 20-1 19 13 20-1 19 7 20-12 19 3 20 1 19 1 20 8 19-9 20 0 19 13 20-10 19-3 20-1 19 6 20 1 19 2 20 0 20-1 19-8 20 8 19-5 20-4 19-7 20-6 19 3 20 10 19-2 20 9 19-16 20 12 19-4 20-2 19-1 20 15 19 1 20-7 19-7 20-5 19-905 20 912 19 4 20 0 20-14 19 3 20-2 19-1 20 7 19-6 20 9 19-3 20 6 19 9 20-16 19 14 20-3 19-4 20-1 19-503 20 501 19 4 20 2 19-2 20-4 19 5 20 10 20-24 19 14 20-3 19-2 20 8 19-20 20 19 19-9 20 6 19-7 20 3 19-1 20 3 19-12 20 16 19-2 20-7 19 6 20-5 19-3 20 8 19-3 20-4 19-1 20 2 20 9 19-2 20-4 19 12 20-21 19 11 20 4 19 1 20-6 19-9 20 2 19 11 20-8 19 2 20-6 19 6 20 0 19 7 20-1 19-2 20 3 19-5 20-4 20 7 19-6 20 7 19-1 20-3 19-7 20-2 19-3 20 12 19 8 20-8 19-1 20-8 19 10 20 0 19 3 20-9 19 10 20-9 19-846 20 852 19-1 20-1 19 6 20-10 20 2 19-3 20 7 19 2 20-12 19 5 20-5 19 9 20-8 19 7 20-8 19 10 20-7 19 5 20 6 19-6 20-2 19 2 20 2 19 0 20-6 19 5 20-3 20 0 19 0 20 5 19-2 20 4 19-6 20-1 19 2 20-5 19 1 20 7 19-3 20-1 19-1 20 4 19-11 20 9 19 6 20-5 19 1 20-6 19 10 20-19 19 8 20 9 20-7 19 5 20-6 19 1 20 1 19 4 20 3 19-3 20 4 19-3 20-5 19 3 20 2 19-4 20 1 19-8 20-299 19 304 20 9 19 0 20-4 19-2 20 6 20-4 19 5 20-5 19-7 20-4 19-1 20 7 19 7 20-9 19 0 20 4 19 2 20-1 19 0 20 3 19-4 20 0 19 1 20 4 19-2 20-12 19 6 20 8 19-2 20-7 20 1 19 5 20-8 19 1 20 13 19 3 20-5 19 1 20 8 19-6 20 7 19 3 20-11 19 8 20-11 19 1 20-4 19 8 20-3 19 4 20 4 19-8 20 3 20-4 19 2 20-1 19-3 20 9 19-8 20 6 19-3 20 3 19-1 20 2 19 11 20-12 19-4 20 0 19 0 20-2 19-6 20 12 19 6 20-8 19-4 20 7 19 2 20-7 20-3 19 11 20-12 19 5 20-10 19 18 20-6 19-10 20 12 19 6 20-753 19 758 20-12 19-1 20-1 19 5 20-6 19 1 20-2 19 8 20-6 19 14 20-17 20 12 19-5 20-11 19 8 20 1 19-10 20 13 19 0 20-6 19 6 20-4 19-4 20 14 19-17 20 1 19 3 20 5 19-3 20-8 19 9 20 3 19-7 20 1 19-4 20 9 20 1 19-2 20 10 19-5 20-9 19-6 20 11 19-3 20 6 19-9 20-2 11-3 0 83 -11665 0z" fill="#d6a70b" fill-opacity="0.1"/><path d="M14885 8230l19-98 20 101 19-4 20 4 19 4 20-1 19-2 20-7 19 7 20-3 20-1 19-4 20-2 19-2 20 0 19-7 20-4 19-3 20-3 19-6 20-600 19 611 20-9 19-5 20 0 19 0 20-7 19 3 20-11 19-1 20 12 19 3 20 1 20-5 19 7 20-6 19 3 20-11 19 1 20 16 19 0 20-9 19 8 20-9 19-4 20 12 19-4 20-3 19-8 20 8 19-8 20 11 19 3 20-118 19 109 20 2 19-4 20 7 20-6 19 11 20-15 19 1 20 4 19 3 20-2 19-1 20 18 19-18 20-1 19 3 20 4 19-5 20 6 19 6 20-8 19 5 20 4 19-12 20 4 19-9 20 11 20-9 19 5 20-7 19 1 20-1 19 8 20-3 19-3 20 4 19-1 20-10 19 6 20 14 19-6 20-3 19 1 20-3 19-6 20 7 19 1 20-1 19-5 20 3 19 6 20-1 20 0 19-9 20 4 19 1 20-10 19 18 20 2 19-11 20 6 19 2 20 8 19-7 20-13 19 9 20 2 19-5 20 1 19-4 20 10 19-7 20 5 19-5 20 11 20-13 19 6 20-11 19 8 20 4 19-10 20 12 19 7 20-15 19 3 20-7 19 0 20 2 19 4 20 2 19 0 20-10 19-3 20 3 19 7 20 2 19 1 20-8 19-1 20 4 20 3 19 11 20-18 19 0 20 4 19 3 20 1 19-4 20 12 19-16 20 9 19 0 20-8 19 11 20-13 19 10 20 9 19-22 20 5 19 11 20-8 19-1 20 3 20-6 19 5 20-8 19 14 20-3 19-1 20-5 19 7 20 6 19-10 20 1 19 3 20-3 19-4 20 2 19 5 20-1 19 6 20-12 19 9 20-11 19 9 20-8 19 1 20 6 20 7 19-13 20 6 19 1 20 0 19 1 20 1 19 10 20-13 19 0 20 7 19-6 20 0 19 0 20-5 19-2 20-1 19 2 20 11 19-4 20-2 19-3 20 6 20-7 19-3 20 7 19-7 20 7 19-6 20 9 19 0 20-3 19 7 20-81 19 78 20-18 19 5 20 11 19 2 20-21 19 18 20 8 19-17 20 17 19-20 20 7 19-5 20 8 20-7 19 1 20 3 19-6 20-1 19 13 20-1 19 7 20-12 19 3 20 1 19 1 20 8 19-9 20 0 19 13 20-10 19-3 20-1 19 6 20 1 19 2 20 0 20-1 19-8 20 8 19-5 20-4 19-7 20-6 19 3 20 10 19-2 20 9 19-16 20 12 19-4 20-2 19-1 20 15 19 1 20-7 19-7 20-5 19-905 20 912 19 4 20 0 20-14 19 3 20-2 19-1 20 7 19-6 20 9 19-3 20 6 19 9 20-16 19 14 20-3 19-4 20-1 19-503 20 501 19 4 20 2 19-2 20-4 19 5 20 10 20-24 19 14 20-3 19-2 20 8 19-20 20 19 19-9 20 6 19-7 20 3 19-1 20 3 19-12 20 16 19-2 20-7 19 6 20-5 19-3 20 8 19-3 20-4 19-1 20 2 20 9 19-2 20-4 19 12 20-21 19 11 20 4 19 1 20-6 19-9 20 2 19 11 20-8 19 2 20-6 19 6 20 0 19 7 20-1 19-2 20 3 19-5 20-4 20 7 19-6 20 7 19-1 20-3 19-7 20-2 19-3 20 12 19 8 20-8 19-1 20-8 19 10 20 0 19 3 20-9 19 10 20-9 19-846 20 852 19-1 20-1 19 6 20-10 20 2 19-3 20 7 19 2 20-12 19 5 20-5 19 9 20-8 19 7 20-8 19 10 20-7 19 5 20 6 19-6 20-2 19 2 20 2 19 0 20-6 19 5 20-3 20 0 19 0 20 5 19-2 20 4 19-6 20-1 19 2 20-5 19 1 20 7 19-3 20-1 19-1 20 4 19-11 20 9 19 6 20-5 19 1 20-6 19 10 20-19 19 8 20 9 20-7 19 5 20-6 19 1 20 1 19 4 20 3 19-3 20 4 19-3 20-5 19 3 20 2 19-4 20 1 19-8 20-299 19 304 20 9 19 0 20-4 19-2 20 6 20-4 19 5 20-5 19-7 20-4 19-1 20 7 19 7 20-9 19 0 20 4 19 2 20-1 19 0 20 3 19-4 20 0 19 1 20 4 19-2 20-12 19 6 20 8 19-2 20-7 20 1 19 5 20-8 19 1 20 13 19 3 20-5 19 1 20 8 19-6 20 7 19 3 20-11 19 8 20-11 19 1 20-4 19 8 20-3 19 4 20 4 19-8 20 3 20-4 19 2 20-1 19-3 20 9 19-8 20 6 19-3 20 3 19-1 20 2 19 11 20-12 19-4 20 0 19 0 20-2 19-6 20 12 19 6 20-8 19-4 20 7 19 2 20-7 20-3 19 11 20-12 19 5 20-10 19 18 20-6 19-10 20 12 19 6 20-753 19 758 20-12 19-1 20-1 19 5 20-6 19 1 20-2 19 8 20-6 19 14 20-17 20 12 19-5 20-11 19 8 20 1 19-10 20 13 19 0 20-6 19 6 20-4 19-4 20 14 19-17 20 1 19 3 20 5 19-3 20-8 19 9 20 3 19-7 20 1 19-4 20 9 20 1 19-2 20 10 19-5 20-9 19-6 20 11 19-3 20 6 19-9 20-2 11-3" fill="none" stroke="#d6a70b" stroke-width="20"/></g>
<line x1="1488.5" y1="630" x2="1488.5" y2="832.7" stroke="#0cbce2" stroke-width="1.25" stroke-dasharray="3.1 1.9"/><path d="M1478.5,842.1L1498.5,842.1L1488.2,832.7Z" fill="#05add3"/>
</g>
<g font-family='&quot;Liberation Sans&quot;, &quot;Noto Sans CJK SC&quot;, sans-serif' font-size="24" fill="#c7d0d9">
<text x="94.8" y="361.1" text-anchor="end">0</text>
<text x="94.8" y="299.4" text-anchor="end">250</text>
<text x="94.8" y="235.6" text-anchor="end">500</text>
<text x="94.8" y="173.5" text-anchor="end">750</text>
<text x="94.8" y="111.1" text-anchor="end">1.00 K</text>
<text x="202" y="402.6" text-anchor="middle">23:00</text>
<text x="438.2" y="402.6" text-anchor="middle">23:10</text>
<text x="674.5" y="402.6" text-anchor="middle">23:20</text>
<text x="910.8" y="402.6" text-anchor="middle">23:30</text>
<text x="1147" y="402.6" text-anchor="middle">23:40</text>
<text x="1410.4" y="361.1" text-anchor="end">0</text>
<text x="1410.4" y="299.4" text-anchor="end">10</text>
<text x="1410.4" y="235.6" text-anchor="end">20</text>
<text x="1410.4" y="173.5" text-anchor="end">30</text>
<text x="1410.4" y="111.1" text-anchor="end">40</text>
<text x="1523" y="402.6" text-anchor="middle">23:00</text>
<text x="1767.2" y="402.6" text-anchor="middle">23:10</text>
<text x="2011.5" y="402.6" text-anchor="middle">23:20</text>
<text x="2255.8" y="402.6" text-anchor="middle">23:30</text>
<text x="2500" y="402.6" text-anchor="middle">23:40</text>
<text x="105.8" y="836.8" text-anchor="end">0 ms</text>
<text x="105.8" y="797.8" text-anchor="end">100 ms</text>
<text x="105.8" y="758.8" text-anchor="end">200 ms</text>
<text x="105.8" y="719.8" text-anchor="end">300 ms</text>
<text x="105.8" y="680.8" text-anchor="end">400 ms</text>
<text x="105.8" y="641.1" text-anchor="end">500 ms</text>
<text x="214" y="879.2" text-anchor="middle">23:00</text>
<text x="448.2" y="879.2" text-anchor="middle">23:10</text>
<text x="682.5" y="879.2" text-anchor="middle">23:20</text>
<text x="916.8" y="879.2" text-anchor="middle">23:30</text>
<text x="1151" y="879.2" text-anchor="middle">23:40</text>
<text x="1462.6" y="836.8" text-anchor="end">0 ms</text>
<text x="1462.6" y="770.8" text-anchor="end">500 ms</text>
<text x="1462.6" y="706.3" text-anchor="end">1.0 s</text>
<text x="1462.6" y="641.1" text-anchor="end">1.5 s</text>
<text x="1571" y="879.2" text-anchor="middle">23:00</text>
<text x="1805.2" y="879.2" text-anchor="middle">23:10</text>
<text x="2039.5" y="879.2" text-anchor="middle">23:20</text>
<text x="2273.8" y="879.2" text-anchor="middle">23:30</text>
<text x="2508" y="879.2" text-anchor="middle">23:40</text>
</g>
</svg>
</body></html>
